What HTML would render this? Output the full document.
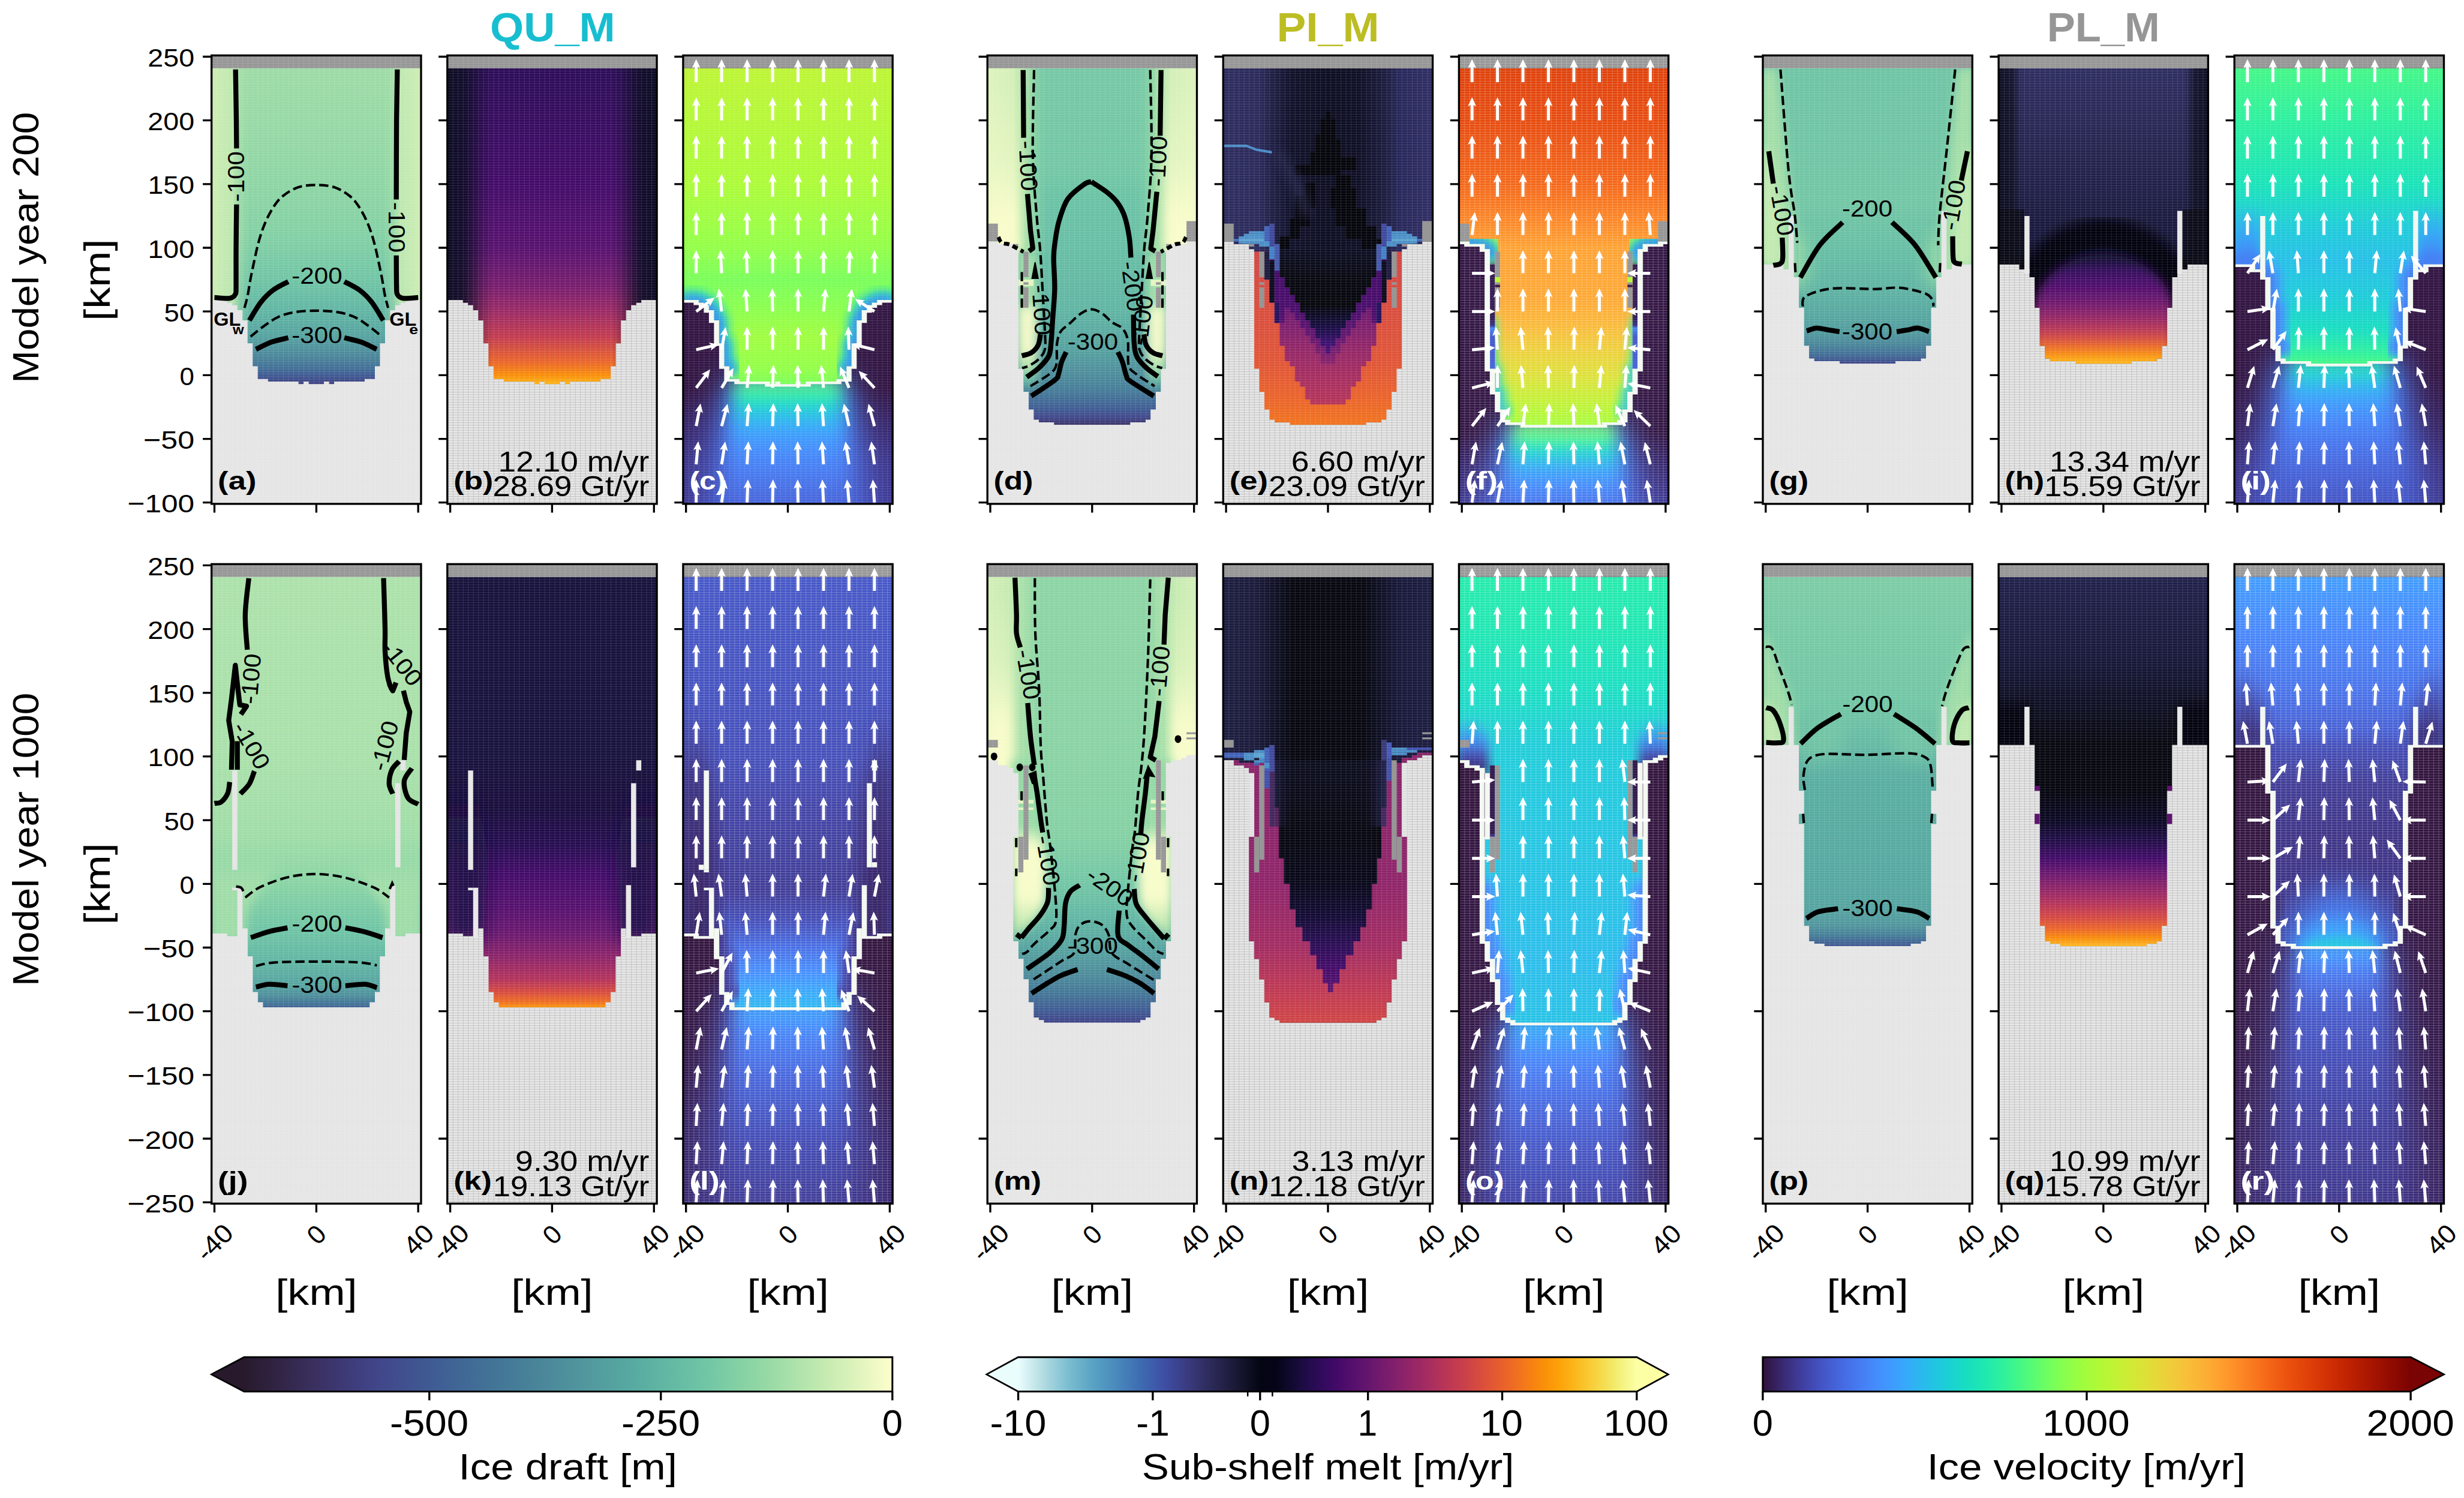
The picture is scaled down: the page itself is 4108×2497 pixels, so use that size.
<!DOCTYPE html>
<html><head><meta charset="utf-8"><title>figure</title>
<style>html,body{margin:0;padding:0;background:#fff}svg{display:block}text{font-family:"Liberation Sans", sans-serif;white-space:pre}</style>
</head><body>
<svg width="4108" height="2497" viewBox="0 0 4108 2497">
<defs>
<path id="ar" d="M-2.5,0 L-2.5,-25.6 L-6.9,-23.4 L0,-38.6 L6.9,-23.4 L2.5,-25.6 L2.5,0 Z" fill="#fff"/>
<filter id="b8" x="-20%" y="-20%" width="140%" height="140%"><feGaussianBlur stdDeviation="8"/></filter>
<filter id="b14" x="-30%" y="-30%" width="160%" height="160%"><feGaussianBlur stdDeviation="14"/></filter>
<filter id="b25" x="-50%" y="-50%" width="200%" height="200%"><feGaussianBlur stdDeviation="25"/></filter>
<clipPath id="cp_a"><rect x="352.7" y="92.4" width="349.3" height="747.5"/></clipPath>
<linearGradient id="a_v" gradientUnits="userSpaceOnUse" x1="0.0" y1="113.6" x2="0.0" y2="640.3"><stop offset="0.0000" stop-color="#9cdba6"/><stop offset="0.1653" stop-color="#97d9a5"/><stop offset="0.3669" stop-color="#8dd5a4"/><stop offset="0.5282" stop-color="#83d0a4"/><stop offset="0.6573" stop-color="#71c6a5"/><stop offset="0.7702" stop-color="#60b5a3"/><stop offset="0.8468" stop-color="#55a3a0"/><stop offset="0.9113" stop-color="#4a869a"/><stop offset="0.9516" stop-color="#416d96"/><stop offset="0.9718" stop-color="#3f5a93"/><stop offset="1.0000" stop-color="#404183"/></linearGradient>
<linearGradient id="a_hl" gradientUnits="userSpaceOnUse" x1="353.2" y1="0.0" x2="416.9" y2="0.0"><stop offset="0.0000" stop-color="#cdedb4" stop-opacity="1.000"/><stop offset="0.5333" stop-color="#c3eab0" stop-opacity="0.900"/><stop offset="0.7000" stop-color="#b1e3ab" stop-opacity="0.500"/><stop offset="1.0000" stop-color="#a2dda8" stop-opacity="0.000"/></linearGradient>
<linearGradient id="a_hr" gradientUnits="userSpaceOnUse" x1="637.8" y1="0.0" x2="701.5" y2="0.0"><stop offset="0.0000" stop-color="#a2dda8" stop-opacity="0.000"/><stop offset="0.3000" stop-color="#b1e3ab" stop-opacity="0.500"/><stop offset="0.4667" stop-color="#c3eab0" stop-opacity="0.900"/><stop offset="1.0000" stop-color="#cdedb4" stop-opacity="1.000"/></linearGradient>
<clipPath id="a_c"><path d="M349.0,113.6 L349.0,500.1 L378.7,500.1 L378.7,504.4 L387.2,504.4 L387.2,508.6 L395.7,508.6 L395.7,517.1 L404.2,517.1 L404.2,534.1 L412.7,534.1 L412.7,572.3 L421.2,572.3 L421.2,610.5 L429.7,610.5 L429.7,631.8 L446.7,631.8 L446.7,636.0 L497.6,636.0 L497.6,640.3 L506.1,640.3 L506.1,636.0 L514.6,636.0 L514.6,640.3 L527.4,640.3 L527.4,640.3 L540.1,640.3 L540.1,636.0 L548.6,636.0 L548.6,640.3 L557.1,640.3 L557.1,636.0 L608.0,636.0 L608.0,631.8 L625.0,631.8 L625.0,610.5 L633.5,610.5 L633.5,572.3 L642.0,572.3 L642.0,534.1 L650.5,534.1 L650.5,517.1 L659.0,517.1 L659.0,508.6 L667.5,508.6 L667.5,504.4 L676.0,504.4 L676.0,500.1 L705.7,500.1 L705.7,113.6 Z"/></clipPath>
<pattern id="gl_a" patternUnits="userSpaceOnUse" x="353.22" y="92.40" width="8.494" height="4.247"><path d="M0,0 V4.247 M0,0 H8.494" stroke="#fff" stroke-opacity="0.15" stroke-width="1.8" fill="none"/></pattern>
<pattern id="gd_a" patternUnits="userSpaceOnUse" x="353.22" y="92.40" width="8.494" height="4.247"><path d="M0,0 V4.247 M0,0 H8.494" stroke="#888" stroke-opacity="0.38" stroke-width="2" fill="none"/></pattern>
<clipPath id="cp_b"><rect x="745.8" y="92.4" width="349.3" height="747.5"/></clipPath>
<pattern id="gl_b" patternUnits="userSpaceOnUse" x="746.32" y="92.40" width="8.494" height="4.247"><path d="M0,0 V4.247 M0,0 H8.494" stroke="#fff" stroke-opacity="0.15" stroke-width="1.8" fill="none"/></pattern>
<pattern id="gd_b" patternUnits="userSpaceOnUse" x="746.32" y="92.40" width="8.494" height="4.247"><path d="M0,0 V4.247 M0,0 H8.494" stroke="#888" stroke-opacity="0.38" stroke-width="2" fill="none"/></pattern>
<linearGradient id="b_v" gradientUnits="userSpaceOnUse" x1="0.0" y1="113.6" x2="0.0" y2="640.3"><stop offset="0.0000" stop-color="#2b0b57"/><stop offset="0.3669" stop-color="#420a68"/><stop offset="0.5685" stop-color="#57106e"/><stop offset="0.6895" stop-color="#771c6d"/><stop offset="0.7702" stop-color="#9b2964"/><stop offset="0.8508" stop-color="#c33b4f"/><stop offset="0.9315" stop-color="#eb6628"/><stop offset="0.9718" stop-color="#f98e09"/><stop offset="1.0000" stop-color="#fcb418"/></linearGradient>
<clipPath id="b_c"><path d="M742.1,113.6 L742.1,500.1 L771.8,500.1 L771.8,504.4 L780.3,504.4 L780.3,508.6 L788.8,508.6 L788.8,517.1 L797.3,517.1 L797.3,534.1 L805.8,534.1 L805.8,572.3 L814.3,572.3 L814.3,610.5 L822.8,610.5 L822.8,631.8 L839.8,631.8 L839.8,636.0 L890.7,636.0 L890.7,640.3 L899.2,640.3 L899.2,636.0 L907.7,636.0 L907.7,640.3 L920.4,640.3 L920.4,640.3 L933.2,640.3 L933.2,636.0 L941.7,636.0 L941.7,640.3 L950.2,640.3 L950.2,636.0 L1001.1,636.0 L1001.1,631.8 L1018.1,631.8 L1018.1,610.5 L1026.6,610.5 L1026.6,572.3 L1035.1,572.3 L1035.1,534.1 L1043.6,534.1 L1043.6,517.1 L1052.1,517.1 L1052.1,508.6 L1060.6,508.6 L1060.6,504.4 L1069.1,504.4 L1069.1,500.1 L1098.8,500.1 L1098.8,113.6 Z"/></clipPath>
<linearGradient id="b_hl" gradientUnits="userSpaceOnUse" x1="746.3" y1="0.0" x2="822.8" y2="0.0"><stop offset="0.0000" stop-color="#0c0a24" stop-opacity="1.000"/><stop offset="0.3333" stop-color="#0c0a24" stop-opacity="0.920"/><stop offset="0.5556" stop-color="#0c0a24" stop-opacity="0.600"/><stop offset="0.7778" stop-color="#0c0a24" stop-opacity="0.200"/><stop offset="1.0000" stop-color="#0c0a24" stop-opacity="0.000"/></linearGradient>
<linearGradient id="b_hr" gradientUnits="userSpaceOnUse" x1="1018.1" y1="0.0" x2="1094.6" y2="0.0"><stop offset="0.0000" stop-color="#0c0a24" stop-opacity="0.000"/><stop offset="0.2222" stop-color="#0c0a24" stop-opacity="0.200"/><stop offset="0.4444" stop-color="#0c0a24" stop-opacity="0.600"/><stop offset="0.6667" stop-color="#0c0a24" stop-opacity="0.920"/><stop offset="1.0000" stop-color="#0c0a24" stop-opacity="1.000"/></linearGradient>
<clipPath id="cp_c"><rect x="1138.9" y="92.4" width="349.3" height="747.5"/></clipPath>
<linearGradient id="c_sd" gradientUnits="userSpaceOnUse" x1="0.0" y1="498.0" x2="0.0" y2="837.7"><stop offset="0.0000" stop-color="#321543"/><stop offset="0.4375" stop-color="#321543"/><stop offset="0.6250" stop-color="#38276d"/><stop offset="0.8125" stop-color="#3d358b"/><stop offset="1.0000" stop-color="#3e3891"/></linearGradient>
<linearGradient id="c_sw" gradientUnits="userSpaceOnUse" x1="0.0" y1="614.8" x2="0.0" y2="839.9"><stop offset="0.0000" stop-color="#4685fa"/><stop offset="0.4245" stop-color="#477bf2"/><stop offset="1.0000" stop-color="#455ed3"/></linearGradient>
<linearGradient id="c_st" gradientUnits="userSpaceOnUse" x1="0.0" y1="633.9" x2="0.0" y2="837.7"><stop offset="0.0000" stop-color="#79fe59"/><stop offset="0.0833" stop-color="#35f394"/><stop offset="0.1667" stop-color="#18dec0"/><stop offset="0.3229" stop-color="#2eb4f2"/><stop offset="0.4792" stop-color="#4196ff"/><stop offset="0.6875" stop-color="#4680f6"/><stop offset="1.0000" stop-color="#4664da"/></linearGradient>
<clipPath id="c_c"><path d="M1135.2,113.6 L1135.2,500.1 L1164.9,500.1 L1164.9,504.4 L1173.4,504.4 L1173.4,508.6 L1181.9,508.6 L1181.9,517.1 L1190.4,517.1 L1190.4,534.1 L1198.9,534.1 L1198.9,572.3 L1207.4,572.3 L1207.4,610.5 L1215.9,610.5 L1215.9,631.8 L1232.9,631.8 L1232.9,636.0 L1283.8,636.0 L1283.8,640.3 L1292.3,640.3 L1292.3,636.0 L1300.8,636.0 L1300.8,640.3 L1313.5,640.3 L1313.5,640.3 L1326.3,640.3 L1326.3,636.0 L1334.8,636.0 L1334.8,640.3 L1343.3,640.3 L1343.3,636.0 L1394.2,636.0 L1394.2,631.8 L1411.2,631.8 L1411.2,610.5 L1419.7,610.5 L1419.7,572.3 L1428.2,572.3 L1428.2,534.1 L1436.7,534.1 L1436.7,517.1 L1445.2,517.1 L1445.2,508.6 L1453.7,508.6 L1453.7,504.4 L1462.2,504.4 L1462.2,500.1 L1491.9,500.1 L1491.9,113.6 Z"/></clipPath>
<linearGradient id="c_sh" gradientUnits="userSpaceOnUse" x1="0.0" y1="113.6" x2="0.0" y2="642.4"><stop offset="0.0000" stop-color="#bcf534"/><stop offset="0.3655" stop-color="#acfb38"/><stop offset="0.5663" stop-color="#92ff47"/><stop offset="0.6667" stop-color="#79fe59"/><stop offset="0.7470" stop-color="#88ff4e"/><stop offset="0.8474" stop-color="#9ffd3f"/><stop offset="0.9478" stop-color="#92ff47"/><stop offset="1.0000" stop-color="#79fe59"/></linearGradient>
<pattern id="gl_c" patternUnits="userSpaceOnUse" x="1139.42" y="92.40" width="8.494" height="4.247"><path d="M0,0 V4.247 M0,0 H8.494" stroke="#fff" stroke-opacity="0.15" stroke-width="1.8" fill="none"/></pattern>
<pattern id="gd_c" patternUnits="userSpaceOnUse" x="1139.42" y="92.40" width="8.494" height="4.247"><path d="M0,0 V4.247 M0,0 H8.494" stroke="#888" stroke-opacity="0.38" stroke-width="2" fill="none"/></pattern>
<clipPath id="cp_d"><rect x="1646.2" y="92.4" width="349.3" height="747.5"/></clipPath>
<clipPath id="d_c"><path d="M1642.5,113.6 L1642.5,402.4 L1663.7,402.4 L1663.7,406.7 L1689.2,406.7 L1689.2,415.2 L1697.7,415.2 L1697.7,614.8 L1706.2,614.8 L1706.2,653.0 L1714.7,653.0 L1714.7,682.7 L1723.2,682.7 L1723.2,699.7 L1731.7,699.7 L1731.7,704.0 L1757.1,704.0 L1757.1,708.2 L1820.8,708.2 L1820.8,708.2 L1884.6,708.2 L1884.6,704.0 L1910.0,704.0 L1910.0,699.7 L1918.5,699.7 L1918.5,682.7 L1927.0,682.7 L1927.0,653.0 L1935.5,653.0 L1935.5,614.8 L1944.0,614.8 L1944.0,415.2 L1952.5,415.2 L1952.5,406.7 L1978.0,406.7 L1978.0,402.4 L1999.2,402.4 L1999.2,113.6 Z"/></clipPath>
<linearGradient id="d_v" gradientUnits="userSpaceOnUse" x1="0.0" y1="113.6" x2="0.0" y2="708.2"><stop offset="0.0000" stop-color="#75c8a5"/><stop offset="0.2893" stop-color="#72c7a5"/><stop offset="0.3607" stop-color="#6ac2a5"/><stop offset="0.5036" stop-color="#67bea4"/><stop offset="0.6750" stop-color="#60b5a3"/><stop offset="0.7821" stop-color="#55a3a0"/><stop offset="0.8429" stop-color="#4f919c"/><stop offset="0.8964" stop-color="#467f98"/><stop offset="0.9321" stop-color="#416b96"/><stop offset="0.9571" stop-color="#3f5a93"/><stop offset="0.9786" stop-color="#41488b"/><stop offset="1.0000" stop-color="#3b3469"/></linearGradient>
<linearGradient id="d_hl" gradientUnits="userSpaceOnUse" x1="1646.7" y1="0.0" x2="1748.7" y2="0.0"><stop offset="0.0000" stop-color="#ddf3bc" stop-opacity="1.000"/><stop offset="0.4167" stop-color="#d3efb7" stop-opacity="1.000"/><stop offset="0.5625" stop-color="#b4e4ac" stop-opacity="1.000"/><stop offset="0.6667" stop-color="#9edca7" stop-opacity="1.000"/><stop offset="0.7500" stop-color="#8dd5a4" stop-opacity="0.900"/><stop offset="0.8542" stop-color="#7fcea4" stop-opacity="0.500"/><stop offset="1.0000" stop-color="#76c9a5" stop-opacity="0.000"/></linearGradient>
<linearGradient id="d_hr" gradientUnits="userSpaceOnUse" x1="1893.0" y1="0.0" x2="1995.0" y2="0.0"><stop offset="0.0000" stop-color="#76c9a5" stop-opacity="0.000"/><stop offset="0.1458" stop-color="#7fcea4" stop-opacity="0.500"/><stop offset="0.2500" stop-color="#8dd5a4" stop-opacity="0.900"/><stop offset="0.3333" stop-color="#9edca7" stop-opacity="1.000"/><stop offset="0.4375" stop-color="#b4e4ac" stop-opacity="1.000"/><stop offset="0.5833" stop-color="#d3efb7" stop-opacity="1.000"/><stop offset="1.0000" stop-color="#ddf3bc" stop-opacity="1.000"/></linearGradient>
<linearGradient id="d_y" gradientUnits="userSpaceOnUse" x1="0.0" y1="137.0" x2="0.0" y2="421.5"><stop offset="0.0000" stop-color="#fbfdcb" stop-opacity="0.000"/><stop offset="0.4478" stop-color="#fbfdcb" stop-opacity="0.350"/><stop offset="0.7836" stop-color="#fbfdcb" stop-opacity="0.900"/><stop offset="1.0000" stop-color="#fbfdcb" stop-opacity="0.950"/></linearGradient>
<linearGradient id="d_e" gradientUnits="userSpaceOnUse" x1="0.0" y1="419.4" x2="0.0" y2="655.1"><stop offset="0.0000" stop-color="#a2dda8"/><stop offset="0.3694" stop-color="#a6dfa9"/><stop offset="0.4144" stop-color="#f7fcc9"/><stop offset="0.6937" stop-color="#f5fbc8"/><stop offset="0.8018" stop-color="#b8e6ad"/><stop offset="0.8919" stop-color="#76c9a5"/><stop offset="1.0000" stop-color="#55a3a0" stop-opacity="0.000"/></linearGradient>
<pattern id="gl_d" patternUnits="userSpaceOnUse" x="1646.72" y="92.40" width="8.494" height="4.247"><path d="M0,0 V4.247 M0,0 H8.494" stroke="#fff" stroke-opacity="0.15" stroke-width="1.8" fill="none"/></pattern>
<pattern id="gd_d" patternUnits="userSpaceOnUse" x="1646.72" y="92.40" width="8.494" height="4.247"><path d="M0,0 V4.247 M0,0 H8.494" stroke="#888" stroke-opacity="0.38" stroke-width="2" fill="none"/></pattern>
<clipPath id="cp_e"><rect x="2039.3" y="92.4" width="349.3" height="747.5"/></clipPath>
<pattern id="gl_e" patternUnits="userSpaceOnUse" x="2039.82" y="92.40" width="8.494" height="4.247"><path d="M0,0 V4.247 M0,0 H8.494" stroke="#fff" stroke-opacity="0.15" stroke-width="1.8" fill="none"/></pattern>
<pattern id="gd_e" patternUnits="userSpaceOnUse" x="2039.82" y="92.40" width="8.494" height="4.247"><path d="M0,0 V4.247 M0,0 H8.494" stroke="#888" stroke-opacity="0.38" stroke-width="2" fill="none"/></pattern>
<clipPath id="e_c"><path d="M2035.6,113.6 L2035.6,402.4 L2056.8,402.4 L2056.8,406.7 L2082.3,406.7 L2082.3,415.2 L2090.8,415.2 L2090.8,614.8 L2099.3,614.8 L2099.3,653.0 L2107.8,653.0 L2107.8,682.7 L2116.3,682.7 L2116.3,699.7 L2124.8,699.7 L2124.8,704.0 L2150.2,704.0 L2150.2,708.2 L2214.0,708.2 L2214.0,708.2 L2277.7,708.2 L2277.7,704.0 L2303.1,704.0 L2303.1,699.7 L2311.6,699.7 L2311.6,682.7 L2320.1,682.7 L2320.1,653.0 L2328.6,653.0 L2328.6,614.8 L2337.1,614.8 L2337.1,415.2 L2345.6,415.2 L2345.6,406.7 L2371.1,406.7 L2371.1,402.4 L2392.3,402.4 L2392.3,113.6 Z"/></clipPath>
<linearGradient id="e_o" gradientUnits="userSpaceOnUse" x1="0.0" y1="402.4" x2="0.0" y2="708.2"><stop offset="0.0000" stop-color="#d04545"/><stop offset="0.3125" stop-color="#d74b3f"/><stop offset="0.6597" stop-color="#e05536"/><stop offset="0.8333" stop-color="#e9612b"/><stop offset="1.0000" stop-color="#f1731d"/></linearGradient>
<linearGradient id="e_n" gradientUnits="userSpaceOnUse" x1="2039.8" y1="0.0" x2="2388.1" y2="0.0"><stop offset="0.0000" stop-color="#2c2b5e"/><stop offset="0.1707" stop-color="#2a295a"/><stop offset="0.2317" stop-color="#1e1e44"/><stop offset="0.3171" stop-color="#10112a"/><stop offset="0.5000" stop-color="#0b0c20"/><stop offset="0.6463" stop-color="#0d0e24"/><stop offset="0.7683" stop-color="#1a1a3c"/><stop offset="0.8415" stop-color="#27265a"/><stop offset="1.0000" stop-color="#2f2d63"/></linearGradient>
<linearGradient id="e_m" gradientUnits="userSpaceOnUse" x1="0.0" y1="444.9" x2="0.0" y2="674.2"><stop offset="0.0000" stop-color="#4a0c6b"/><stop offset="0.2315" stop-color="#5f136e"/><stop offset="0.4167" stop-color="#7c1d6d"/><stop offset="0.6019" stop-color="#932667"/><stop offset="0.7870" stop-color="#a52c60"/><stop offset="1.0000" stop-color="#b63458"/></linearGradient>
<linearGradient id="e_p" gradientUnits="userSpaceOnUse" x1="0.0" y1="444.9" x2="0.0" y2="606.3"><stop offset="0.0000" stop-color="#420a68"/><stop offset="0.4605" stop-color="#4a0c6b"/><stop offset="0.7237" stop-color="#5f136e" stop-opacity="0.900"/><stop offset="1.0000" stop-color="#771c6d" stop-opacity="0.600"/></linearGradient>
<linearGradient id="e_v" gradientUnits="userSpaceOnUse" x1="0.0" y1="419.4" x2="0.0" y2="589.3"><stop offset="0.0000" stop-color="#0c0e22"/><stop offset="0.2750" stop-color="#06070f"/><stop offset="0.5250" stop-color="#05050c"/><stop offset="0.6500" stop-color="#0d0b2b"/><stop offset="0.7750" stop-color="#1d0c4b"/><stop offset="0.9000" stop-color="#3b0f70"/><stop offset="1.0000" stop-color="#4b1079"/></linearGradient>
<clipPath id="cp_f"><rect x="2432.4" y="92.4" width="349.3" height="747.5"/></clipPath>
<linearGradient id="f_sd" gradientUnits="userSpaceOnUse" x1="0.0" y1="413.0" x2="0.0" y2="837.7"><stop offset="0.0000" stop-color="#321543"/><stop offset="0.7250" stop-color="#321543"/><stop offset="0.8500" stop-color="#38276d"/><stop offset="1.0000" stop-color="#3e3891"/></linearGradient>
<linearGradient id="f_sw" gradientUnits="userSpaceOnUse" x1="0.0" y1="689.1" x2="0.0" y2="839.9"><stop offset="0.0000" stop-color="#4685fa"/><stop offset="0.5634" stop-color="#477bf2"/><stop offset="1.0000" stop-color="#4664da"/></linearGradient>
<linearGradient id="f_st" gradientUnits="userSpaceOnUse" x1="0.0" y1="706.1" x2="0.0" y2="839.9"><stop offset="0.0000" stop-color="#a4fc3c"/><stop offset="0.0952" stop-color="#6dfe62"/><stop offset="0.2222" stop-color="#27eea4"/><stop offset="0.3810" stop-color="#1ecbda"/><stop offset="0.5873" stop-color="#3ba0fd"/><stop offset="0.8254" stop-color="#4685fa"/><stop offset="1.0000" stop-color="#4771e9"/></linearGradient>
<clipPath id="f_c"><path d="M2428.7,113.6 L2428.7,402.4 L2449.9,402.4 L2449.9,406.7 L2475.4,406.7 L2475.4,415.2 L2483.9,415.2 L2483.9,614.8 L2492.4,614.8 L2492.4,653.0 L2500.9,653.0 L2500.9,682.7 L2509.4,682.7 L2509.4,699.7 L2517.9,699.7 L2517.9,704.0 L2543.3,704.0 L2543.3,708.2 L2607.1,708.2 L2607.1,708.2 L2670.8,708.2 L2670.8,704.0 L2696.2,704.0 L2696.2,699.7 L2704.7,699.7 L2704.7,682.7 L2713.2,682.7 L2713.2,653.0 L2721.7,653.0 L2721.7,614.8 L2730.2,614.8 L2730.2,415.2 L2738.7,415.2 L2738.7,406.7 L2764.2,406.7 L2764.2,402.4 L2785.4,402.4 L2785.4,113.6 Z"/></clipPath>
<linearGradient id="f_sh" gradientUnits="userSpaceOnUse" x1="0.0" y1="113.6" x2="0.0" y2="710.3"><stop offset="0.0000" stop-color="#df3f08"/><stop offset="0.1459" stop-color="#e7490c"/><stop offset="0.3238" stop-color="#f46617"/><stop offset="0.4306" stop-color="#fc8725"/><stop offset="0.5018" stop-color="#fea130"/><stop offset="0.6441" stop-color="#fea732"/><stop offset="0.7082" stop-color="#fbb637"/><stop offset="0.7865" stop-color="#eecf3a"/><stop offset="0.8577" stop-color="#dde037"/><stop offset="0.9288" stop-color="#c3f134"/><stop offset="1.0000" stop-color="#a7fc3a"/></linearGradient>
<pattern id="gl_f" patternUnits="userSpaceOnUse" x="2432.92" y="92.40" width="8.494" height="4.247"><path d="M0,0 V4.247 M0,0 H8.494" stroke="#fff" stroke-opacity="0.15" stroke-width="1.8" fill="none"/></pattern>
<pattern id="gd_f" patternUnits="userSpaceOnUse" x="2432.92" y="92.40" width="8.494" height="4.247"><path d="M0,0 V4.247 M0,0 H8.494" stroke="#888" stroke-opacity="0.38" stroke-width="2" fill="none"/></pattern>
<linearGradient id="f_wst" gradientUnits="userSpaceOnUse" x1="0.0" y1="415.2" x2="0.0" y2="614.8"><stop offset="0.0000" stop-color="#341b51"/><stop offset="0.5745" stop-color="#351e58"/><stop offset="0.6383" stop-color="#3c3286"/><stop offset="0.6596" stop-color="#4685fa"/><stop offset="0.7340" stop-color="#4559cb"/><stop offset="1.0000" stop-color="#4664da"/></linearGradient>
<clipPath id="cp_g"><rect x="2939.0" y="92.4" width="349.3" height="747.5"/></clipPath>
<clipPath id="g_c"><path d="M2935.3,113.6 L2935.3,440.7 L2973.5,440.7 L2973.5,449.1 L2990.5,449.1 L2990.5,461.9 L2999.0,461.9 L2999.0,512.9 L3007.5,512.9 L3007.5,576.6 L3016.0,576.6 L3016.0,597.8 L3024.5,597.8 L3024.5,602.0 L3066.9,602.0 L3066.9,606.3 L3113.7,606.3 L3113.7,606.3 L3160.4,606.3 L3160.4,602.0 L3202.8,602.0 L3202.8,597.8 L3211.3,597.8 L3211.3,576.6 L3219.8,576.6 L3219.8,512.9 L3228.3,512.9 L3228.3,461.9 L3236.8,461.9 L3236.8,449.1 L3253.8,449.1 L3253.8,440.7 L3292.0,440.7 L3292.0,113.6 Z"/></clipPath>
<linearGradient id="g_v" gradientUnits="userSpaceOnUse" x1="0.0" y1="113.6" x2="0.0" y2="608.4"><stop offset="0.0000" stop-color="#6ec4a5"/><stop offset="0.4549" stop-color="#71c6a5"/><stop offset="0.6052" stop-color="#67bea4"/><stop offset="0.7339" stop-color="#5fb4a3"/><stop offset="0.8412" stop-color="#56a6a0"/><stop offset="0.8841" stop-color="#529c9e"/><stop offset="0.9313" stop-color="#4a869a"/><stop offset="0.9657" stop-color="#416d96"/><stop offset="0.9871" stop-color="#405390"/><stop offset="1.0000" stop-color="#404183"/></linearGradient>
<linearGradient id="g_el" gradientUnits="userSpaceOnUse" x1="2999.0" y1="0.0" x2="3041.5" y2="0.0"><stop offset="0.0000" stop-color="#8dd5a4" stop-opacity="0.900"/><stop offset="1.0000" stop-color="#71c6a5" stop-opacity="0.000"/></linearGradient>
<linearGradient id="g_er" gradientUnits="userSpaceOnUse" x1="3185.8" y1="0.0" x2="3228.3" y2="0.0"><stop offset="0.0000" stop-color="#71c6a5" stop-opacity="0.000"/><stop offset="1.0000" stop-color="#8dd5a4" stop-opacity="0.900"/></linearGradient>
<linearGradient id="g_em" gradientUnits="userSpaceOnUse" x1="0.0" y1="370.6" x2="0.0" y2="498.0"><stop offset="0.0000" stop-color="#fff" stop-opacity="0.000"/><stop offset="0.3333" stop-color="#fff" stop-opacity="1.000"/><stop offset="0.6667" stop-color="#fff" stop-opacity="1.000"/><stop offset="1.0000" stop-color="#fff" stop-opacity="0.000"/></linearGradient>
<mask id="g_m"><rect x="2939.0" y="92.4" width="349.3" height="747.5" fill="url(#g_em)"/></mask>
<pattern id="gl_g" patternUnits="userSpaceOnUse" x="2939.52" y="92.40" width="8.494" height="4.247"><path d="M0,0 V4.247 M0,0 H8.494" stroke="#fff" stroke-opacity="0.15" stroke-width="1.8" fill="none"/></pattern>
<pattern id="gd_g" patternUnits="userSpaceOnUse" x="2939.52" y="92.40" width="8.494" height="4.247"><path d="M0,0 V4.247 M0,0 H8.494" stroke="#888" stroke-opacity="0.38" stroke-width="2" fill="none"/></pattern>
<clipPath id="cp_h"><rect x="3332.1" y="92.4" width="349.3" height="747.5"/></clipPath>
<pattern id="gl_h" patternUnits="userSpaceOnUse" x="3332.62" y="92.40" width="8.494" height="4.247"><path d="M0,0 V4.247 M0,0 H8.494" stroke="#fff" stroke-opacity="0.15" stroke-width="1.8" fill="none"/></pattern>
<pattern id="gd_h" patternUnits="userSpaceOnUse" x="3332.62" y="92.40" width="8.494" height="4.247"><path d="M0,0 V4.247 M0,0 H8.494" stroke="#888" stroke-opacity="0.38" stroke-width="2" fill="none"/></pattern>
<clipPath id="h_c"><path d="M3328.4,113.6 L3328.4,440.7 L3366.6,440.7 L3366.6,449.1 L3383.6,449.1 L3383.6,461.9 L3392.1,461.9 L3392.1,512.9 L3400.6,512.9 L3400.6,576.6 L3409.1,576.6 L3409.1,597.8 L3417.6,597.8 L3417.6,602.0 L3460.0,602.0 L3460.0,606.3 L3506.8,606.3 L3506.8,606.3 L3553.5,606.3 L3553.5,602.0 L3595.9,602.0 L3595.9,597.8 L3604.4,597.8 L3604.4,576.6 L3612.9,576.6 L3612.9,512.9 L3621.4,512.9 L3621.4,461.9 L3629.9,461.9 L3629.9,449.1 L3646.9,449.1 L3646.9,440.7 L3685.1,440.7 L3685.1,113.6 Z"/></clipPath>
<linearGradient id="h_v" gradientUnits="userSpaceOnUse" x1="0.0" y1="113.6" x2="0.0" y2="625.4"><stop offset="0.0000" stop-color="#2d2c60"/><stop offset="0.1701" stop-color="#282755"/><stop offset="0.3776" stop-color="#201f48"/><stop offset="0.4813" stop-color="#1a1a40"/><stop offset="0.6058" stop-color="#14143a"/><stop offset="0.6473" stop-color="#05050e"/><stop offset="1.0000" stop-color="#05050e"/></linearGradient>
<linearGradient id="h_d" gradientUnits="userSpaceOnUse" x1="0.0" y1="417.3" x2="0.0" y2="606.3"><stop offset="0.0000" stop-color="#0c0822"/><stop offset="0.0899" stop-color="#160b39"/><stop offset="0.1798" stop-color="#340a5f"/><stop offset="0.2921" stop-color="#4a0c6b"/><stop offset="0.4494" stop-color="#6a176e"/><stop offset="0.6180" stop-color="#9b2964"/><stop offset="0.7528" stop-color="#cc4248"/><stop offset="0.8652" stop-color="#f06f20"/><stop offset="0.9551" stop-color="#fca108"/><stop offset="1.0000" stop-color="#fbbe23"/></linearGradient>
<linearGradient id="h_l" gradientUnits="userSpaceOnUse" x1="3332.6" y1="0.0" x2="3370.8" y2="0.0"><stop offset="0.0000" stop-color="#0a0b1c" stop-opacity="0.900"/><stop offset="0.5556" stop-color="#0a0b1c" stop-opacity="0.750"/><stop offset="1.0000" stop-color="#0a0b1c" stop-opacity="0.000"/></linearGradient>
<linearGradient id="h_r" gradientUnits="userSpaceOnUse" x1="3642.7" y1="0.0" x2="3680.9" y2="0.0"><stop offset="0.0000" stop-color="#0a0b1c" stop-opacity="0.000"/><stop offset="0.4444" stop-color="#0a0b1c" stop-opacity="0.750"/><stop offset="1.0000" stop-color="#0a0b1c" stop-opacity="0.900"/></linearGradient>
<clipPath id="cp_i"><rect x="3725.2" y="92.4" width="349.3" height="747.5"/></clipPath>
<linearGradient id="i_sd" gradientUnits="userSpaceOnUse" x1="0.0" y1="434.3" x2="0.0" y2="839.9"><stop offset="0.0000" stop-color="#321543"/><stop offset="0.4712" stop-color="#321543"/><stop offset="0.6806" stop-color="#36215f"/><stop offset="0.8377" stop-color="#3b2f80"/><stop offset="1.0000" stop-color="#3d358b"/></linearGradient>
<linearGradient id="i_sw" gradientUnits="userSpaceOnUse" x1="0.0" y1="582.9" x2="0.0" y2="839.9"><stop offset="0.0000" stop-color="#477bf2"/><stop offset="0.4132" stop-color="#4771e9"/><stop offset="1.0000" stop-color="#4456c7"/></linearGradient>
<linearGradient id="i_st" gradientUnits="userSpaceOnUse" x1="0.0" y1="599.9" x2="0.0" y2="839.9"><stop offset="0.0000" stop-color="#3cf58e"/><stop offset="0.0708" stop-color="#18dbc5"/><stop offset="0.1770" stop-color="#2eb4f2"/><stop offset="0.3274" stop-color="#4294ff"/><stop offset="0.5487" stop-color="#4778f0"/><stop offset="0.7699" stop-color="#4664da"/><stop offset="1.0000" stop-color="#4454c3"/></linearGradient>
<clipPath id="i_c"><path d="M3721.5,113.6 L3721.5,440.7 L3759.7,440.7 L3759.7,449.1 L3776.7,449.1 L3776.7,461.9 L3785.2,461.9 L3785.2,512.9 L3793.7,512.9 L3793.7,576.6 L3802.2,576.6 L3802.2,597.8 L3810.7,597.8 L3810.7,602.0 L3853.1,602.0 L3853.1,606.3 L3899.8,606.3 L3899.8,606.3 L3946.6,606.3 L3946.6,602.0 L3989.0,602.0 L3989.0,597.8 L3997.5,597.8 L3997.5,576.6 L4006.0,576.6 L4006.0,512.9 L4014.5,512.9 L4014.5,461.9 L4023.0,461.9 L4023.0,449.1 L4040.0,449.1 L4040.0,440.7 L4078.2,440.7 L4078.2,113.6 Z"/></clipPath>
<linearGradient id="i_sh" gradientUnits="userSpaceOnUse" x1="0.0" y1="113.6" x2="0.0" y2="608.4"><stop offset="0.0000" stop-color="#43f787"/><stop offset="0.1760" stop-color="#2cf09e"/><stop offset="0.3906" stop-color="#19e3b9"/><stop offset="0.5408" stop-color="#1ecbda"/><stop offset="0.6481" stop-color="#25c0e7"/><stop offset="0.7768" stop-color="#1ccdd8"/><stop offset="0.8841" stop-color="#18dec0"/><stop offset="0.9571" stop-color="#2cf09e"/><stop offset="1.0000" stop-color="#46f884"/></linearGradient>
<pattern id="gl_i" patternUnits="userSpaceOnUse" x="3725.72" y="92.40" width="8.494" height="4.247"><path d="M0,0 V4.247 M0,0 H8.494" stroke="#fff" stroke-opacity="0.15" stroke-width="1.8" fill="none"/></pattern>
<pattern id="gd_i" patternUnits="userSpaceOnUse" x="3725.72" y="92.40" width="8.494" height="4.247"><path d="M0,0 V4.247 M0,0 H8.494" stroke="#888" stroke-opacity="0.38" stroke-width="2" fill="none"/></pattern>
<linearGradient id="i_sp" gradientUnits="userSpaceOnUse" x1="0.0" y1="338.7" x2="0.0" y2="436.4"><stop offset="0.0000" stop-color="#3ba0fd" stop-opacity="0.000"/><stop offset="0.5435" stop-color="#3e9bfe" stop-opacity="0.750"/><stop offset="1.0000" stop-color="#477bf2" stop-opacity="1.000"/></linearGradient>
<clipPath id="cp_j"><rect x="352.7" y="940.3" width="349.3" height="1066.0"/></clipPath>
<clipPath id="j_c"><path d="M349.0,961.5 L349.0,1556.1 L378.7,1556.1 L378.7,1560.4 L404.2,1560.4 L404.2,1547.6 L412.7,1547.6 L412.7,1594.3 L421.2,1594.3 L421.2,1653.8 L429.7,1653.8 L429.7,1670.8 L438.2,1670.8 L438.2,1679.3 L527.4,1679.3 L527.4,1679.3 L616.5,1679.3 L616.5,1670.8 L625.0,1670.8 L625.0,1653.8 L633.5,1653.8 L633.5,1594.3 L642.0,1594.3 L642.0,1547.6 L650.5,1547.6 L650.5,1560.4 L676.0,1560.4 L676.0,1556.1 L705.7,1556.1 L705.7,961.5 Z"/></clipPath>
<linearGradient id="j_v" gradientUnits="userSpaceOnUse" x1="0.0" y1="961.5" x2="0.0" y2="1681.4"><stop offset="0.0000" stop-color="#ace1aa"/><stop offset="0.4159" stop-color="#a9e0aa"/><stop offset="0.5929" stop-color="#a0dda7"/><stop offset="0.6873" stop-color="#8ed6a4"/><stop offset="0.8053" stop-color="#71c6a5"/><stop offset="0.8938" stop-color="#60b5a3"/><stop offset="0.9469" stop-color="#55a3a0"/><stop offset="0.9705" stop-color="#4d8d9b"/><stop offset="0.9853" stop-color="#437897"/><stop offset="1.0000" stop-color="#3f5e94"/></linearGradient>
<linearGradient id="j_s" gradientUnits="userSpaceOnUse" x1="0.0" y1="1430.8" x2="0.0" y2="1562.5"><stop offset="0.0000" stop-color="#a6dfa9" stop-opacity="0.000"/><stop offset="0.3226" stop-color="#a3dea8" stop-opacity="0.900"/><stop offset="1.0000" stop-color="#9edca7" stop-opacity="1.000"/></linearGradient>
<pattern id="gl_j" patternUnits="userSpaceOnUse" x="353.22" y="940.30" width="8.494" height="4.247"><path d="M0,0 V4.247 M0,0 H8.494" stroke="#fff" stroke-opacity="0.15" stroke-width="1.8" fill="none"/></pattern>
<pattern id="gd_j" patternUnits="userSpaceOnUse" x="353.22" y="940.30" width="8.494" height="4.247"><path d="M0,0 V4.247 M0,0 H8.494" stroke="#888" stroke-opacity="0.38" stroke-width="2" fill="none"/></pattern>
<clipPath id="cp_k"><rect x="745.8" y="940.3" width="349.3" height="1066.0"/></clipPath>
<pattern id="gl_k" patternUnits="userSpaceOnUse" x="746.32" y="940.30" width="8.494" height="4.247"><path d="M0,0 V4.247 M0,0 H8.494" stroke="#fff" stroke-opacity="0.15" stroke-width="1.8" fill="none"/></pattern>
<pattern id="gd_k" patternUnits="userSpaceOnUse" x="746.32" y="940.30" width="8.494" height="4.247"><path d="M0,0 V4.247 M0,0 H8.494" stroke="#888" stroke-opacity="0.38" stroke-width="2" fill="none"/></pattern>
<clipPath id="k_c"><path d="M742.1,961.5 L742.1,1556.1 L771.8,1556.1 L771.8,1560.4 L797.3,1560.4 L797.3,1547.6 L805.8,1547.6 L805.8,1594.3 L814.3,1594.3 L814.3,1653.8 L822.8,1653.8 L822.8,1670.8 L831.3,1670.8 L831.3,1679.3 L920.4,1679.3 L920.4,1679.3 L1009.6,1679.3 L1009.6,1670.8 L1018.1,1670.8 L1018.1,1653.8 L1026.6,1653.8 L1026.6,1594.3 L1035.1,1594.3 L1035.1,1547.6 L1043.6,1547.6 L1043.6,1560.4 L1069.1,1560.4 L1069.1,1556.1 L1098.8,1556.1 L1098.8,961.5 Z"/></clipPath>
<linearGradient id="k_v" gradientUnits="userSpaceOnUse" x1="0.0" y1="961.5" x2="0.0" y2="1681.4"><stop offset="0.0000" stop-color="#15113a"/><stop offset="0.4159" stop-color="#17113d"/><stop offset="0.5339" stop-color="#180c3c"/><stop offset="0.6224" stop-color="#260c51"/><stop offset="0.6873" stop-color="#420a68"/><stop offset="0.7699" stop-color="#57106e"/><stop offset="0.8260" stop-color="#6a176e"/><stop offset="0.8791" stop-color="#8c2369"/><stop offset="0.9322" stop-color="#b3325a"/><stop offset="0.9617" stop-color="#d74b3f"/><stop offset="0.9853" stop-color="#f06f20"/><stop offset="1.0000" stop-color="#fca108"/></linearGradient>
<linearGradient id="k_s" gradientUnits="userSpaceOnUse" x1="0.0" y1="1303.4" x2="0.0" y2="1568.9"><stop offset="0.0000" stop-color="#140f38" stop-opacity="0.000"/><stop offset="0.4000" stop-color="#160f3e" stop-opacity="0.800"/><stop offset="1.0000" stop-color="#1b0f48" stop-opacity="0.850"/></linearGradient>
<clipPath id="cp_l"><rect x="1138.9" y="940.3" width="349.3" height="1066.0"/></clipPath>
<linearGradient id="l_sd" gradientUnits="userSpaceOnUse" x1="0.0" y1="1554.0" x2="0.0" y2="2008.4"><stop offset="0.0000" stop-color="#30123b"/><stop offset="0.2897" stop-color="#321543"/><stop offset="0.5234" stop-color="#341b51"/><stop offset="0.7570" stop-color="#372466"/><stop offset="1.0000" stop-color="#38276d"/></linearGradient>
<linearGradient id="l_sw" gradientUnits="userSpaceOnUse" x1="0.0" y1="1600.7" x2="0.0" y2="2025.4"><stop offset="0.0000" stop-color="#4666dd"/><stop offset="0.3000" stop-color="#4559cb"/><stop offset="0.7000" stop-color="#4040a2"/><stop offset="1.0000" stop-color="#3c3286"/></linearGradient>
<linearGradient id="l_st" gradientUnits="userSpaceOnUse" x1="0.0" y1="1668.7" x2="0.0" y2="2008.4"><stop offset="0.0000" stop-color="#33adf7"/><stop offset="0.0813" stop-color="#4196ff"/><stop offset="0.1750" stop-color="#4680f6"/><stop offset="0.3625" stop-color="#4666dd"/><stop offset="0.6750" stop-color="#424bb5"/><stop offset="1.0000" stop-color="#3f3b97"/></linearGradient>
<clipPath id="l_c"><path d="M1135.2,961.5 L1135.2,1556.1 L1164.9,1556.1 L1164.9,1560.4 L1190.4,1560.4 L1190.4,1547.6 L1198.9,1547.6 L1198.9,1594.3 L1207.4,1594.3 L1207.4,1653.8 L1215.9,1653.8 L1215.9,1670.8 L1224.4,1670.8 L1224.4,1679.3 L1313.5,1679.3 L1313.5,1679.3 L1402.7,1679.3 L1402.7,1670.8 L1411.2,1670.8 L1411.2,1653.8 L1419.7,1653.8 L1419.7,1594.3 L1428.2,1594.3 L1428.2,1547.6 L1436.7,1547.6 L1436.7,1560.4 L1462.2,1560.4 L1462.2,1556.1 L1491.9,1556.1 L1491.9,961.5 Z"/></clipPath>
<linearGradient id="l_sh" gradientUnits="userSpaceOnUse" x1="0.0" y1="961.5" x2="0.0" y2="1681.4"><stop offset="0.0000" stop-color="#4456c7"/><stop offset="0.4159" stop-color="#434eba"/><stop offset="0.5339" stop-color="#4143a7"/><stop offset="0.6519" stop-color="#3f3e9c"/><stop offset="0.7257" stop-color="#3f3b97"/><stop offset="0.7994" stop-color="#434eba"/><stop offset="0.8584" stop-color="#476ee6"/><stop offset="0.9174" stop-color="#448ffe"/><stop offset="0.9617" stop-color="#37a8fa"/><stop offset="1.0000" stop-color="#2cb7f0"/></linearGradient>
<pattern id="gl_l" patternUnits="userSpaceOnUse" x="1139.42" y="940.30" width="8.494" height="4.247"><path d="M0,0 V4.247 M0,0 H8.494" stroke="#fff" stroke-opacity="0.15" stroke-width="1.8" fill="none"/></pattern>
<pattern id="gd_l" patternUnits="userSpaceOnUse" x="1139.42" y="940.30" width="8.494" height="4.247"><path d="M0,0 V4.247 M0,0 H8.494" stroke="#888" stroke-opacity="0.38" stroke-width="2" fill="none"/></pattern>
<linearGradient id="l_sp" gradientUnits="userSpaceOnUse" x1="0.0" y1="1176.0" x2="0.0" y2="1568.9"><stop offset="0.0000" stop-color="#392a73" stop-opacity="0.000"/><stop offset="0.3243" stop-color="#392a73" stop-opacity="0.800"/><stop offset="1.0000" stop-color="#36215f" stop-opacity="1.000"/></linearGradient>
<clipPath id="cp_m"><rect x="1646.2" y="940.3" width="349.3" height="1066.0"/></clipPath>
<clipPath id="m_c"><path d="M1642.5,961.5 L1642.5,1267.3 L1663.7,1267.3 L1663.7,1275.8 L1680.7,1275.8 L1680.7,1280.1 L1689.2,1280.1 L1689.2,1568.9 L1697.7,1568.9 L1697.7,1598.6 L1706.2,1598.6 L1706.2,1632.6 L1714.7,1632.6 L1714.7,1670.8 L1723.2,1670.8 L1723.2,1696.3 L1731.7,1696.3 L1731.7,1700.5 L1740.2,1700.5 L1740.2,1704.8 L1901.5,1704.8 L1901.5,1700.5 L1910.0,1700.5 L1910.0,1696.3 L1918.5,1696.3 L1918.5,1670.8 L1927.0,1670.8 L1927.0,1632.6 L1935.5,1632.6 L1935.5,1598.6 L1944.0,1598.6 L1944.0,1568.9 L1952.5,1568.9 L1952.5,1267.3 L1969.5,1267.3 L1969.5,1263.1 L1978.0,1263.1 L1978.0,1258.8 L1999.2,1258.8 L1999.2,961.5 Z"/></clipPath>
<linearGradient id="m_v" gradientUnits="userSpaceOnUse" x1="0.0" y1="961.5" x2="0.0" y2="1704.8"><stop offset="0.0000" stop-color="#8cd4a4"/><stop offset="0.4029" stop-color="#89d3a4"/><stop offset="0.5829" stop-color="#84d0a4"/><stop offset="0.6886" stop-color="#71c6a5"/><stop offset="0.7714" stop-color="#60b5a3"/><stop offset="0.8314" stop-color="#55a3a0"/><stop offset="0.8886" stop-color="#4d8d9b"/><stop offset="0.9314" stop-color="#437897"/><stop offset="0.9743" stop-color="#3f5a93"/><stop offset="1.0000" stop-color="#404287"/></linearGradient>
<linearGradient id="m_hl" gradientUnits="userSpaceOnUse" x1="1646.7" y1="0.0" x2="1744.4" y2="0.0"><stop offset="0.0000" stop-color="#d3efb7" stop-opacity="1.000"/><stop offset="0.3478" stop-color="#c7ebb1" stop-opacity="1.000"/><stop offset="0.5000" stop-color="#b1e3ab" stop-opacity="1.000"/><stop offset="0.6957" stop-color="#9edca7" stop-opacity="0.950"/><stop offset="0.8261" stop-color="#90d6a4" stop-opacity="0.600"/><stop offset="1.0000" stop-color="#8ad3a4" stop-opacity="0.000"/></linearGradient>
<linearGradient id="m_hr" gradientUnits="userSpaceOnUse" x1="1897.3" y1="0.0" x2="1995.0" y2="0.0"><stop offset="0.0000" stop-color="#8ad3a4" stop-opacity="0.000"/><stop offset="0.1739" stop-color="#90d6a4" stop-opacity="0.600"/><stop offset="0.3043" stop-color="#9edca7" stop-opacity="0.950"/><stop offset="0.5000" stop-color="#b1e3ab" stop-opacity="1.000"/><stop offset="0.6522" stop-color="#c7ebb1" stop-opacity="1.000"/><stop offset="1.0000" stop-color="#d3efb7" stop-opacity="1.000"/></linearGradient>
<linearGradient id="m_y" gradientUnits="userSpaceOnUse" x1="0.0" y1="995.5" x2="0.0" y2="1286.4"><stop offset="0.0000" stop-color="#fbfdcb" stop-opacity="0.000"/><stop offset="0.4015" stop-color="#fbfdcb" stop-opacity="0.300"/><stop offset="0.7299" stop-color="#fbfdcb" stop-opacity="0.900"/><stop offset="1.0000" stop-color="#fbfdcb" stop-opacity="0.950"/></linearGradient>
<linearGradient id="m_e" gradientUnits="userSpaceOnUse" x1="0.0" y1="1267.3" x2="0.0" y2="1600.7"><stop offset="0.0000" stop-color="#93d8a4"/><stop offset="0.3312" stop-color="#9adba6"/><stop offset="0.4268" stop-color="#f7fcc9"/><stop offset="0.6815" stop-color="#f7fcc9"/><stop offset="0.8217" stop-color="#c0e8af"/><stop offset="0.9108" stop-color="#8dd5a4"/><stop offset="1.0000" stop-color="#68bfa4" stop-opacity="0.000"/></linearGradient>
<pattern id="gl_m" patternUnits="userSpaceOnUse" x="1646.72" y="940.30" width="8.494" height="4.247"><path d="M0,0 V4.247 M0,0 H8.494" stroke="#fff" stroke-opacity="0.15" stroke-width="1.8" fill="none"/></pattern>
<pattern id="gd_m" patternUnits="userSpaceOnUse" x="1646.72" y="940.30" width="8.494" height="4.247"><path d="M0,0 V4.247 M0,0 H8.494" stroke="#888" stroke-opacity="0.38" stroke-width="2" fill="none"/></pattern>
<clipPath id="cp_n"><rect x="2039.3" y="940.3" width="349.3" height="1066.0"/></clipPath>
<pattern id="gl_n" patternUnits="userSpaceOnUse" x="2039.82" y="940.30" width="8.494" height="4.247"><path d="M0,0 V4.247 M0,0 H8.494" stroke="#fff" stroke-opacity="0.15" stroke-width="1.8" fill="none"/></pattern>
<pattern id="gd_n" patternUnits="userSpaceOnUse" x="2039.82" y="940.30" width="8.494" height="4.247"><path d="M0,0 V4.247 M0,0 H8.494" stroke="#888" stroke-opacity="0.38" stroke-width="2" fill="none"/></pattern>
<clipPath id="n_c"><path d="M2035.6,961.5 L2035.6,1267.3 L2056.8,1267.3 L2056.8,1275.8 L2073.8,1275.8 L2073.8,1280.1 L2082.3,1280.1 L2082.3,1568.9 L2090.8,1568.9 L2090.8,1598.6 L2099.3,1598.6 L2099.3,1632.6 L2107.8,1632.6 L2107.8,1670.8 L2116.3,1670.8 L2116.3,1696.3 L2124.8,1696.3 L2124.8,1700.5 L2133.3,1700.5 L2133.3,1704.8 L2294.6,1704.8 L2294.6,1700.5 L2303.1,1700.5 L2303.1,1696.3 L2311.6,1696.3 L2311.6,1670.8 L2320.1,1670.8 L2320.1,1632.6 L2328.6,1632.6 L2328.6,1598.6 L2337.1,1598.6 L2337.1,1568.9 L2345.6,1568.9 L2345.6,1267.3 L2362.6,1267.3 L2362.6,1263.1 L2371.1,1263.1 L2371.1,1258.8 L2392.3,1258.8 L2392.3,961.5 Z"/></clipPath>
<linearGradient id="n_n" gradientUnits="userSpaceOnUse" x1="2039.8" y1="0.0" x2="2388.1" y2="0.0"><stop offset="0.0000" stop-color="#1c1c40"/><stop offset="0.1585" stop-color="#191939"/><stop offset="0.2561" stop-color="#0d0e22"/><stop offset="0.3293" stop-color="#05060e"/><stop offset="0.6707" stop-color="#05060e"/><stop offset="0.7439" stop-color="#0d0e22"/><stop offset="0.8415" stop-color="#17173a"/><stop offset="1.0000" stop-color="#1c1c40"/></linearGradient>
<linearGradient id="n_m" gradientUnits="userSpaceOnUse" x1="0.0" y1="1267.3" x2="0.0" y2="1704.8"><stop offset="0.0000" stop-color="#8a226a"/><stop offset="0.4709" stop-color="#8f2469"/><stop offset="0.7136" stop-color="#a32c61"/><stop offset="0.8592" stop-color="#bc3754"/><stop offset="1.0000" stop-color="#d04545"/></linearGradient>
<linearGradient id="n_i" gradientUnits="userSpaceOnUse" x1="0.0" y1="1267.3" x2="0.0" y2="1653.8"><stop offset="0.0000" stop-color="#0b0c1e"/><stop offset="0.3132" stop-color="#06060f"/><stop offset="0.5330" stop-color="#08071a"/><stop offset="0.6703" stop-color="#120a33"/><stop offset="0.7802" stop-color="#260c51"/><stop offset="0.8901" stop-color="#420a68"/><stop offset="1.0000" stop-color="#5a116e"/></linearGradient>
<linearGradient id="n_ih" gradientUnits="userSpaceOnUse" x1="2116.3" y1="0.0" x2="2154.5" y2="0.0"><stop offset="0.0000" stop-color="#2a2a60" stop-opacity="0.800"/><stop offset="0.4444" stop-color="#1a1a40" stop-opacity="0.500"/><stop offset="1.0000" stop-color="#0a0a20" stop-opacity="0.000"/></linearGradient>
<linearGradient id="n_ihr" gradientUnits="userSpaceOnUse" x1="2273.4" y1="0.0" x2="2311.6" y2="0.0"><stop offset="0.0000" stop-color="#0a0a20" stop-opacity="0.000"/><stop offset="0.5556" stop-color="#1a1a40" stop-opacity="0.500"/><stop offset="1.0000" stop-color="#2a2a60" stop-opacity="0.800"/></linearGradient>
<clipPath id="cp_o"><rect x="2432.4" y="940.3" width="349.3" height="1066.0"/></clipPath>
<linearGradient id="o_sd" gradientUnits="userSpaceOnUse" x1="0.0" y1="1260.9" x2="0.0" y2="2008.4"><stop offset="0.0000" stop-color="#30123b"/><stop offset="0.5682" stop-color="#321543"/><stop offset="0.7386" stop-color="#341b51"/><stop offset="1.0000" stop-color="#36215f"/></linearGradient>
<linearGradient id="o_sw" gradientUnits="userSpaceOnUse" x1="0.0" y1="1664.4" x2="0.0" y2="2025.4"><stop offset="0.0000" stop-color="#477bf2"/><stop offset="0.2941" stop-color="#476ee6"/><stop offset="0.6471" stop-color="#434eba"/><stop offset="1.0000" stop-color="#3f3b97"/></linearGradient>
<linearGradient id="o_st" gradientUnits="userSpaceOnUse" x1="0.0" y1="1696.3" x2="0.0" y2="2008.4"><stop offset="0.0000" stop-color="#25c0e7"/><stop offset="0.0680" stop-color="#38a5fb"/><stop offset="0.2041" stop-color="#4687fb"/><stop offset="0.4082" stop-color="#476ee6"/><stop offset="0.6463" stop-color="#4559cb"/><stop offset="1.0000" stop-color="#4143a7"/></linearGradient>
<clipPath id="o_c"><path d="M2428.7,961.5 L2428.7,1267.3 L2449.9,1267.3 L2449.9,1275.8 L2466.9,1275.8 L2466.9,1280.1 L2475.4,1280.1 L2475.4,1568.9 L2483.9,1568.9 L2483.9,1598.6 L2492.4,1598.6 L2492.4,1632.6 L2500.9,1632.6 L2500.9,1670.8 L2509.4,1670.8 L2509.4,1696.3 L2517.9,1696.3 L2517.9,1700.5 L2526.4,1700.5 L2526.4,1704.8 L2687.7,1704.8 L2687.7,1700.5 L2696.2,1700.5 L2696.2,1696.3 L2704.7,1696.3 L2704.7,1670.8 L2713.2,1670.8 L2713.2,1632.6 L2721.7,1632.6 L2721.7,1598.6 L2730.2,1598.6 L2730.2,1568.9 L2738.7,1568.9 L2738.7,1267.3 L2755.7,1267.3 L2755.7,1263.1 L2764.2,1263.1 L2764.2,1258.8 L2785.4,1258.8 L2785.4,961.5 Z"/></clipPath>
<linearGradient id="o_sh" gradientUnits="userSpaceOnUse" x1="0.0" y1="961.5" x2="0.0" y2="1706.9"><stop offset="0.0000" stop-color="#22ebaa"/><stop offset="0.1168" stop-color="#1de7b2"/><stop offset="0.2593" stop-color="#18ddc2"/><stop offset="0.3732" stop-color="#1ccdd8"/><stop offset="0.5157" stop-color="#20c7df"/><stop offset="0.6866" stop-color="#23c3e4"/><stop offset="0.8575" stop-color="#28bceb"/><stop offset="0.9715" stop-color="#25c0e7"/><stop offset="1.0000" stop-color="#23c3e4"/></linearGradient>
<pattern id="gl_o" patternUnits="userSpaceOnUse" x="2432.92" y="940.30" width="8.494" height="4.247"><path d="M0,0 V4.247 M0,0 H8.494" stroke="#fff" stroke-opacity="0.15" stroke-width="1.8" fill="none"/></pattern>
<pattern id="gd_o" patternUnits="userSpaceOnUse" x="2432.92" y="940.30" width="8.494" height="4.247"><path d="M0,0 V4.247 M0,0 H8.494" stroke="#888" stroke-opacity="0.38" stroke-width="2" fill="none"/></pattern>
<linearGradient id="o_sp" gradientUnits="userSpaceOnUse" x1="0.0" y1="1197.2" x2="0.0" y2="1286.4"><stop offset="0.0000" stop-color="#4685fa" stop-opacity="0.000"/><stop offset="0.4286" stop-color="#477bf2" stop-opacity="0.800"/><stop offset="0.7619" stop-color="#3f3e9c" stop-opacity="1.000"/><stop offset="1.0000" stop-color="#38276d" stop-opacity="1.000"/></linearGradient>
<linearGradient id="o_wst" gradientUnits="userSpaceOnUse" x1="0.0" y1="1267.3" x2="0.0" y2="1396.9"><stop offset="0.0000" stop-color="#33184a"/><stop offset="0.9344" stop-color="#341b51"/><stop offset="1.0000" stop-color="#4249b1"/></linearGradient>
<clipPath id="cp_p"><rect x="2939.0" y="940.3" width="349.3" height="1066.0"/></clipPath>
<clipPath id="p_c"><path d="M2935.3,961.5 L2935.3,1241.8 L2999.0,1241.8 L2999.0,1318.3 L3007.5,1318.3 L3007.5,1543.4 L3016.0,1543.4 L3016.0,1568.9 L3024.5,1568.9 L3024.5,1573.1 L3041.5,1573.1 L3041.5,1577.3 L3113.7,1577.3 L3113.7,1577.3 L3185.8,1577.3 L3185.8,1573.1 L3202.8,1573.1 L3202.8,1568.9 L3211.3,1568.9 L3211.3,1543.4 L3219.8,1543.4 L3219.8,1318.3 L3228.3,1318.3 L3228.3,1241.8 L3292.0,1241.8 L3292.0,961.5 Z"/></clipPath>
<linearGradient id="p_v" gradientUnits="userSpaceOnUse" x1="0.0" y1="961.5" x2="0.0" y2="1579.5"><stop offset="0.0000" stop-color="#7ccca5"/><stop offset="0.3471" stop-color="#71c6a5"/><stop offset="0.4845" stop-color="#60b5a3"/><stop offset="0.5533" stop-color="#59ada1"/><stop offset="0.8282" stop-color="#56a8a1"/><stop offset="0.8969" stop-color="#55a3a0"/><stop offset="0.9416" stop-color="#50959d"/><stop offset="0.9656" stop-color="#467f98"/><stop offset="0.9828" stop-color="#416995"/><stop offset="1.0000" stop-color="#404f8e"/></linearGradient>
<pattern id="gl_p" patternUnits="userSpaceOnUse" x="2939.52" y="940.30" width="8.494" height="4.247"><path d="M0,0 V4.247 M0,0 H8.494" stroke="#fff" stroke-opacity="0.15" stroke-width="1.8" fill="none"/></pattern>
<pattern id="gd_p" patternUnits="userSpaceOnUse" x="2939.52" y="940.30" width="8.494" height="4.247"><path d="M0,0 V4.247 M0,0 H8.494" stroke="#888" stroke-opacity="0.38" stroke-width="2" fill="none"/></pattern>
<clipPath id="cp_q"><rect x="3332.1" y="940.3" width="349.3" height="1066.0"/></clipPath>
<pattern id="gl_q" patternUnits="userSpaceOnUse" x="3332.62" y="940.30" width="8.494" height="4.247"><path d="M0,0 V4.247 M0,0 H8.494" stroke="#fff" stroke-opacity="0.15" stroke-width="1.8" fill="none"/></pattern>
<pattern id="gd_q" patternUnits="userSpaceOnUse" x="3332.62" y="940.30" width="8.494" height="4.247"><path d="M0,0 V4.247 M0,0 H8.494" stroke="#888" stroke-opacity="0.38" stroke-width="2" fill="none"/></pattern>
<clipPath id="q_c"><path d="M3328.4,961.5 L3328.4,1241.8 L3392.1,1241.8 L3392.1,1318.3 L3400.6,1318.3 L3400.6,1543.4 L3409.1,1543.4 L3409.1,1568.9 L3417.6,1568.9 L3417.6,1573.1 L3434.6,1573.1 L3434.6,1577.3 L3506.8,1577.3 L3506.8,1577.3 L3578.9,1577.3 L3578.9,1573.1 L3595.9,1573.1 L3595.9,1568.9 L3604.4,1568.9 L3604.4,1543.4 L3612.9,1543.4 L3612.9,1318.3 L3621.4,1318.3 L3621.4,1241.8 L3685.1,1241.8 L3685.1,961.5 Z"/></clipPath>
<linearGradient id="q_v" gradientUnits="userSpaceOnUse" x1="0.0" y1="961.5" x2="0.0" y2="1579.5"><stop offset="0.0000" stop-color="#20204a"/><stop offset="0.2096" stop-color="#17183a"/><stop offset="0.3471" stop-color="#0d0e22"/><stop offset="0.4502" stop-color="#06070f"/><stop offset="0.5773" stop-color="#05050e"/><stop offset="0.6564" stop-color="#0a0722"/><stop offset="0.7079" stop-color="#1e0c45"/><stop offset="0.7595" stop-color="#420a68"/><stop offset="0.8007" stop-color="#6a176e"/><stop offset="0.8454" stop-color="#932667"/><stop offset="0.8797" stop-color="#b3325a"/><stop offset="0.9141" stop-color="#d04545"/><stop offset="0.9485" stop-color="#ea632a"/><stop offset="0.9725" stop-color="#f8890c"/><stop offset="1.0000" stop-color="#fbbe23"/></linearGradient>
<clipPath id="cp_r"><rect x="3725.2" y="940.3" width="349.3" height="1066.0"/></clipPath>
<linearGradient id="r_sd" gradientUnits="userSpaceOnUse" x1="0.0" y1="1239.7" x2="0.0" y2="2008.4"><stop offset="0.0000" stop-color="#30123b"/><stop offset="0.4420" stop-color="#321543"/><stop offset="0.6354" stop-color="#33184a"/><stop offset="1.0000" stop-color="#36215f"/></linearGradient>
<linearGradient id="r_sw" gradientUnits="userSpaceOnUse" x1="0.0" y1="1537.0" x2="0.0" y2="2025.4"><stop offset="0.0000" stop-color="#4456c7"/><stop offset="0.2174" stop-color="#434eba"/><stop offset="0.5217" stop-color="#3f3e9c"/><stop offset="1.0000" stop-color="#3b2f80"/></linearGradient>
<linearGradient id="r_st" gradientUnits="userSpaceOnUse" x1="0.0" y1="1566.7" x2="0.0" y2="2008.4"><stop offset="0.0000" stop-color="#2fb2f4"/><stop offset="0.0529" stop-color="#4294ff"/><stop offset="0.1250" stop-color="#4778f0"/><stop offset="0.2452" stop-color="#455ccf"/><stop offset="0.4135" stop-color="#434eba"/><stop offset="0.6538" stop-color="#4040a2"/><stop offset="1.0000" stop-color="#3d358b"/></linearGradient>
<clipPath id="r_c"><path d="M3721.5,961.5 L3721.5,1241.8 L3785.2,1241.8 L3785.2,1318.3 L3793.7,1318.3 L3793.7,1543.4 L3802.2,1543.4 L3802.2,1568.9 L3810.7,1568.9 L3810.7,1573.1 L3827.7,1573.1 L3827.7,1577.3 L3899.8,1577.3 L3899.8,1577.3 L3972.0,1577.3 L3972.0,1573.1 L3989.0,1573.1 L3989.0,1568.9 L3997.5,1568.9 L3997.5,1543.4 L4006.0,1543.4 L4006.0,1318.3 L4014.5,1318.3 L4014.5,1241.8 L4078.2,1241.8 L4078.2,961.5 Z"/></clipPath>
<linearGradient id="r_sh" gradientUnits="userSpaceOnUse" x1="0.0" y1="961.5" x2="0.0" y2="1579.5"><stop offset="0.0000" stop-color="#3e9bfe"/><stop offset="0.1409" stop-color="#4687fb"/><stop offset="0.3127" stop-color="#4771e9"/><stop offset="0.4158" stop-color="#455ed3"/><stop offset="0.4536" stop-color="#434eba"/><stop offset="0.5533" stop-color="#3f3b97"/><stop offset="0.6907" stop-color="#3c3286"/><stop offset="0.8282" stop-color="#3c3286"/><stop offset="0.9141" stop-color="#3e3891"/><stop offset="1.0000" stop-color="#3f3e9c"/></linearGradient>
<pattern id="gl_r" patternUnits="userSpaceOnUse" x="3725.72" y="940.30" width="8.494" height="4.247"><path d="M0,0 V4.247 M0,0 H8.494" stroke="#fff" stroke-opacity="0.15" stroke-width="1.8" fill="none"/></pattern>
<pattern id="gd_r" patternUnits="userSpaceOnUse" x="3725.72" y="940.30" width="8.494" height="4.247"><path d="M0,0 V4.247 M0,0 H8.494" stroke="#888" stroke-opacity="0.38" stroke-width="2" fill="none"/></pattern>
<linearGradient id="r_sp" gradientUnits="userSpaceOnUse" x1="0.0" y1="1101.7" x2="0.0" y2="1244.0"><stop offset="0.0000" stop-color="#3f3e9c" stop-opacity="0.000"/><stop offset="0.5224" stop-color="#3d358b" stop-opacity="0.700"/><stop offset="1.0000" stop-color="#36215f" stop-opacity="1.000"/></linearGradient>
<linearGradient id="cb1" gradientUnits="userSpaceOnUse" x1="407.0" y1="0.0" x2="1487.8" y2="0.0"><stop offset="0.0000" stop-color="#281a2c"/><stop offset="0.0357" stop-color="#2e213d"/><stop offset="0.0714" stop-color="#34284e"/><stop offset="0.1071" stop-color="#3a305f"/><stop offset="0.1429" stop-color="#3c3770"/><stop offset="0.1786" stop-color="#3f3f80"/><stop offset="0.2143" stop-color="#41488b"/><stop offset="0.2500" stop-color="#40518f"/><stop offset="0.2857" stop-color="#3f5a93"/><stop offset="0.3214" stop-color="#406495"/><stop offset="0.3571" stop-color="#416d96"/><stop offset="0.3929" stop-color="#437697"/><stop offset="0.4286" stop-color="#467f98"/><stop offset="0.4643" stop-color="#4b889a"/><stop offset="0.5000" stop-color="#4f919c"/><stop offset="0.5357" stop-color="#529a9e"/><stop offset="0.5714" stop-color="#55a3a0"/><stop offset="0.6071" stop-color="#58aca1"/><stop offset="0.6429" stop-color="#60b5a3"/><stop offset="0.6786" stop-color="#67bea4"/><stop offset="0.7143" stop-color="#71c6a5"/><stop offset="0.7500" stop-color="#7fcea4"/><stop offset="0.7857" stop-color="#8dd5a4"/><stop offset="0.8214" stop-color="#9edca7"/><stop offset="0.8571" stop-color="#b1e3ab"/><stop offset="0.8929" stop-color="#c3eab0"/><stop offset="0.9286" stop-color="#d6f0b9"/><stop offset="0.9643" stop-color="#eaf7c2"/><stop offset="1.0000" stop-color="#fdfecc"/></linearGradient>
<linearGradient id="cb2" gradientUnits="userSpaceOnUse" x1="1697.6" y1="0.0" x2="2728.8" y2="0.0"><stop offset="0.0000" stop-color="#eafdfd"/><stop offset="0.0163" stop-color="#d4eff2"/><stop offset="0.0326" stop-color="#bde2e6"/><stop offset="0.0489" stop-color="#a6d5de"/><stop offset="0.0652" stop-color="#90c9d7"/><stop offset="0.0815" stop-color="#7bbdd0"/><stop offset="0.0978" stop-color="#6db2cb"/><stop offset="0.1140" stop-color="#5ea7c5"/><stop offset="0.1303" stop-color="#559cc2"/><stop offset="0.1466" stop-color="#4e92bf"/><stop offset="0.1629" stop-color="#4886bb"/><stop offset="0.1792" stop-color="#437ab7"/><stop offset="0.1955" stop-color="#3e6db2"/><stop offset="0.2118" stop-color="#3e61ad"/><stop offset="0.2281" stop-color="#3e54a8"/><stop offset="0.2444" stop-color="#3d4a9c"/><stop offset="0.2607" stop-color="#3b418c"/><stop offset="0.2770" stop-color="#39397c"/><stop offset="0.2933" stop-color="#33326b"/><stop offset="0.3095" stop-color="#2d2b5a"/><stop offset="0.3258" stop-color="#26244c"/><stop offset="0.3421" stop-color="#1e1d3e"/><stop offset="0.3584" stop-color="#16162f"/><stop offset="0.3747" stop-color="#0d0e21"/><stop offset="0.3910" stop-color="#040613"/><stop offset="0.4164" stop-color="#050417"/><stop offset="0.4418" stop-color="#110a30"/><stop offset="0.4671" stop-color="#210c4a"/><stop offset="0.4925" stop-color="#320a5e"/><stop offset="0.5179" stop-color="#450a69"/><stop offset="0.5433" stop-color="#57106e"/><stop offset="0.5686" stop-color="#67166e"/><stop offset="0.5940" stop-color="#781c6d"/><stop offset="0.6194" stop-color="#8a226a"/><stop offset="0.6448" stop-color="#9a2865"/><stop offset="0.6701" stop-color="#ab2f5e"/><stop offset="0.6955" stop-color="#bc3754"/><stop offset="0.7209" stop-color="#ca404a"/><stop offset="0.7463" stop-color="#d84c3e"/><stop offset="0.7716" stop-color="#e45a31"/><stop offset="0.7970" stop-color="#ed6925"/><stop offset="0.8224" stop-color="#f57b17"/><stop offset="0.8478" stop-color="#f98e09"/><stop offset="0.8731" stop-color="#fca108"/><stop offset="0.8985" stop-color="#fbb61a"/><stop offset="0.9239" stop-color="#f9cb35"/><stop offset="0.9493" stop-color="#f4df53"/><stop offset="0.9746" stop-color="#f2f27d"/><stop offset="1.0000" stop-color="#fcffa4"/></linearGradient>
<linearGradient id="cb3" gradientUnits="userSpaceOnUse" x1="2938.9" y1="0.0" x2="4019.1" y2="0.0"><stop offset="0.0000" stop-color="#30123b"/><stop offset="0.0312" stop-color="#392a73"/><stop offset="0.0625" stop-color="#4040a2"/><stop offset="0.0938" stop-color="#4456c7"/><stop offset="0.1250" stop-color="#466be3"/><stop offset="0.1562" stop-color="#4680f6"/><stop offset="0.1875" stop-color="#4294ff"/><stop offset="0.2188" stop-color="#37a8fa"/><stop offset="0.2500" stop-color="#28bceb"/><stop offset="0.2812" stop-color="#1ccdd8"/><stop offset="0.3125" stop-color="#18ddc2"/><stop offset="0.3438" stop-color="#1fe9af"/><stop offset="0.3750" stop-color="#32f298"/><stop offset="0.4062" stop-color="#4ef97d"/><stop offset="0.4375" stop-color="#6dfe62"/><stop offset="0.4688" stop-color="#8bff4b"/><stop offset="0.5000" stop-color="#a4fc3c"/><stop offset="0.5312" stop-color="#b9f635"/><stop offset="0.5625" stop-color="#cdec34"/><stop offset="0.5938" stop-color="#dfdf37"/><stop offset="0.6250" stop-color="#eecf3a"/><stop offset="0.6562" stop-color="#f8be39"/><stop offset="0.6875" stop-color="#fdac34"/><stop offset="0.7188" stop-color="#fe962b"/><stop offset="0.7500" stop-color="#fb7e21"/><stop offset="0.7812" stop-color="#f46617"/><stop offset="0.8125" stop-color="#eb500e"/><stop offset="0.8438" stop-color="#df3f08"/><stop offset="0.8750" stop-color="#d02f05"/><stop offset="0.9062" stop-color="#be2102"/><stop offset="0.9375" stop-color="#a91601"/><stop offset="0.9688" stop-color="#920b01"/><stop offset="1.0000" stop-color="#7a0403"/></linearGradient>
</defs>
<g clip-path="url(#cp_a)">
<rect x="352.7" y="92.4" width="349.3" height="747.5" fill="#e5e5e5" />
<path d="M349.0,113.6 L349.0,500.1 L378.7,500.1 L378.7,504.4 L387.2,504.4 L387.2,508.6 L395.7,508.6 L395.7,517.1 L404.2,517.1 L404.2,534.1 L412.7,534.1 L412.7,572.3 L421.2,572.3 L421.2,610.5 L429.7,610.5 L429.7,631.8 L446.7,631.8 L446.7,636.0 L497.6,636.0 L497.6,640.3 L506.1,640.3 L506.1,636.0 L514.6,636.0 L514.6,640.3 L527.4,640.3 L527.4,640.3 L540.1,640.3 L540.1,636.0 L548.6,636.0 L548.6,640.3 L557.1,640.3 L557.1,636.0 L608.0,636.0 L608.0,631.8 L625.0,631.8 L625.0,610.5 L633.5,610.5 L633.5,572.3 L642.0,572.3 L642.0,534.1 L650.5,534.1 L650.5,517.1 L659.0,517.1 L659.0,508.6 L667.5,508.6 L667.5,504.4 L676.0,504.4 L676.0,500.1 L705.7,500.1 L705.7,113.6 Z" fill="url(#a_v)" stroke="none" stroke-width="0.00" />
<g clip-path="url(#a_c)">
<rect x="349.0" y="113.6" width="68.0" height="426.8" fill="url(#a_hl)" />
<rect x="637.8" y="113.6" width="68.0" height="426.8" fill="url(#a_hr)" />
</g>
<rect x="349.0" y="90.3" width="356.7" height="23.4" fill="#969696" />
<rect x="352.7" y="92.4" width="349.3" height="747.5" fill="url(#gl_a)" />
<path d="M392.7,115.8 C392.9,129.9 393.7,178.8 394.0,200.7 C394.3,222.6 394.3,239.6 394.4,247.4" fill="none" stroke="#000" stroke-width="8.33" stroke-linejoin="round"/>
<path d="M394.4,340.8 C394.3,352.9 393.7,390.4 393.6,413.0 C393.4,435.7 393.8,463.8 393.6,476.8 C393.4,489.7 394.1,487.2 392.3,490.6 C390.5,494.0 388.8,496.3 383.0,497.1 C377.1,498.0 361.7,496.1 357.5,495.9" fill="none" stroke="#000" stroke-width="8.33" stroke-linejoin="round"/>
<path d="M662.4,115.8 C662.2,129.9 661.4,164.6 661.1,200.7 C660.8,236.8 660.8,310.4 660.7,332.4" fill="none" stroke="#000" stroke-width="8.33" stroke-linejoin="round"/>
<path d="M660.7,425.8 C660.8,434.3 660.8,466.0 661.1,476.8 C661.4,487.5 660.6,487.2 662.4,490.6 C664.2,494.0 665.9,496.3 671.7,497.1 C677.6,498.0 693.0,496.1 697.2,495.9" fill="none" stroke="#000" stroke-width="8.33" stroke-linejoin="round"/>
<path d="M407.6,513.3 C408.4,510.0 410.8,502.6 412.7,493.7 C414.5,484.9 415.7,474.8 418.6,460.2 C421.6,445.6 426.6,420.8 430.5,406.0 C434.4,391.3 437.5,382.2 442.0,371.6 C446.4,361.1 452.2,350.6 457.3,343.0 C462.4,335.4 465.8,331.2 472.6,326.0 C479.3,320.8 488.5,314.9 497.6,312.0 C506.8,309.0 517.4,308.4 527.4,308.4 C537.3,308.4 547.9,309.0 557.1,312.0 C566.2,314.9 575.4,320.8 582.1,326.0 C588.9,331.2 592.3,335.4 597.4,343.0 C602.5,350.6 608.3,361.1 612.7,371.6 C617.2,382.2 620.3,391.3 624.2,406.0 C628.1,420.8 633.1,445.6 636.1,460.2 C639.0,474.8 640.2,484.9 642.0,493.7 C643.9,502.6 646.3,510.0 647.1,513.3" fill="none" stroke="#000" stroke-width="4.17" stroke-dasharray="15.4,6.7"/>
<path d="M415.7,534.1 C418.8,529.1 428.3,512.3 434.8,503.9 C441.3,495.6 447.1,489.7 454.7,484.0 C462.4,478.2 476.3,471.9 480.6,469.5" fill="none" stroke="#000" stroke-width="8.33" stroke-linejoin="round"/>
<path d="M639.0,534.1 C635.9,529.1 626.4,512.3 619.9,503.9 C613.4,495.6 607.6,489.7 600.0,484.0 C592.3,478.2 578.4,471.9 574.1,469.5" fill="none" stroke="#000" stroke-width="8.33" stroke-linejoin="round"/>
<path d="M417.8,561.1 C421.6,558.0 432.9,548.5 440.7,543.0 C448.6,537.5 456.2,531.8 464.9,527.9 C473.6,524.1 482.5,521.7 492.9,520.1 C503.4,518.4 515.9,517.9 527.4,517.9 C538.8,517.9 551.3,518.4 561.8,520.1 C572.2,521.7 581.1,524.1 589.8,527.9 C598.5,531.8 606.1,537.5 614.0,543.0 C621.8,548.5 633.1,558.0 636.9,561.1" fill="none" stroke="#000" stroke-width="4.17" stroke-dasharray="15.4,6.7"/>
<path d="M426.7,582.3 C431.0,580.3 443.6,573.4 452.6,570.2 C461.6,567.0 476.0,564.2 480.6,563.0" fill="none" stroke="#000" stroke-width="8.33" stroke-linejoin="round"/>
<path d="M628.0,582.3 C623.7,580.3 611.1,573.4 602.1,570.2 C593.1,567.0 578.7,564.2 574.1,563.0" fill="none" stroke="#000" stroke-width="8.33" stroke-linejoin="round"/>
<text transform="translate(406.6,294.1) rotate(-90.0)" x="-42.3" y="0" font-size="39.0" font-weight="normal" fill="#000" textLength="84.3" lengthAdjust="spacingAndGlyphs" >-100</text>
<text transform="translate(648.1,379.1) rotate(90.0)" x="-42.3" y="0" font-size="39.0" font-weight="normal" fill="#000" textLength="84.3" lengthAdjust="spacingAndGlyphs" >-100</text>
<text transform="translate(528.6,473.4)" x="-42.3" y="0" font-size="39.0" font-weight="normal" fill="#000" textLength="84.3" lengthAdjust="spacingAndGlyphs" >-200</text>
<text transform="translate(528.6,571.5)" x="-42.3" y="0" font-size="39.0" font-weight="normal" fill="#000" textLength="84.3" lengthAdjust="spacingAndGlyphs" >-300</text>
<text transform="translate(357.6,543.2)" x="-1.3" y="0" font-size="32.2" font-weight="bold" fill="#000" textLength="45.1" lengthAdjust="spacingAndGlyphs" >GL</text>
<text transform="translate(388.0,557.4)" x="0.1" y="0" font-size="22.9" font-weight="bold" fill="#000" textLength="18.7" lengthAdjust="spacingAndGlyphs" >w</text>
<text transform="translate(650.5,543.2)" x="-1.3" y="0" font-size="32.2" font-weight="bold" fill="#000" textLength="45.1" lengthAdjust="spacingAndGlyphs" >GL</text>
<text transform="translate(683.2,557.4)" x="-1.0" y="0" font-size="22.9" font-weight="bold" fill="#000" textLength="14.9" lengthAdjust="spacingAndGlyphs" >e</text>
<text transform="translate(365.7,816.4)" x="-2.6" y="0" font-size="43.3" font-weight="bold" fill="#000" textLength="64.3" lengthAdjust="spacingAndGlyphs" >(a)</text>
</g>
<path d="M352.7,94.5 h-14.6 M352.7,200.7 h-14.6 M352.7,306.9 h-14.6 M352.7,413.0 h-14.6 M352.7,519.2 h-14.6 M352.7,625.4 h-14.6 M352.7,731.6 h-14.6 M352.7,837.7 h-14.6 M357.5,839.9 v14.6 M527.4,839.9 v14.6 M697.2,839.9 v14.6 " stroke="#000" stroke-width="3.33" fill="none"/>
<rect x="352.7" y="92.4" width="349.3" height="747.5" fill="none" stroke="#000" stroke-width="3.33"/>
<text transform="translate(323.5,111.0)" x="-77.3" y="0" font-size="43.3" font-weight="normal" fill="#000" textLength="77.9" lengthAdjust="spacingAndGlyphs" >250</text>
<text transform="translate(323.5,217.2)" x="-77.3" y="0" font-size="43.3" font-weight="normal" fill="#000" textLength="77.9" lengthAdjust="spacingAndGlyphs" >200</text>
<text transform="translate(323.5,323.4)" x="-77.0" y="0" font-size="43.3" font-weight="normal" fill="#000" textLength="77.6" lengthAdjust="spacingAndGlyphs" >150</text>
<text transform="translate(323.5,429.5)" x="-77.0" y="0" font-size="43.3" font-weight="normal" fill="#000" textLength="77.6" lengthAdjust="spacingAndGlyphs" >100</text>
<text transform="translate(323.5,535.7)" x="-50.1" y="0" font-size="43.3" font-weight="normal" fill="#000" textLength="50.6" lengthAdjust="spacingAndGlyphs" >50</text>
<text transform="translate(323.5,641.9)" x="-24.0" y="0" font-size="43.3" font-weight="normal" fill="#000" textLength="24.4" lengthAdjust="spacingAndGlyphs" >0</text>
<text transform="translate(323.5,748.1)" x="-84.5" y="0" font-size="43.3" font-weight="normal" fill="#000" textLength="85.2" lengthAdjust="spacingAndGlyphs" >−50</text>
<text transform="translate(323.5,854.2)" x="-111.0" y="0" font-size="43.3" font-weight="normal" fill="#000" textLength="111.7" lengthAdjust="spacingAndGlyphs" >−100</text>
<g clip-path="url(#cp_b)">
<rect x="745.8" y="92.4" width="349.3" height="747.5" fill="#e8e8e8" />
<rect x="745.8" y="92.4" width="349.3" height="747.5" fill="url(#gd_b)" />
<path d="M742.1,113.6 L742.1,500.1 L771.8,500.1 L771.8,504.4 L780.3,504.4 L780.3,508.6 L788.8,508.6 L788.8,517.1 L797.3,517.1 L797.3,534.1 L805.8,534.1 L805.8,572.3 L814.3,572.3 L814.3,610.5 L822.8,610.5 L822.8,631.8 L839.8,631.8 L839.8,636.0 L890.7,636.0 L890.7,640.3 L899.2,640.3 L899.2,636.0 L907.7,636.0 L907.7,640.3 L920.4,640.3 L920.4,640.3 L933.2,640.3 L933.2,636.0 L941.7,636.0 L941.7,640.3 L950.2,640.3 L950.2,636.0 L1001.1,636.0 L1001.1,631.8 L1018.1,631.8 L1018.1,610.5 L1026.6,610.5 L1026.6,572.3 L1035.1,572.3 L1035.1,534.1 L1043.6,534.1 L1043.6,517.1 L1052.1,517.1 L1052.1,508.6 L1060.6,508.6 L1060.6,504.4 L1069.1,504.4 L1069.1,500.1 L1098.8,500.1 L1098.8,113.6 Z" fill="url(#b_v)" stroke="none" stroke-width="0.00" />
<g clip-path="url(#b_c)">
<rect x="742.1" y="113.6" width="76.4" height="511.8" fill="url(#b_hl)" />
<rect x="1022.4" y="113.6" width="76.4" height="511.8" fill="url(#b_hr)" />
<rect x="745.8" y="92.4" width="349.3" height="747.5" fill="url(#gl_b)" />
</g>
<rect x="742.1" y="90.3" width="356.7" height="23.4" fill="#969696" />
<rect x="742.1" y="90.3" width="356.7" height="23.4" fill="url(#gl_b)" />
<text transform="translate(758.8,816.4)" x="-2.6" y="0" font-size="43.3" font-weight="bold" fill="#000" textLength="65.9" lengthAdjust="spacingAndGlyphs" >(b)</text>
<text transform="translate(1082.8,785.6)" x="-252.2" y="0" font-size="47.7" font-weight="normal" fill="#000" textLength="251.7" lengthAdjust="spacingAndGlyphs" >12.10 m/yr</text>
<text transform="translate(1082.8,827.4)" x="-261.3" y="0" font-size="47.7" font-weight="normal" fill="#000" textLength="260.8" lengthAdjust="spacingAndGlyphs" >28.69 Gt/yr</text>
</g>
<path d="M745.8,94.5 h-14.6 M745.8,200.7 h-14.6 M745.8,306.9 h-14.6 M745.8,413.0 h-14.6 M745.8,519.2 h-14.6 M745.8,625.4 h-14.6 M745.8,731.6 h-14.6 M745.8,837.7 h-14.6 M750.6,839.9 v14.6 M920.4,839.9 v14.6 M1090.3,839.9 v14.6 " stroke="#000" stroke-width="3.33" fill="none"/>
<rect x="745.8" y="92.4" width="349.3" height="747.5" fill="none" stroke="#000" stroke-width="3.33"/>
<g clip-path="url(#cp_c)">
<rect x="1138.9" y="92.4" width="349.3" height="747.5" fill="url(#c_sd)" />
<path d="M1211.6,629.6 L1415.5,629.6 L1457.9,899.3 L1169.2,899.3 Z" fill="url(#c_sw)" stroke="none" stroke-width="0.00" filter="url(#b25)"/>
<path d="M1224.4,633.9 L1402.7,633.9 L1415.5,856.9 L1211.6,856.9 Z" fill="url(#c_st)" stroke="none" stroke-width="0.00" filter="url(#b14)"/>
<g clip-path="url(#c_c)">
<path d="M1135.2,113.6 L1135.2,500.1 L1164.9,500.1 L1164.9,504.4 L1173.4,504.4 L1173.4,508.6 L1181.9,508.6 L1181.9,517.1 L1190.4,517.1 L1190.4,534.1 L1198.9,534.1 L1198.9,572.3 L1207.4,572.3 L1207.4,610.5 L1215.9,610.5 L1215.9,631.8 L1232.9,631.8 L1232.9,636.0 L1283.8,636.0 L1283.8,640.3 L1292.3,640.3 L1292.3,636.0 L1300.8,636.0 L1300.8,640.3 L1313.5,640.3 L1313.5,640.3 L1326.3,640.3 L1326.3,636.0 L1334.8,636.0 L1334.8,640.3 L1343.3,640.3 L1343.3,636.0 L1394.2,636.0 L1394.2,631.8 L1411.2,631.8 L1411.2,610.5 L1419.7,610.5 L1419.7,572.3 L1428.2,572.3 L1428.2,534.1 L1436.7,534.1 L1436.7,517.1 L1445.2,517.1 L1445.2,508.6 L1453.7,508.6 L1453.7,504.4 L1462.2,504.4 L1462.2,500.1 L1491.9,500.1 L1491.9,113.6 Z" fill="url(#c_sh)" stroke="none" stroke-width="0.00" />
<path d="M1135.2,500.1 L1164.9,500.1 L1164.9,504.4 L1173.4,504.4 L1173.4,508.6 L1181.9,508.6 L1181.9,517.1 L1190.4,517.1 L1190.4,534.1 L1198.9,534.1 L1198.9,572.3 L1207.4,572.3 L1207.4,610.5 L1215.9,610.5 L1215.9,625.4" fill="none" stroke="#19d5cd" stroke-width="30.00" filter="url(#b8)" stroke-linejoin="round"/>
<path d="M1135.2,500.1 L1164.9,500.1 L1164.9,504.4 L1173.4,504.4 L1173.4,508.6 L1181.9,508.6 L1181.9,517.1 L1190.4,517.1 L1190.4,534.1 L1198.9,534.1 L1198.9,572.3 L1207.4,572.3 L1207.4,610.5 L1215.9,610.5 L1215.9,625.4" fill="none" stroke="#477bf2" stroke-width="12.00" filter="url(#b8)" stroke-linejoin="round"/>
<path d="M1411.2,625.4 L1411.2,610.5 L1419.7,610.5 L1419.7,572.3 L1428.2,572.3 L1428.2,534.1 L1436.7,534.1 L1436.7,517.1 L1445.2,517.1 L1445.2,508.6 L1453.7,508.6 L1453.7,504.4 L1462.2,504.4 L1462.2,500.1 L1491.9,500.1" fill="none" stroke="#19d5cd" stroke-width="30.00" filter="url(#b8)" stroke-linejoin="round"/>
<path d="M1411.2,625.4 L1411.2,610.5 L1419.7,610.5 L1419.7,572.3 L1428.2,572.3 L1428.2,534.1 L1436.7,534.1 L1436.7,517.1 L1445.2,517.1 L1445.2,508.6 L1453.7,508.6 L1453.7,504.4 L1462.2,504.4 L1462.2,500.1 L1491.9,500.1" fill="none" stroke="#477bf2" stroke-width="12.00" filter="url(#b8)" stroke-linejoin="round"/>
</g>
<path d="M1135.2,500.1H1164.9V504.4H1135.2ZM1156.4,500.1H1164.9V508.6H1156.4ZM1164.9,504.4H1173.4V508.6H1164.9ZM1164.9,504.4H1173.4V512.9H1164.9ZM1173.4,508.6H1181.9V512.9H1173.4ZM1173.4,508.6H1181.9V521.3H1173.4ZM1181.9,517.1H1190.4V521.3H1181.9ZM1181.9,517.1H1190.4V538.3H1181.9ZM1190.4,534.1H1198.9V538.3H1190.4ZM1190.4,534.1H1198.9V576.6H1190.4ZM1198.9,572.3H1207.4V576.6H1198.9ZM1198.9,572.3H1207.4V614.8H1198.9ZM1207.4,610.5H1215.9V614.8H1207.4ZM1207.4,610.5H1215.9V636.0H1207.4ZM1215.9,631.8H1232.9V636.0H1215.9ZM1224.4,631.8H1232.9V640.3H1224.4ZM1232.9,636.0H1283.8V640.3H1232.9ZM1275.3,636.0H1283.8V644.5H1275.3ZM1283.8,640.3H1292.3V644.5H1283.8ZM1292.3,636.0H1300.8V644.5H1292.3ZM1292.3,636.0H1300.8V640.3H1292.3ZM1292.3,636.0H1300.8V644.5H1292.3ZM1300.8,640.3H1313.5V644.5H1300.8ZM1313.5,640.3H1326.3V644.5H1313.5ZM1326.3,636.0H1334.8V644.5H1326.3ZM1326.3,636.0H1334.8V640.3H1326.3ZM1326.3,636.0H1334.8V644.5H1326.3ZM1334.8,640.3H1343.3V644.5H1334.8ZM1343.3,636.0H1351.8V644.5H1343.3ZM1343.3,636.0H1394.2V640.3H1343.3ZM1394.2,631.8H1402.7V640.3H1394.2ZM1394.2,631.8H1411.2V636.0H1394.2ZM1411.2,610.5H1419.7V636.0H1411.2ZM1411.2,610.5H1419.7V614.8H1411.2ZM1419.7,572.3H1428.2V614.8H1419.7ZM1419.7,572.3H1428.2V576.6H1419.7ZM1428.2,534.1H1436.7V576.6H1428.2ZM1428.2,534.1H1436.7V538.3H1428.2ZM1436.7,517.1H1445.2V538.3H1436.7ZM1436.7,517.1H1445.2V521.3H1436.7ZM1445.2,508.6H1453.7V521.3H1445.2ZM1445.2,508.6H1453.7V512.9H1445.2ZM1453.7,504.4H1462.2V512.9H1453.7ZM1453.7,504.4H1462.2V508.6H1453.7ZM1462.2,500.1H1470.7V508.6H1462.2ZM1462.2,500.1H1491.9V504.4H1462.2Z" fill="#f3f8f1" stroke="none" stroke-width="0.00" />
<rect x="1135.2" y="90.3" width="356.7" height="23.4" fill="#969696" />
<rect x="1138.9" y="92.4" width="349.3" height="747.5" fill="url(#gl_c)" />
<use href="#ar" transform="translate(1160.7,137.0) rotate(0)"/><use href="#ar" transform="translate(1203.1,137.0) rotate(0)"/><use href="#ar" transform="translate(1245.6,137.0) rotate(0)"/><use href="#ar" transform="translate(1288.1,137.0) rotate(0)"/><use href="#ar" transform="translate(1330.5,137.0) rotate(0)"/><use href="#ar" transform="translate(1373.0,137.0) rotate(0)"/><use href="#ar" transform="translate(1415.5,137.0) rotate(0)"/><use href="#ar" transform="translate(1457.9,137.0) rotate(0)"/><use href="#ar" transform="translate(1160.7,200.7) rotate(0)"/><use href="#ar" transform="translate(1203.1,200.7) rotate(0)"/><use href="#ar" transform="translate(1245.6,200.7) rotate(0)"/><use href="#ar" transform="translate(1288.1,200.7) rotate(0)"/><use href="#ar" transform="translate(1330.5,200.7) rotate(0)"/><use href="#ar" transform="translate(1373.0,200.7) rotate(0)"/><use href="#ar" transform="translate(1415.5,200.7) rotate(0)"/><use href="#ar" transform="translate(1457.9,200.7) rotate(0)"/><use href="#ar" transform="translate(1160.7,264.4) rotate(0)"/><use href="#ar" transform="translate(1203.1,264.4) rotate(0)"/><use href="#ar" transform="translate(1245.6,264.4) rotate(0)"/><use href="#ar" transform="translate(1288.1,264.4) rotate(0)"/><use href="#ar" transform="translate(1330.5,264.4) rotate(0)"/><use href="#ar" transform="translate(1373.0,264.4) rotate(0)"/><use href="#ar" transform="translate(1415.5,264.4) rotate(0)"/><use href="#ar" transform="translate(1457.9,264.4) rotate(0)"/><use href="#ar" transform="translate(1160.7,328.1) rotate(0)"/><use href="#ar" transform="translate(1203.1,328.1) rotate(0)"/><use href="#ar" transform="translate(1245.6,328.1) rotate(0)"/><use href="#ar" transform="translate(1288.1,328.1) rotate(0)"/><use href="#ar" transform="translate(1330.5,328.1) rotate(0)"/><use href="#ar" transform="translate(1373.0,328.1) rotate(0)"/><use href="#ar" transform="translate(1415.5,328.1) rotate(0)"/><use href="#ar" transform="translate(1457.9,328.1) rotate(0)"/><use href="#ar" transform="translate(1160.7,391.8) rotate(0)"/><use href="#ar" transform="translate(1203.1,391.8) rotate(0)"/><use href="#ar" transform="translate(1245.6,391.8) rotate(0)"/><use href="#ar" transform="translate(1288.1,391.8) rotate(0)"/><use href="#ar" transform="translate(1330.5,391.8) rotate(0)"/><use href="#ar" transform="translate(1373.0,391.8) rotate(0)"/><use href="#ar" transform="translate(1415.5,391.8) rotate(0)"/><use href="#ar" transform="translate(1457.9,391.8) rotate(0)"/><use href="#ar" transform="translate(1160.7,455.5) rotate(0)"/><use href="#ar" transform="translate(1203.1,455.5) rotate(-3)"/><use href="#ar" transform="translate(1245.6,455.5) rotate(-2)"/><use href="#ar" transform="translate(1288.1,455.5) rotate(0)"/><use href="#ar" transform="translate(1330.5,455.5) rotate(0)"/><use href="#ar" transform="translate(1373.0,455.5) rotate(0)"/><use href="#ar" transform="translate(1415.5,455.5) rotate(2)"/><use href="#ar" transform="translate(1457.9,455.5) rotate(0)"/><use href="#ar" transform="translate(1160.7,519.2) rotate(53)"/><use href="#ar" transform="translate(1203.1,519.2) rotate(-7)"/><use href="#ar" transform="translate(1245.6,519.2) rotate(-4)"/><use href="#ar" transform="translate(1288.1,519.2) rotate(-1)"/><use href="#ar" transform="translate(1330.5,519.2) rotate(0)"/><use href="#ar" transform="translate(1373.0,519.2) rotate(5)"/><use href="#ar" transform="translate(1415.5,519.2) rotate(7)"/><use href="#ar" transform="translate(1457.9,519.2) rotate(-57)"/><use href="#ar" transform="translate(1160.7,582.9) rotate(77)"/><use href="#ar" transform="translate(1203.1,582.9) rotate(10)"/><use href="#ar" transform="translate(1245.6,582.9) rotate(0)"/><use href="#ar" transform="translate(1288.1,582.9) rotate(0)"/><use href="#ar" transform="translate(1330.5,582.9) rotate(0)"/><use href="#ar" transform="translate(1373.0,582.9) rotate(0)"/><use href="#ar" transform="translate(1415.5,582.9) rotate(-2)"/><use href="#ar" transform="translate(1457.9,582.9) rotate(-76)"/><use href="#ar" transform="translate(1160.7,646.6) rotate(37)"/><use href="#ar" transform="translate(1203.1,646.6) rotate(31)"/><use href="#ar" transform="translate(1245.6,646.6) rotate(5)"/><use href="#ar" transform="translate(1288.1,646.6) rotate(2)"/><use href="#ar" transform="translate(1330.5,646.6) rotate(-1)"/><use href="#ar" transform="translate(1373.0,646.6) rotate(-6)"/><use href="#ar" transform="translate(1415.5,646.6) rotate(-23)"/><use href="#ar" transform="translate(1457.9,646.6) rotate(-43)"/><use href="#ar" transform="translate(1160.7,710.3) rotate(11)"/><use href="#ar" transform="translate(1203.1,710.3) rotate(15)"/><use href="#ar" transform="translate(1245.6,710.3) rotate(4)"/><use href="#ar" transform="translate(1288.1,710.3) rotate(2)"/><use href="#ar" transform="translate(1330.5,710.3) rotate(-1)"/><use href="#ar" transform="translate(1373.0,710.3) rotate(-4)"/><use href="#ar" transform="translate(1415.5,710.3) rotate(-13)"/><use href="#ar" transform="translate(1457.9,710.3) rotate(-15)"/><use href="#ar" transform="translate(1160.7,774.0) rotate(5)"/><use href="#ar" transform="translate(1203.1,774.0) rotate(9)"/><use href="#ar" transform="translate(1245.6,774.0) rotate(3)"/><use href="#ar" transform="translate(1288.1,774.0) rotate(1)"/><use href="#ar" transform="translate(1330.5,774.0) rotate(-1)"/><use href="#ar" transform="translate(1373.0,774.0) rotate(-4)"/><use href="#ar" transform="translate(1415.5,774.0) rotate(-9)"/><use href="#ar" transform="translate(1457.9,774.0) rotate(-8)"/><use href="#ar" transform="translate(1160.7,837.7) rotate(0)"/><use href="#ar" transform="translate(1203.1,837.7) rotate(8)"/><use href="#ar" transform="translate(1245.6,837.7) rotate(2)"/><use href="#ar" transform="translate(1288.1,837.7) rotate(1)"/><use href="#ar" transform="translate(1330.5,837.7) rotate(-1)"/><use href="#ar" transform="translate(1373.0,837.7) rotate(-3)"/><use href="#ar" transform="translate(1415.5,837.7) rotate(-5)"/><use href="#ar" transform="translate(1457.9,837.7) rotate(-4)"/>
<text transform="translate(1151.9,816.4)" x="-2.5" y="0" font-size="43.3" font-weight="bold" fill="#fff" textLength="60.6" lengthAdjust="spacingAndGlyphs" >(c)</text>
</g>
<path d="M1138.9,94.5 h-14.6 M1138.9,200.7 h-14.6 M1138.9,306.9 h-14.6 M1138.9,413.0 h-14.6 M1138.9,519.2 h-14.6 M1138.9,625.4 h-14.6 M1138.9,731.6 h-14.6 M1138.9,837.7 h-14.6 M1143.7,839.9 v14.6 M1313.5,839.9 v14.6 M1483.4,839.9 v14.6 " stroke="#000" stroke-width="3.33" fill="none"/>
<rect x="1138.9" y="92.4" width="349.3" height="747.5" fill="none" stroke="#000" stroke-width="3.33"/>
<g clip-path="url(#cp_d)">
<rect x="1646.2" y="92.4" width="349.3" height="747.5" fill="#e5e5e5" />
<g clip-path="url(#d_c)">
<path d="M1642.5,113.6 L1642.5,402.4 L1663.7,402.4 L1663.7,406.7 L1689.2,406.7 L1689.2,415.2 L1697.7,415.2 L1697.7,614.8 L1706.2,614.8 L1706.2,653.0 L1714.7,653.0 L1714.7,682.7 L1723.2,682.7 L1723.2,699.7 L1731.7,699.7 L1731.7,704.0 L1757.1,704.0 L1757.1,708.2 L1820.8,708.2 L1820.8,708.2 L1884.6,708.2 L1884.6,704.0 L1910.0,704.0 L1910.0,699.7 L1918.5,699.7 L1918.5,682.7 L1927.0,682.7 L1927.0,653.0 L1935.5,653.0 L1935.5,614.8 L1944.0,614.8 L1944.0,415.2 L1952.5,415.2 L1952.5,406.7 L1978.0,406.7 L1978.0,402.4 L1999.2,402.4 L1999.2,113.6 Z" fill="url(#d_v)" stroke="none" stroke-width="0.00" />
<rect x="1642.5" y="113.6" width="106.2" height="307.9" fill="url(#d_hl)" />
<rect x="1893.0" y="113.6" width="106.2" height="307.9" fill="url(#d_hr)" />
<g filter="url(#b8)">
<rect x="1642.5" y="132.7" width="57.3" height="288.8" fill="url(#d_y)" />
</g>
<g filter="url(#b8)">
<rect x="1941.9" y="132.7" width="57.3" height="288.8" fill="url(#d_y)" />
</g>
<g filter="url(#b8)" opacity="0.97">
<rect x="1695.6" y="419.4" width="34.0" height="235.7" fill="url(#d_e)" />
</g>
<g filter="url(#b8)" opacity="0.97">
<rect x="1912.2" y="419.4" width="34.0" height="235.7" fill="url(#d_e)" />
</g>
<rect x="1697.7" y="466.1" width="25.5" height="10.6" fill="#f4fbc7" opacity="0.8"/>
<rect x="1918.5" y="466.1" width="25.5" height="10.6" fill="#f4fbc7" opacity="0.8"/>
</g>
<rect x="1706.2" y="419.4" width="8.5" height="42.5" fill="#969696" />
<rect x="1706.2" y="478.9" width="8.5" height="34.0" fill="#969696" />
<rect x="1706.2" y="470.4" width="8.5" height="4.2" fill="#969696" />
<rect x="1689.2" y="406.7" width="8.5" height="4.2" fill="#969696" />
<rect x="1927.0" y="419.4" width="8.5" height="42.5" fill="#969696" />
<rect x="1927.0" y="478.9" width="8.5" height="34.0" fill="#969696" />
<rect x="1927.0" y="470.4" width="8.5" height="4.2" fill="#969696" />
<rect x="1944.0" y="406.7" width="8.5" height="4.2" fill="#969696" />
<rect x="1646.7" y="372.7" width="17.0" height="29.7" fill="#969696" />
<rect x="1978.0" y="368.5" width="17.0" height="34.0" fill="#969696" />
<rect x="1642.5" y="90.3" width="356.7" height="23.4" fill="#969696" />
<rect x="1646.2" y="92.4" width="349.3" height="747.5" fill="url(#gl_d)" />
<path d="M1705.8,116.8 L1706.6,229.6" fill="none" stroke="#000" stroke-width="8.33" stroke-linejoin="round"/>
<path d="M1713.0,323.4 L1718.1,384.4 L1721.9,414.1 L1715.5,418.6" fill="none" stroke="#000" stroke-width="8.33" stroke-linejoin="round"/>
<path d="M1935.7,116.8 L1934.2,226.2" fill="none" stroke="#000" stroke-width="8.33" stroke-linejoin="round"/>
<path d="M1928.7,319.6 L1922.4,384.4 L1918.5,414.5 L1926.2,418.6" fill="none" stroke="#000" stroke-width="8.33" stroke-linejoin="round"/>
<path d="M1724.0,116.8 C1723.7,140.4 1721.2,217.7 1721.9,258.0 C1722.6,298.4 1726.2,332.4 1728.3,358.9 C1730.3,385.4 1732.5,395.6 1734.2,417.3 C1735.9,439.0 1737.1,465.7 1738.5,489.1 C1739.8,512.4 1741.7,541.8 1742.3,557.4 C1742.8,573.1 1743.6,576.1 1741.9,582.9 C1740.2,589.7 1736.1,594.0 1732.1,598.2 C1728.1,602.5 1722.7,605.8 1718.1,608.4 C1713.4,611.0 1706.4,612.8 1704.1,613.7" fill="none" stroke="#000" stroke-width="4.17" stroke-dasharray="15.4,6.7"/>
<path d="M1917.7,116.8 C1918.0,140.4 1920.5,217.7 1919.8,258.0 C1919.1,298.4 1915.5,332.4 1913.4,358.9 C1911.4,385.4 1909.2,395.6 1907.5,417.3 C1905.8,439.0 1904.6,465.7 1903.2,489.1 C1901.9,512.4 1900.0,541.8 1899.4,557.4 C1898.9,573.1 1898.1,576.1 1899.8,582.9 C1901.5,589.7 1905.6,594.0 1909.6,598.2 C1913.6,602.5 1919.0,605.8 1923.6,608.4 C1928.3,611.0 1935.3,612.8 1937.6,613.7" fill="none" stroke="#000" stroke-width="4.17" stroke-dasharray="15.4,6.7"/>
<path d="M1711.7,628.6 C1715.1,626.0 1725.9,619.2 1732.1,613.3 C1738.2,607.4 1745.3,600.3 1748.7,593.1 C1752.0,585.9 1751.4,580.3 1752.5,570.2 C1753.5,560.0 1754.0,547.0 1755.0,532.2 C1756.0,517.4 1758.1,498.4 1758.4,481.4 C1758.7,464.4 1756.6,442.8 1756.7,430.0 C1756.8,417.2 1757.4,414.6 1758.8,404.6 C1760.3,394.5 1761.7,382.0 1765.2,369.9 C1768.8,357.8 1772.9,342.4 1780.1,331.9 C1787.2,321.4 1801.5,311.7 1808.1,306.9 C1814.7,302.1 1817.7,303.7 1819.6,303.1" fill="none" stroke="#000" stroke-width="8.33" stroke-linejoin="round"/>
<path d="M1819.6,303.1 C1824.0,306.0 1838.8,314.9 1846.1,320.9 C1853.5,326.8 1858.9,332.0 1863.7,338.7 C1868.6,345.5 1872.0,351.8 1875.2,361.4 C1878.4,371.1 1881.2,385.6 1882.9,396.9 C1884.6,408.2 1885.0,424.0 1885.4,429.4" fill="none" stroke="#000" stroke-width="8.33" stroke-linejoin="round"/>
<path d="M1889.7,524.5 C1889.9,532.6 1889.9,560.9 1890.9,572.7 C1892.0,584.6 1892.6,588.9 1896.0,595.7 C1899.4,602.4 1905.6,608.0 1911.3,613.3 C1917.0,618.6 1927.2,625.2 1930.4,627.5" fill="none" stroke="#000" stroke-width="8.33" stroke-linejoin="round"/>
<path d="M1718.1,643.7 C1723.3,640.3 1742.4,629.4 1749.5,623.5 C1756.6,617.6 1758.8,616.9 1761.0,608.4 C1763.1,600.0 1761.0,582.1 1762.2,572.7 C1763.5,563.4 1765.2,557.8 1768.6,552.4 C1772.0,546.9 1776.9,544.9 1782.6,539.8 C1788.4,534.8 1796.6,526.0 1803.0,522.0 C1809.4,517.9 1814.9,515.4 1820.8,515.6 C1826.8,515.9 1833.2,519.9 1838.7,523.5 C1844.2,527.1 1848.5,533.3 1854.0,537.3 C1859.4,541.3 1867.0,542.4 1871.4,547.5 C1875.8,552.5 1878.6,557.5 1880.3,567.6 C1882.0,577.8 1879.2,599.1 1881.6,608.4 C1883.9,617.7 1887.1,617.6 1894.3,623.5 C1901.5,629.4 1919.8,640.3 1924.9,643.7" fill="none" stroke="#000" stroke-width="4.17" stroke-dasharray="15.4,6.7"/>
<path d="M1777.5,586.8 C1776.3,589.5 1772.0,597.2 1769.9,603.3 C1767.8,609.4 1766.7,618.4 1764.8,623.5 C1762.9,628.5 1766.0,627.6 1758.4,633.7 C1750.8,639.8 1725.9,655.8 1719.3,660.2" fill="none" stroke="#000" stroke-width="8.33" stroke-linejoin="round"/>
<path d="M1863.7,586.8 C1865.0,589.5 1869.1,596.8 1871.4,603.3 C1873.7,609.9 1875.6,620.8 1877.8,626.0 C1879.9,631.3 1876.5,629.3 1884.1,635.0 C1891.8,640.7 1917.0,656.0 1923.6,660.2" fill="none" stroke="#000" stroke-width="8.33" stroke-linejoin="round"/>
<path d="M1725.7,437.3 L1720.6,464.0 L1730.8,464.0 Z" fill="#000" stroke="#000" stroke-width="2.00" />
<path d="M1734.6,557.4 C1734.0,560.4 1733.4,570.2 1730.8,575.3 C1728.3,580.4 1723.9,585.1 1719.3,588.0 C1714.8,591.0 1706.3,592.3 1703.6,593.1" fill="none" stroke="#000" stroke-width="8.33" stroke-linejoin="round"/>
<path d="M1703.6,453.4 L1703.6,513.7" fill="none" stroke="#000" stroke-width="4.17" stroke-dasharray="15.4,6.7"/>
<path d="M1664.6,395.2 C1665.5,396.8 1666.9,402.5 1670.1,404.6 C1673.3,406.6 1679.1,406.0 1683.7,407.7 C1688.3,409.5 1693.9,413.2 1697.7,415.2 C1701.5,417.2 1705.1,419.1 1706.6,419.8" fill="none" stroke="#000" stroke-width="6.50" stroke-dasharray="9,6"/>
<path d="M1916.0,437.3 L1921.1,464.0 L1910.9,464.0 Z" fill="#000" stroke="#000" stroke-width="2.00" />
<path d="M1907.1,557.4 C1907.7,560.4 1908.3,570.2 1910.9,575.3 C1913.4,580.4 1917.8,585.1 1922.4,588.0 C1926.9,591.0 1935.4,592.3 1938.1,593.1" fill="none" stroke="#000" stroke-width="8.33" stroke-linejoin="round"/>
<path d="M1938.1,453.4 L1938.1,513.7" fill="none" stroke="#000" stroke-width="4.17" stroke-dasharray="15.4,6.7"/>
<path d="M1977.1,395.2 C1976.2,396.8 1974.8,402.5 1971.6,404.6 C1968.4,406.6 1962.6,406.0 1958.0,407.7 C1953.4,409.5 1947.8,413.2 1944.0,415.2 C1940.2,417.2 1936.6,419.1 1935.1,419.8" fill="none" stroke="#000" stroke-width="6.50" stroke-dasharray="9,6"/>
<text transform="translate(1700.8,277.2) rotate(87.0)" x="-42.3" y="0" font-size="39.0" font-weight="normal" fill="#000" textLength="84.3" lengthAdjust="spacingAndGlyphs" >-100</text>
<text transform="translate(1943.9,269.3) rotate(-87.0)" x="-42.3" y="0" font-size="39.0" font-weight="normal" fill="#000" textLength="84.3" lengthAdjust="spacingAndGlyphs" >-100</text>
<text transform="translate(1723.3,518.0) rotate(86.0)" x="-42.3" y="0" font-size="39.0" font-weight="normal" fill="#000" textLength="84.3" lengthAdjust="spacingAndGlyphs" >-100</text>
<text transform="translate(1917.4,535.6) rotate(-83.0)" x="-42.3" y="0" font-size="39.0" font-weight="normal" fill="#000" textLength="84.3" lengthAdjust="spacingAndGlyphs" >-100</text>
<text transform="translate(1874.6,479.4) rotate(82.0)" x="-42.3" y="0" font-size="39.0" font-weight="normal" fill="#000" textLength="84.3" lengthAdjust="spacingAndGlyphs" >-200</text>
<text transform="translate(1822.1,582.8)" x="-42.3" y="0" font-size="39.0" font-weight="normal" fill="#000" textLength="84.3" lengthAdjust="spacingAndGlyphs" >-300</text>
<text transform="translate(1659.2,816.4)" x="-2.6" y="0" font-size="43.3" font-weight="bold" fill="#000" textLength="65.9" lengthAdjust="spacingAndGlyphs" >(d)</text>
</g>
<path d="M1646.2,94.5 h-14.6 M1646.2,200.7 h-14.6 M1646.2,306.9 h-14.6 M1646.2,413.0 h-14.6 M1646.2,519.2 h-14.6 M1646.2,625.4 h-14.6 M1646.2,731.6 h-14.6 M1646.2,837.7 h-14.6 M1651.0,839.9 v14.6 M1820.8,839.9 v14.6 M1990.7,839.9 v14.6 " stroke="#000" stroke-width="3.33" fill="none"/>
<rect x="1646.2" y="92.4" width="349.3" height="747.5" fill="none" stroke="#000" stroke-width="3.33"/>
<g clip-path="url(#cp_e)">
<rect x="2039.3" y="92.4" width="349.3" height="747.5" fill="#e8e8e8" />
<rect x="2039.3" y="92.4" width="349.3" height="747.5" fill="url(#gd_e)" />
<g clip-path="url(#e_c)">
<path d="M2035.6,113.6 L2035.6,402.4 L2056.8,402.4 L2056.8,406.7 L2082.3,406.7 L2082.3,415.2 L2090.8,415.2 L2090.8,614.8 L2099.3,614.8 L2099.3,653.0 L2107.8,653.0 L2107.8,682.7 L2116.3,682.7 L2116.3,699.7 L2124.8,699.7 L2124.8,704.0 L2150.2,704.0 L2150.2,708.2 L2214.0,708.2 L2214.0,708.2 L2277.7,708.2 L2277.7,704.0 L2303.1,704.0 L2303.1,699.7 L2311.6,699.7 L2311.6,682.7 L2320.1,682.7 L2320.1,653.0 L2328.6,653.0 L2328.6,614.8 L2337.1,614.8 L2337.1,415.2 L2345.6,415.2 L2345.6,406.7 L2371.1,406.7 L2371.1,402.4 L2392.3,402.4 L2392.3,113.6 Z" fill="url(#e_o)" stroke="none" stroke-width="0.00" />
<rect x="2035.6" y="113.6" width="356.7" height="305.8" fill="url(#e_n)" />
<g fill="#030409" opacity="0.92">
<path d="M2209.7,185.8 L2218.2,185.8 L2218.2,198.6 L2226.7,198.6 L2226.7,232.6 L2235.2,232.6 L2235.2,262.3 L2260.7,262.3 L2260.7,283.5 L2235.2,283.5 L2235.2,292.0 L2158.7,292.0 L2158.7,275.0 L2184.2,275.0 L2184.2,253.8 L2192.7,253.8 L2192.7,224.1 L2201.2,224.1 L2201.2,198.6 L2209.7,198.6 Z" fill="#030409" stroke="none" stroke-width="0.00" />
<path d="M2226.7,292.0 L2252.2,292.0 L2252.2,313.2 L2260.7,313.2 L2260.7,347.2 L2277.7,347.2 L2277.7,376.9 L2294.6,376.9 L2294.6,398.2 L2311.6,398.2 L2311.6,415.2 L2269.2,415.2 L2269.2,398.2 L2243.7,398.2 L2243.7,376.9 L2226.7,376.9 L2226.7,347.2 L2218.2,347.2 L2218.2,313.2 L2226.7,313.2 Z" fill="#030409" stroke="none" stroke-width="0.00" />
<path d="M2175.7,304.8 L2192.7,304.8 L2192.7,347.2 L2184.2,347.2 L2184.2,376.9 L2167.2,376.9 L2167.2,398.2 L2150.2,398.2 L2150.2,415.2 L2133.3,415.2 L2133.3,393.9 L2150.2,393.9 L2150.2,364.2 L2158.7,364.2 L2158.7,326.0 L2175.7,326.0 Z" fill="#030409" stroke="none" stroke-width="0.00" />
<path d="M2158.7,419.4 L2269.2,419.4 L2260.7,444.9 L2167.2,444.9 Z" fill="#030409" stroke="none" stroke-width="0.00" />
</g>
<path d="M2120.5,249.5 L2137.5,249.5 L2171.5,306.9 L2188.5,360.0 L2171.5,360.0 L2150.2,306.9 Z" fill="#26264f" stroke="none" stroke-width="0.00" opacity="0.7" filter="url(#b8)"/>
<path d="M2107.8,419.4 L2107.8,466.1 L2116.3,466.1 L2116.3,504.4 L2124.8,504.4 L2124.8,538.3 L2133.3,538.3 L2133.3,576.6 L2141.8,576.6 L2141.8,602.0 L2150.2,602.0 L2150.2,610.5 L2158.7,610.5 L2158.7,636.0 L2167.2,636.0 L2167.2,644.5 L2175.7,644.5 L2175.7,665.7 L2184.2,665.7 L2184.2,674.2 L2214.0,674.2 L2214.0,674.2 L2243.7,674.2 L2243.7,665.7 L2252.2,665.7 L2252.2,644.5 L2260.7,644.5 L2260.7,636.0 L2269.2,636.0 L2269.2,610.5 L2277.7,610.5 L2277.7,602.0 L2286.1,602.0 L2286.1,576.6 L2294.6,576.6 L2294.6,538.3 L2303.1,538.3 L2303.1,504.4 L2311.6,504.4 L2311.6,466.1 L2320.1,466.1 L2320.1,419.4 Z" fill="url(#e_m)" stroke="none" stroke-width="0.00" />
<path d="M2124.8,419.4 L2124.8,504.4 L2133.3,504.4 L2133.3,538.3 L2141.8,538.3 L2141.8,512.9 L2150.2,512.9 L2150.2,521.3 L2158.7,521.3 L2158.7,534.1 L2167.2,534.1 L2167.2,546.8 L2175.7,546.8 L2175.7,559.6 L2184.2,559.6 L2184.2,572.3 L2192.7,572.3 L2192.7,589.3 L2201.2,589.3 L2201.2,606.3 L2214.0,606.3 L2214.0,606.3 L2226.7,606.3 L2226.7,589.3 L2235.2,589.3 L2235.2,572.3 L2243.7,572.3 L2243.7,559.6 L2252.2,559.6 L2252.2,546.8 L2260.7,546.8 L2260.7,534.1 L2269.2,534.1 L2269.2,521.3 L2277.7,521.3 L2277.7,512.9 L2286.1,512.9 L2286.1,538.3 L2294.6,538.3 L2294.6,504.4 L2303.1,504.4 L2303.1,419.4 Z" fill="url(#e_p)" stroke="none" stroke-width="0.00" />
<path d="M2124.8,416.2 L2124.8,449.1 L2133.3,449.1 L2133.3,461.9 L2141.8,461.9 L2141.8,478.9 L2150.2,478.9 L2150.2,491.6 L2158.7,491.6 L2158.7,504.4 L2167.2,504.4 L2167.2,521.3 L2175.7,521.3 L2175.7,534.1 L2184.2,534.1 L2184.2,546.8 L2192.7,546.8 L2192.7,563.8 L2201.2,563.8 L2201.2,576.6 L2209.7,576.6 L2209.7,589.3 L2214.0,589.3 L2214.0,589.3 L2218.2,589.3 L2218.2,576.6 L2226.7,576.6 L2226.7,563.8 L2235.2,563.8 L2235.2,546.8 L2243.7,546.8 L2243.7,534.1 L2252.2,534.1 L2252.2,521.3 L2260.7,521.3 L2260.7,504.4 L2269.2,504.4 L2269.2,491.6 L2277.7,491.6 L2277.7,478.9 L2286.1,478.9 L2286.1,461.9 L2294.6,461.9 L2294.6,449.1 L2303.1,449.1 L2303.1,416.2 Z" fill="url(#e_v)" stroke="none" stroke-width="0.00" />
<rect x="2107.8" y="419.4" width="8.5" height="46.7" fill="#1b1b3e" />
<rect x="2116.3" y="434.3" width="8.5" height="70.1" fill="#0a0a1e" />
<rect x="2124.8" y="504.4" width="8.5" height="34.0" fill="#24105c" />
<rect x="2311.6" y="419.4" width="8.5" height="46.7" fill="#1b1b3e" />
<rect x="2303.1" y="434.3" width="8.5" height="70.1" fill="#0a0a1e" />
<rect x="2294.6" y="504.4" width="8.5" height="34.0" fill="#24105c" />
<rect x="2107.8" y="376.9" width="8.5" height="29.7" fill="#4062b8" />
<rect x="2116.3" y="372.7" width="8.5" height="38.2" fill="#40489e" />
<rect x="2124.8" y="406.7" width="8.5" height="44.6" fill="#4458a8" />
<rect x="2116.3" y="410.9" width="8.5" height="21.2" fill="#4080c8" />
<rect x="2082.3" y="385.4" width="25.5" height="4.2" fill="#4c92ca" />
<rect x="2073.8" y="389.7" width="34.0" height="4.2" fill="#4c92ca" />
<rect x="2065.3" y="393.9" width="42.5" height="4.2" fill="#4c92ca" />
<rect x="2065.3" y="398.2" width="42.5" height="4.2" fill="#5ea7d5" />
<rect x="2065.3" y="402.4" width="51.0" height="4.2" fill="#4c92ca" />
<rect x="2099.3" y="406.7" width="17.0" height="4.2" fill="#4c92ca" />
<rect x="2035.6" y="398.2" width="29.7" height="4.2" fill="#4070c0" />
<rect x="2056.8" y="406.7" width="17.0" height="4.2" fill="#0a0a22" />
<rect x="2311.6" y="376.9" width="8.5" height="29.7" fill="#4062b8" />
<rect x="2303.1" y="372.7" width="8.5" height="38.2" fill="#40489e" />
<rect x="2294.6" y="406.7" width="8.5" height="44.6" fill="#4458a8" />
<rect x="2303.1" y="410.9" width="8.5" height="21.2" fill="#4080c8" />
<rect x="2320.1" y="385.4" width="25.5" height="4.2" fill="#4c92ca" />
<rect x="2320.1" y="389.7" width="34.0" height="4.2" fill="#4c92ca" />
<rect x="2320.1" y="393.9" width="42.5" height="4.2" fill="#4c92ca" />
<rect x="2320.1" y="398.2" width="42.5" height="4.2" fill="#5ea7d5" />
<rect x="2311.6" y="402.4" width="51.0" height="4.2" fill="#4c92ca" />
<rect x="2311.6" y="406.7" width="17.0" height="4.2" fill="#4c92ca" />
<rect x="2362.6" y="398.2" width="29.7" height="4.2" fill="#4070c0" />
<rect x="2354.1" y="406.7" width="17.0" height="4.2" fill="#0a0a22" />
<path d="M2039.8,241.0 L2078.0,241.0 L2095.0,247.4 L2120.5,251.7 L2120.5,255.9 L2095.0,251.7 L2078.0,245.3 L2039.8,245.3 Z" fill="#4a8ac6" stroke="none" stroke-width="0.00" />
<rect x="2039.3" y="92.4" width="349.3" height="747.5" fill="url(#gl_e)" />
</g>
<rect x="2099.3" y="419.4" width="8.5" height="42.5" fill="#969696" />
<rect x="2099.3" y="478.9" width="8.5" height="34.0" fill="#969696" />
<rect x="2099.3" y="470.4" width="8.5" height="4.2" fill="#969696" />
<rect x="2082.3" y="406.7" width="8.5" height="4.2" fill="#969696" />
<rect x="2320.1" y="419.4" width="8.5" height="42.5" fill="#969696" />
<rect x="2320.1" y="478.9" width="8.5" height="34.0" fill="#969696" />
<rect x="2320.1" y="470.4" width="8.5" height="4.2" fill="#969696" />
<rect x="2337.1" y="406.7" width="8.5" height="4.2" fill="#969696" />
<rect x="2039.8" y="372.7" width="17.0" height="29.7" fill="#969696" />
<rect x="2371.1" y="368.5" width="17.0" height="34.0" fill="#969696" />
<rect x="2035.6" y="90.3" width="356.7" height="23.4" fill="#969696" />
<rect x="2035.6" y="90.3" width="356.7" height="23.4" fill="url(#gl_e)" />
<text transform="translate(2052.3,816.4)" x="-2.6" y="0" font-size="43.3" font-weight="bold" fill="#000" textLength="64.4" lengthAdjust="spacingAndGlyphs" >(e)</text>
<text transform="translate(2376.3,785.6)" x="-223.6" y="0" font-size="47.7" font-weight="normal" fill="#000" textLength="223.1" lengthAdjust="spacingAndGlyphs" >6.60 m/yr</text>
<text transform="translate(2376.3,827.4)" x="-261.3" y="0" font-size="47.7" font-weight="normal" fill="#000" textLength="260.8" lengthAdjust="spacingAndGlyphs" >23.09 Gt/yr</text>
</g>
<path d="M2039.3,94.5 h-14.6 M2039.3,200.7 h-14.6 M2039.3,306.9 h-14.6 M2039.3,413.0 h-14.6 M2039.3,519.2 h-14.6 M2039.3,625.4 h-14.6 M2039.3,731.6 h-14.6 M2039.3,837.7 h-14.6 M2044.1,839.9 v14.6 M2214.0,839.9 v14.6 M2383.8,839.9 v14.6 " stroke="#000" stroke-width="3.33" fill="none"/>
<rect x="2039.3" y="92.4" width="349.3" height="747.5" fill="none" stroke="#000" stroke-width="3.33"/>
<g clip-path="url(#cp_f)">
<rect x="2432.4" y="92.4" width="349.3" height="747.5" fill="url(#f_sd)" />
<path d="M2505.1,701.8 L2709.0,701.8 L2747.2,899.3 L2466.9,899.3 Z" fill="url(#f_sw)" stroke="none" stroke-width="0.00" filter="url(#b25)"/>
<path d="M2522.1,706.1 L2692.0,706.1 L2709.0,856.9 L2505.1,856.9 Z" fill="url(#f_st)" stroke="none" stroke-width="0.00" filter="url(#b14)"/>
<g clip-path="url(#f_c)">
<path d="M2428.7,113.6 L2428.7,402.4 L2449.9,402.4 L2449.9,406.7 L2475.4,406.7 L2475.4,415.2 L2483.9,415.2 L2483.9,614.8 L2492.4,614.8 L2492.4,653.0 L2500.9,653.0 L2500.9,682.7 L2509.4,682.7 L2509.4,699.7 L2517.9,699.7 L2517.9,704.0 L2543.3,704.0 L2543.3,708.2 L2607.1,708.2 L2607.1,708.2 L2670.8,708.2 L2670.8,704.0 L2696.2,704.0 L2696.2,699.7 L2704.7,699.7 L2704.7,682.7 L2713.2,682.7 L2713.2,653.0 L2721.7,653.0 L2721.7,614.8 L2730.2,614.8 L2730.2,415.2 L2738.7,415.2 L2738.7,406.7 L2764.2,406.7 L2764.2,402.4 L2785.4,402.4 L2785.4,113.6 Z" fill="url(#f_sh)" stroke="none" stroke-width="0.00" />
<path d="M2428.7,536.2 L2449.9,536.2 L2449.9,536.2 L2475.4,536.2 L2475.4,536.2 L2483.9,536.2 L2483.9,614.8 L2492.4,614.8 L2492.4,653.0 L2500.9,653.0 L2500.9,682.7 L2509.4,682.7 L2509.4,693.4" fill="none" stroke="#46f884" stroke-width="22.00" filter="url(#b8)" stroke-linejoin="round"/>
<path d="M2428.7,536.2 L2449.9,536.2 L2449.9,536.2 L2475.4,536.2 L2475.4,536.2 L2483.9,536.2 L2483.9,614.8 L2492.4,614.8 L2492.4,653.0 L2500.9,653.0 L2500.9,682.7 L2509.4,682.7 L2509.4,693.4" fill="none" stroke="#3ba0fd" stroke-width="9.00" filter="url(#b8)" stroke-linejoin="round"/>
<path d="M2704.7,693.4 L2704.7,682.7 L2713.2,682.7 L2713.2,653.0 L2721.7,653.0 L2721.7,614.8 L2730.2,614.8 L2730.2,536.2 L2738.7,536.2 L2738.7,536.2 L2764.2,536.2 L2764.2,536.2 L2785.4,536.2" fill="none" stroke="#46f884" stroke-width="22.00" filter="url(#b8)" stroke-linejoin="round"/>
<path d="M2704.7,693.4 L2704.7,682.7 L2713.2,682.7 L2713.2,653.0 L2721.7,653.0 L2721.7,614.8 L2730.2,614.8 L2730.2,536.2 L2738.7,536.2 L2738.7,536.2 L2764.2,536.2 L2764.2,536.2 L2785.4,536.2" fill="none" stroke="#3ba0fd" stroke-width="9.00" filter="url(#b8)" stroke-linejoin="round"/>
</g>
<path d="M2428.7,402.4H2449.9V406.7H2428.7ZM2441.4,402.4H2449.9V410.9H2441.4ZM2449.9,406.7H2475.4V410.9H2449.9ZM2466.9,406.7H2475.4V419.4H2466.9ZM2475.4,415.2H2483.9V419.4H2475.4ZM2475.4,415.2H2483.9V619.0H2475.4ZM2483.9,614.8H2492.4V619.0H2483.9ZM2483.9,614.8H2492.4V657.3H2483.9ZM2492.4,653.0H2500.9V657.3H2492.4ZM2492.4,653.0H2500.9V687.0H2492.4ZM2500.9,682.7H2509.4V687.0H2500.9ZM2500.9,682.7H2509.4V704.0H2500.9ZM2509.4,699.7H2517.9V704.0H2509.4ZM2509.4,699.7H2517.9V708.2H2509.4ZM2517.9,704.0H2543.3V708.2H2517.9ZM2534.9,704.0H2543.3V712.5H2534.9ZM2543.3,708.2H2607.1V712.5H2543.3ZM2607.1,708.2H2670.8V712.5H2607.1ZM2670.8,704.0H2679.2V712.5H2670.8ZM2670.8,704.0H2696.2V708.2H2670.8ZM2696.2,699.7H2704.7V708.2H2696.2ZM2696.2,699.7H2704.7V704.0H2696.2ZM2704.7,682.7H2713.2V704.0H2704.7ZM2704.7,682.7H2713.2V687.0H2704.7ZM2713.2,653.0H2721.7V687.0H2713.2ZM2713.2,653.0H2721.7V657.3H2713.2ZM2721.7,614.8H2730.2V657.3H2721.7ZM2721.7,614.8H2730.2V619.0H2721.7ZM2730.2,415.2H2738.7V619.0H2730.2ZM2730.2,415.2H2738.7V419.4H2730.2ZM2738.7,406.7H2747.2V419.4H2738.7ZM2738.7,406.7H2764.2V410.9H2738.7ZM2764.2,402.4H2772.7V410.9H2764.2ZM2764.2,402.4H2785.4V406.7H2764.2Z" fill="#f3f8f1" stroke="none" stroke-width="0.00" />
<rect x="2428.7" y="90.3" width="356.7" height="23.4" fill="#969696" />
<rect x="2432.4" y="92.4" width="349.3" height="747.5" fill="url(#gl_f)" />
<g clip-path="url(#f_c)">
<rect x="2483.9" y="415.2" width="8.5" height="199.6" fill="url(#f_wst)" />
<path d="M2428.7,404.6 L2449.9,404.6 L2475.4,408.8 L2486.0,419.4 L2486.0,434.3" fill="none" stroke="#d4e735" stroke-width="56.00" filter="url(#b8)" stroke-linejoin="round"/>
<path d="M2428.7,404.6 L2449.9,404.6 L2475.4,408.8 L2486.0,419.4 L2486.0,434.3" fill="none" stroke="#79fe59" stroke-width="40.00" filter="url(#b8)" stroke-linejoin="round"/>
<path d="M2428.7,404.6 L2449.9,404.6 L2475.4,408.8 L2486.0,419.4 L2486.0,434.3" fill="none" stroke="#19d5cd" stroke-width="26.00" filter="url(#b8)" stroke-linejoin="round"/>
<path d="M2428.7,404.6 L2449.9,404.6 L2475.4,408.8 L2486.0,419.4 L2486.0,434.3" fill="none" stroke="#477bf2" stroke-width="14.00" filter="url(#b8)" stroke-linejoin="round"/>
<rect x="2721.7" y="415.2" width="8.5" height="199.6" fill="url(#f_wst)" />
<path d="M2785.4,404.6 L2764.2,404.6 L2738.7,408.8 L2728.1,419.4 L2728.1,434.3" fill="none" stroke="#d4e735" stroke-width="56.00" filter="url(#b8)" stroke-linejoin="round"/>
<path d="M2785.4,404.6 L2764.2,404.6 L2738.7,408.8 L2728.1,419.4 L2728.1,434.3" fill="none" stroke="#79fe59" stroke-width="40.00" filter="url(#b8)" stroke-linejoin="round"/>
<path d="M2785.4,404.6 L2764.2,404.6 L2738.7,408.8 L2728.1,419.4 L2728.1,434.3" fill="none" stroke="#19d5cd" stroke-width="26.00" filter="url(#b8)" stroke-linejoin="round"/>
<path d="M2785.4,404.6 L2764.2,404.6 L2738.7,408.8 L2728.1,419.4 L2728.1,434.3" fill="none" stroke="#477bf2" stroke-width="14.00" filter="url(#b8)" stroke-linejoin="round"/>
</g>
<path d="M2428.7,402.4H2449.9V406.7H2428.7ZM2441.4,402.4H2449.9V410.9H2441.4ZM2449.9,406.7H2475.4V410.9H2449.9ZM2466.9,406.7H2475.4V419.4H2466.9ZM2475.4,415.2H2483.9V419.4H2475.4ZM2475.4,415.2H2483.9V619.0H2475.4ZM2483.9,614.8H2492.4V619.0H2483.9ZM2483.9,614.8H2492.4V657.3H2483.9ZM2492.4,653.0H2500.9V657.3H2492.4ZM2492.4,653.0H2500.9V687.0H2492.4ZM2500.9,682.7H2509.4V687.0H2500.9ZM2500.9,682.7H2509.4V704.0H2500.9ZM2509.4,699.7H2517.9V704.0H2509.4ZM2509.4,699.7H2517.9V708.2H2509.4ZM2517.9,704.0H2543.3V708.2H2517.9ZM2534.9,704.0H2543.3V712.5H2534.9ZM2543.3,708.2H2607.1V712.5H2543.3ZM2607.1,708.2H2670.8V712.5H2607.1ZM2670.8,704.0H2679.2V712.5H2670.8ZM2670.8,704.0H2696.2V708.2H2670.8ZM2696.2,699.7H2704.7V708.2H2696.2ZM2696.2,699.7H2704.7V704.0H2696.2ZM2704.7,682.7H2713.2V704.0H2704.7ZM2704.7,682.7H2713.2V687.0H2704.7ZM2713.2,653.0H2721.7V687.0H2713.2ZM2713.2,653.0H2721.7V657.3H2713.2ZM2721.7,614.8H2730.2V657.3H2721.7ZM2721.7,614.8H2730.2V619.0H2721.7ZM2730.2,415.2H2738.7V619.0H2730.2ZM2730.2,415.2H2738.7V419.4H2730.2ZM2738.7,406.7H2747.2V419.4H2738.7ZM2738.7,406.7H2764.2V410.9H2738.7ZM2764.2,402.4H2772.7V410.9H2764.2ZM2764.2,402.4H2785.4V406.7H2764.2Z" fill="#f3f8f1" stroke="none" stroke-width="0.00" />
<rect x="2492.4" y="419.4" width="8.5" height="42.5" fill="#969696" />
<rect x="2492.4" y="478.9" width="8.5" height="34.0" fill="#969696" />
<rect x="2492.4" y="470.4" width="8.5" height="4.2" fill="#969696" />
<rect x="2492.4" y="461.9" width="8.5" height="8.5" fill="#b4f836" />
<rect x="2492.4" y="474.6" width="8.5" height="4.2" fill="#33184a" />
<rect x="2713.2" y="419.4" width="8.5" height="42.5" fill="#969696" />
<rect x="2713.2" y="478.9" width="8.5" height="34.0" fill="#969696" />
<rect x="2713.2" y="470.4" width="8.5" height="4.2" fill="#969696" />
<rect x="2713.2" y="461.9" width="8.5" height="8.5" fill="#b4f836" />
<rect x="2713.2" y="474.6" width="8.5" height="4.2" fill="#33184a" />
<rect x="2432.9" y="372.7" width="17.0" height="29.7" fill="#969696" />
<rect x="2764.2" y="368.5" width="17.0" height="34.0" fill="#969696" />
<rect x="2432.4" y="92.4" width="349.3" height="747.5" fill="url(#gl_f)" />
<use href="#ar" transform="translate(2454.2,137.0) rotate(0)"/><use href="#ar" transform="translate(2496.6,137.0) rotate(0)"/><use href="#ar" transform="translate(2539.1,137.0) rotate(0)"/><use href="#ar" transform="translate(2581.6,137.0) rotate(0)"/><use href="#ar" transform="translate(2624.0,137.0) rotate(0)"/><use href="#ar" transform="translate(2666.5,137.0) rotate(0)"/><use href="#ar" transform="translate(2709.0,137.0) rotate(0)"/><use href="#ar" transform="translate(2751.4,137.0) rotate(0)"/><use href="#ar" transform="translate(2454.2,200.7) rotate(0)"/><use href="#ar" transform="translate(2496.6,200.7) rotate(0)"/><use href="#ar" transform="translate(2539.1,200.7) rotate(0)"/><use href="#ar" transform="translate(2581.6,200.7) rotate(0)"/><use href="#ar" transform="translate(2624.0,200.7) rotate(0)"/><use href="#ar" transform="translate(2666.5,200.7) rotate(0)"/><use href="#ar" transform="translate(2709.0,200.7) rotate(0)"/><use href="#ar" transform="translate(2751.4,200.7) rotate(0)"/><use href="#ar" transform="translate(2454.2,264.4) rotate(0)"/><use href="#ar" transform="translate(2496.6,264.4) rotate(0)"/><use href="#ar" transform="translate(2539.1,264.4) rotate(0)"/><use href="#ar" transform="translate(2581.6,264.4) rotate(0)"/><use href="#ar" transform="translate(2624.0,264.4) rotate(0)"/><use href="#ar" transform="translate(2666.5,264.4) rotate(0)"/><use href="#ar" transform="translate(2709.0,264.4) rotate(0)"/><use href="#ar" transform="translate(2751.4,264.4) rotate(0)"/><use href="#ar" transform="translate(2454.2,328.1) rotate(0)"/><use href="#ar" transform="translate(2496.6,328.1) rotate(0)"/><use href="#ar" transform="translate(2539.1,328.1) rotate(0)"/><use href="#ar" transform="translate(2581.6,328.1) rotate(0)"/><use href="#ar" transform="translate(2624.0,328.1) rotate(0)"/><use href="#ar" transform="translate(2666.5,328.1) rotate(0)"/><use href="#ar" transform="translate(2709.0,328.1) rotate(0)"/><use href="#ar" transform="translate(2751.4,328.1) rotate(0)"/><use href="#ar" transform="translate(2454.2,391.8) rotate(7)"/><use href="#ar" transform="translate(2496.6,391.8) rotate(0)"/><use href="#ar" transform="translate(2539.1,391.8) rotate(0)"/><use href="#ar" transform="translate(2581.6,391.8) rotate(0)"/><use href="#ar" transform="translate(2624.0,391.8) rotate(0)"/><use href="#ar" transform="translate(2666.5,391.8) rotate(0)"/><use href="#ar" transform="translate(2709.0,391.8) rotate(0)"/><use href="#ar" transform="translate(2751.4,391.8) rotate(-4)"/><use href="#ar" transform="translate(2454.2,455.5) rotate(90)"/><use href="#ar" transform="translate(2539.1,455.5) rotate(0)"/><use href="#ar" transform="translate(2581.6,455.5) rotate(0)"/><use href="#ar" transform="translate(2624.0,455.5) rotate(0)"/><use href="#ar" transform="translate(2666.5,455.5) rotate(0)"/><use href="#ar" transform="translate(2709.0,455.5) rotate(0)"/><use href="#ar" transform="translate(2751.4,455.5) rotate(-90)"/><use href="#ar" transform="translate(2454.2,519.2) rotate(90)"/><use href="#ar" transform="translate(2496.6,519.2) rotate(0)"/><use href="#ar" transform="translate(2539.1,519.2) rotate(0)"/><use href="#ar" transform="translate(2581.6,519.2) rotate(0)"/><use href="#ar" transform="translate(2624.0,519.2) rotate(0)"/><use href="#ar" transform="translate(2666.5,519.2) rotate(0)"/><use href="#ar" transform="translate(2709.0,519.2) rotate(0)"/><use href="#ar" transform="translate(2751.4,519.2) rotate(-90)"/><use href="#ar" transform="translate(2454.2,582.9) rotate(85)"/><use href="#ar" transform="translate(2496.6,582.9) rotate(-4)"/><use href="#ar" transform="translate(2539.1,582.9) rotate(-6)"/><use href="#ar" transform="translate(2581.6,582.9) rotate(-1)"/><use href="#ar" transform="translate(2624.0,582.9) rotate(1)"/><use href="#ar" transform="translate(2666.5,582.9) rotate(5)"/><use href="#ar" transform="translate(2709.0,582.9) rotate(5)"/><use href="#ar" transform="translate(2751.4,582.9) rotate(-85)"/><use href="#ar" transform="translate(2454.2,646.6) rotate(76)"/><use href="#ar" transform="translate(2496.6,646.6) rotate(0)"/><use href="#ar" transform="translate(2539.1,646.6) rotate(-5)"/><use href="#ar" transform="translate(2581.6,646.6) rotate(-1)"/><use href="#ar" transform="translate(2624.0,646.6) rotate(1)"/><use href="#ar" transform="translate(2666.5,646.6) rotate(5)"/><use href="#ar" transform="translate(2709.0,646.6) rotate(4)"/><use href="#ar" transform="translate(2751.4,646.6) rotate(-79)"/><use href="#ar" transform="translate(2454.2,710.3) rotate(38)"/><use href="#ar" transform="translate(2496.6,710.3) rotate(34)"/><use href="#ar" transform="translate(2539.1,710.3) rotate(7)"/><use href="#ar" transform="translate(2581.6,710.3) rotate(2)"/><use href="#ar" transform="translate(2624.0,710.3) rotate(-2)"/><use href="#ar" transform="translate(2666.5,710.3) rotate(-7)"/><use href="#ar" transform="translate(2709.0,710.3) rotate(-24)"/><use href="#ar" transform="translate(2751.4,710.3) rotate(-46)"/><use href="#ar" transform="translate(2454.2,774.0) rotate(10)"/><use href="#ar" transform="translate(2496.6,774.0) rotate(12)"/><use href="#ar" transform="translate(2539.1,774.0) rotate(4)"/><use href="#ar" transform="translate(2581.6,774.0) rotate(1)"/><use href="#ar" transform="translate(2624.0,774.0) rotate(-1)"/><use href="#ar" transform="translate(2666.5,774.0) rotate(-5)"/><use href="#ar" transform="translate(2709.0,774.0) rotate(-11)"/><use href="#ar" transform="translate(2751.4,774.0) rotate(-14)"/><use href="#ar" transform="translate(2454.2,837.7) rotate(7)"/><use href="#ar" transform="translate(2496.6,837.7) rotate(10)"/><use href="#ar" transform="translate(2539.1,837.7) rotate(3)"/><use href="#ar" transform="translate(2581.6,837.7) rotate(1)"/><use href="#ar" transform="translate(2624.0,837.7) rotate(-1)"/><use href="#ar" transform="translate(2666.5,837.7) rotate(-4)"/><use href="#ar" transform="translate(2709.0,837.7) rotate(-8)"/><use href="#ar" transform="translate(2751.4,837.7) rotate(-9)"/>
<text transform="translate(2445.4,816.4)" x="-2.7" y="0" font-size="43.3" font-weight="bold" fill="#fff" textLength="54.5" lengthAdjust="spacingAndGlyphs" >(f)</text>
</g>
<path d="M2432.4,94.5 h-14.6 M2432.4,200.7 h-14.6 M2432.4,306.9 h-14.6 M2432.4,413.0 h-14.6 M2432.4,519.2 h-14.6 M2432.4,625.4 h-14.6 M2432.4,731.6 h-14.6 M2432.4,837.7 h-14.6 M2437.2,839.9 v14.6 M2607.1,839.9 v14.6 M2776.9,839.9 v14.6 " stroke="#000" stroke-width="3.33" fill="none"/>
<rect x="2432.4" y="92.4" width="349.3" height="747.5" fill="none" stroke="#000" stroke-width="3.33"/>
<g clip-path="url(#cp_g)">
<rect x="2939.0" y="92.4" width="349.3" height="747.5" fill="#e5e5e5" />
<g clip-path="url(#g_c)">
<path d="M2935.3,113.6 L2935.3,440.7 L2973.5,440.7 L2973.5,449.1 L2990.5,449.1 L2990.5,461.9 L2999.0,461.9 L2999.0,512.9 L3007.5,512.9 L3007.5,576.6 L3016.0,576.6 L3016.0,597.8 L3024.5,597.8 L3024.5,602.0 L3066.9,602.0 L3066.9,606.3 L3113.7,606.3 L3113.7,606.3 L3160.4,606.3 L3160.4,602.0 L3202.8,602.0 L3202.8,597.8 L3211.3,597.8 L3211.3,576.6 L3219.8,576.6 L3219.8,512.9 L3228.3,512.9 L3228.3,461.9 L3236.8,461.9 L3236.8,449.1 L3253.8,449.1 L3253.8,440.7 L3292.0,440.7 L3292.0,113.6 Z" fill="url(#g_v)" stroke="none" stroke-width="0.00" />
<path d="M2935.3,113.6 L2962.9,113.6 L2979.9,285.6 L2992.6,370.6 L2999.0,466.1 L2935.3,466.1 Z" fill="#a3dea8" stroke="none" stroke-width="0.00" filter="url(#b8)"/>
<path d="M2935.3,243.2 L2945.9,251.7 L2967.1,349.3 L2971.4,438.5 L2935.3,442.8 Z" fill="#c3eab0" stroke="none" stroke-width="0.00" filter="url(#b8)"/>
<path d="M3292.0,113.6 L3264.4,113.6 L3247.4,285.6 L3234.7,370.6 L3228.3,466.1 L3292.0,466.1 Z" fill="#a3dea8" stroke="none" stroke-width="0.00" filter="url(#b8)"/>
<path d="M3292.0,243.2 L3281.4,251.7 L3260.2,349.3 L3255.9,438.5 L3292.0,442.8 Z" fill="#c3eab0" stroke="none" stroke-width="0.00" filter="url(#b8)"/>
<g mask="url(#g_m)">
<rect x="2999.0" y="370.6" width="42.5" height="127.4" fill="url(#g_el)" />
<rect x="3185.8" y="370.6" width="42.5" height="127.4" fill="url(#g_er)" />
</g>
</g>
<rect x="2982.0" y="360.0" width="8.5" height="95.6" fill="#e5e5e5" />
<rect x="3236.8" y="351.5" width="8.5" height="104.1" fill="#e5e5e5" />
<rect x="2935.3" y="90.3" width="356.7" height="23.4" fill="#969696" />
<rect x="2939.0" y="92.4" width="349.3" height="747.5" fill="url(#gl_g)" />
<path d="M2968.4,115.8 C2970.7,144.1 2978.0,245.3 2982.0,285.6 C2986.0,326.0 2989.8,338.0 2992.2,357.8 C2994.6,377.7 2995.7,396.8 2996.4,404.6" fill="none" stroke="#000" stroke-width="4.17" stroke-dasharray="15.4,6.7"/>
<path d="M3259.7,115.8 C3257.2,139.8 3248.8,219.8 3244.5,260.2 C3240.1,300.5 3236.0,333.1 3233.8,357.8 C3231.6,382.6 3231.7,400.3 3231.3,408.8" fill="none" stroke="#000" stroke-width="4.17" stroke-dasharray="15.4,6.7"/>
<path d="M2992.6,438.5 L2993.5,455.5" fill="none" stroke="#000" stroke-width="4.17" stroke-dasharray="15.4,6.7"/>
<path d="M3234.7,438.5 L3233.8,455.5" fill="none" stroke="#000" stroke-width="4.17" stroke-dasharray="15.4,6.7"/>
<path d="M2948.9,252.1 L2956.5,306.0" fill="none" stroke="#000" stroke-width="8.33" stroke-linejoin="round"/>
<path d="M2971.4,396.1 C2971.5,401.7 2972.8,422.8 2972.2,430.0 C2971.7,437.3 2970.6,437.5 2968.0,439.6 C2965.4,441.6 2958.4,441.9 2956.5,442.4" fill="none" stroke="#000" stroke-width="8.33" stroke-linejoin="round"/>
<path d="M3280.1,252.1 L3269.9,300.9" fill="none" stroke="#000" stroke-width="8.33" stroke-linejoin="round"/>
<path d="M3255.5,393.9 C3255.6,400.0 3255.6,422.7 3256.3,430.0 C3257.1,437.4 3257.8,436.4 3260.2,438.1 C3262.6,439.8 3269.0,439.9 3270.8,440.2" fill="none" stroke="#000" stroke-width="8.33" stroke-linejoin="round"/>
<path d="M3001.5,462.7 C3006.9,453.7 3022.1,424.2 3033.8,408.8 C3045.6,393.4 3065.7,376.9 3072.0,370.6" fill="none" stroke="#000" stroke-width="8.33" stroke-linejoin="round"/>
<path d="M3154.4,370.6 C3160.9,376.9 3180.9,393.4 3193.1,408.8 C3205.2,424.2 3221.7,453.7 3227.5,462.7" fill="none" stroke="#000" stroke-width="8.33" stroke-linejoin="round"/>
<path d="M3005.4,510.7 C3006.2,507.9 3002.3,498.7 3010.4,493.7 C3018.6,488.8 3034.9,483.0 3054.2,481.0 C3073.4,479.0 3107.1,482.1 3126.0,481.8 C3144.8,481.6 3153.4,478.6 3167.2,479.7 C3180.9,480.9 3199.4,485.5 3208.4,488.6 C3217.3,491.8 3218.6,495.2 3221.1,498.8 C3223.6,502.5 3223.2,508.7 3223.6,510.7" fill="none" stroke="#000" stroke-width="4.17" stroke-dasharray="15.4,6.7"/>
<path d="M3012.1,551.7 C3014.9,550.9 3022.6,547.1 3028.7,546.8 C3034.9,546.6 3042.7,549.2 3049.1,550.2 C3055.5,551.2 3064.0,552.4 3066.9,552.8" fill="none" stroke="#000" stroke-width="8.33" stroke-linejoin="round"/>
<path d="M3162.1,552.8 C3165.0,552.4 3173.5,551.2 3179.5,550.2 C3185.4,549.2 3191.7,546.4 3197.7,546.8 C3203.8,547.3 3213.0,551.8 3216.0,552.8" fill="none" stroke="#000" stroke-width="8.33" stroke-linejoin="round"/>
<text transform="translate(2957.7,353.7) rotate(80.0)" x="-42.3" y="0" font-size="39.0" font-weight="normal" fill="#000" textLength="84.3" lengthAdjust="spacingAndGlyphs" >-100</text>
<text transform="translate(3270.0,344.1) rotate(-80.0)" x="-42.3" y="0" font-size="39.0" font-weight="normal" fill="#000" textLength="84.3" lengthAdjust="spacingAndGlyphs" >-100</text>
<text transform="translate(3113.2,360.9)" x="-42.3" y="0" font-size="39.0" font-weight="normal" fill="#000" textLength="84.3" lengthAdjust="spacingAndGlyphs" >-200</text>
<text transform="translate(3113.2,566.4)" x="-42.3" y="0" font-size="39.0" font-weight="normal" fill="#000" textLength="84.3" lengthAdjust="spacingAndGlyphs" >-300</text>
<text transform="translate(2952.0,816.4)" x="-2.6" y="0" font-size="43.3" font-weight="bold" fill="#000" textLength="65.9" lengthAdjust="spacingAndGlyphs" >(g)</text>
</g>
<path d="M2939.0,94.5 h-14.6 M2939.0,200.7 h-14.6 M2939.0,306.9 h-14.6 M2939.0,413.0 h-14.6 M2939.0,519.2 h-14.6 M2939.0,625.4 h-14.6 M2939.0,731.6 h-14.6 M2939.0,837.7 h-14.6 M2943.8,839.9 v14.6 M3113.7,839.9 v14.6 M3283.5,839.9 v14.6 " stroke="#000" stroke-width="3.33" fill="none"/>
<rect x="2939.0" y="92.4" width="349.3" height="747.5" fill="none" stroke="#000" stroke-width="3.33"/>
<g clip-path="url(#cp_h)">
<rect x="3332.1" y="92.4" width="349.3" height="747.5" fill="#e8e8e8" />
<rect x="3332.1" y="92.4" width="349.3" height="747.5" fill="url(#gd_h)" />
<g clip-path="url(#h_c)">
<path d="M3328.4,113.6 L3328.4,440.7 L3366.6,440.7 L3366.6,449.1 L3383.6,449.1 L3383.6,461.9 L3392.1,461.9 L3392.1,512.9 L3400.6,512.9 L3400.6,576.6 L3409.1,576.6 L3409.1,597.8 L3417.6,597.8 L3417.6,602.0 L3460.0,602.0 L3460.0,606.3 L3506.8,606.3 L3506.8,606.3 L3553.5,606.3 L3553.5,602.0 L3595.9,602.0 L3595.9,597.8 L3604.4,597.8 L3604.4,576.6 L3612.9,576.6 L3612.9,512.9 L3621.4,512.9 L3621.4,461.9 L3629.9,461.9 L3629.9,449.1 L3646.9,449.1 L3646.9,440.7 L3685.1,440.7 L3685.1,113.6 Z" fill="url(#h_v)" stroke="none" stroke-width="0.00" />
<path d="M3370.8,540.5 A135.9,148.6 0 0 1 3642.7,540.5" fill="none" stroke="#05050e" stroke-width="56.00" filter="url(#b8)"/>
<path d="M3390.0,519.2 A116.8,97.7 0 0 1 3623.5,519.2 L3623.5,625.4 L3390.0,625.4 Z" fill="url(#h_d)" stroke="none" stroke-width="0.00" filter="url(#b8)"/>
<rect x="3328.4" y="113.6" width="42.5" height="341.9" fill="url(#h_l)" />
<rect x="3642.7" y="113.6" width="42.5" height="341.9" fill="url(#h_r)" />
<rect x="3328.4" y="349.3" width="46.7" height="106.2" fill="#07080f" opacity="0.7"/>
<rect x="3638.4" y="349.3" width="46.7" height="106.2" fill="#07080f" opacity="0.7"/>
<rect x="3332.1" y="92.4" width="349.3" height="747.5" fill="url(#gl_h)" />
</g>
<rect x="3375.1" y="360.0" width="8.5" height="95.6" fill="#e8e8e8" />
<rect x="3629.9" y="351.5" width="8.5" height="104.1" fill="#e8e8e8" />
<rect x="3328.4" y="90.3" width="356.7" height="23.4" fill="#969696" />
<rect x="3328.4" y="90.3" width="356.7" height="23.4" fill="url(#gl_h)" />
<text transform="translate(3345.1,816.4)" x="-2.6" y="0" font-size="43.3" font-weight="bold" fill="#000" textLength="65.7" lengthAdjust="spacingAndGlyphs" >(h)</text>
<text transform="translate(3669.1,785.6)" x="-252.2" y="0" font-size="47.7" font-weight="normal" fill="#000" textLength="251.7" lengthAdjust="spacingAndGlyphs" >13.34 m/yr</text>
<text transform="translate(3669.1,827.4)" x="-261.0" y="0" font-size="47.7" font-weight="normal" fill="#000" textLength="260.5" lengthAdjust="spacingAndGlyphs" >15.59 Gt/yr</text>
</g>
<path d="M3332.1,94.5 h-14.6 M3332.1,200.7 h-14.6 M3332.1,306.9 h-14.6 M3332.1,413.0 h-14.6 M3332.1,519.2 h-14.6 M3332.1,625.4 h-14.6 M3332.1,731.6 h-14.6 M3332.1,837.7 h-14.6 M3336.9,839.9 v14.6 M3506.8,839.9 v14.6 M3676.6,839.9 v14.6 " stroke="#000" stroke-width="3.33" fill="none"/>
<rect x="3332.1" y="92.4" width="349.3" height="747.5" fill="none" stroke="#000" stroke-width="3.33"/>
<g clip-path="url(#cp_i)">
<rect x="3725.2" y="92.4" width="349.3" height="747.5" fill="url(#i_sd)" />
<path d="M3793.7,595.7 L4006.0,595.7 L4052.7,899.3 L3747.0,899.3 Z" fill="url(#i_sw)" stroke="none" stroke-width="0.00" filter="url(#b25)"/>
<path d="M3819.2,599.9 L3980.5,599.9 L4001.8,856.9 L3797.9,856.9 Z" fill="url(#i_st)" stroke="none" stroke-width="0.00" filter="url(#b14)"/>
<g clip-path="url(#i_c)">
<path d="M3721.5,113.6 L3721.5,440.7 L3759.7,440.7 L3759.7,449.1 L3776.7,449.1 L3776.7,461.9 L3785.2,461.9 L3785.2,512.9 L3793.7,512.9 L3793.7,576.6 L3802.2,576.6 L3802.2,597.8 L3810.7,597.8 L3810.7,602.0 L3853.1,602.0 L3853.1,606.3 L3899.8,606.3 L3899.8,606.3 L3946.6,606.3 L3946.6,602.0 L3989.0,602.0 L3989.0,597.8 L3997.5,597.8 L3997.5,576.6 L4006.0,576.6 L4006.0,512.9 L4014.5,512.9 L4014.5,461.9 L4023.0,461.9 L4023.0,449.1 L4040.0,449.1 L4040.0,440.7 L4078.2,440.7 L4078.2,113.6 Z" fill="url(#i_sh)" stroke="none" stroke-width="0.00" />
<path d="M3721.5,440.7 L3759.7,440.7 L3759.7,449.1 L3776.7,449.1 L3776.7,461.9 L3785.2,461.9 L3785.2,512.9 L3793.7,512.9 L3793.7,576.6 L3802.2,576.6 L3802.2,591.4" fill="none" stroke="#3ba0fd" stroke-width="40.00" filter="url(#b8)" stroke-linejoin="round"/>
<path d="M3721.5,440.7 L3759.7,440.7 L3759.7,449.1 L3776.7,449.1 L3776.7,461.9 L3785.2,461.9 L3785.2,512.9 L3793.7,512.9 L3793.7,576.6 L3802.2,576.6 L3802.2,591.4" fill="none" stroke="#4773eb" stroke-width="14.00" filter="url(#b8)" stroke-linejoin="round"/>
<path d="M3997.5,591.4 L3997.5,576.6 L4006.0,576.6 L4006.0,512.9 L4014.5,512.9 L4014.5,461.9 L4023.0,461.9 L4023.0,449.1 L4040.0,449.1 L4040.0,440.7 L4078.2,440.7" fill="none" stroke="#3ba0fd" stroke-width="40.00" filter="url(#b8)" stroke-linejoin="round"/>
<path d="M3997.5,591.4 L3997.5,576.6 L4006.0,576.6 L4006.0,512.9 L4014.5,512.9 L4014.5,461.9 L4023.0,461.9 L4023.0,449.1 L4040.0,449.1 L4040.0,440.7 L4078.2,440.7" fill="none" stroke="#4773eb" stroke-width="14.00" filter="url(#b8)" stroke-linejoin="round"/>
</g>
<path d="M3721.5,440.7H3759.7V444.9H3721.5ZM3751.2,440.7H3759.7V453.4H3751.2ZM3759.7,449.1H3776.7V453.4H3759.7ZM3768.2,449.1H3776.7V466.1H3768.2ZM3776.7,461.9H3785.2V466.1H3776.7ZM3776.7,461.9H3785.2V517.1H3776.7ZM3785.2,512.9H3793.7V517.1H3785.2ZM3785.2,512.9H3793.7V580.8H3785.2ZM3793.7,576.6H3802.2V580.8H3793.7ZM3793.7,576.6H3802.2V602.0H3793.7ZM3802.2,597.8H3810.7V602.0H3802.2ZM3802.2,597.8H3810.7V606.3H3802.2ZM3810.7,602.0H3853.1V606.3H3810.7ZM3844.6,602.0H3853.1V610.5H3844.6ZM3853.1,606.3H3899.8V610.5H3853.1ZM3899.8,606.3H3946.6V610.5H3899.8ZM3946.6,602.0H3955.1V610.5H3946.6ZM3946.6,602.0H3989.0V606.3H3946.6ZM3989.0,597.8H3997.5V606.3H3989.0ZM3989.0,597.8H3997.5V602.0H3989.0ZM3997.5,576.6H4006.0V602.0H3997.5ZM3997.5,576.6H4006.0V580.8H3997.5ZM4006.0,512.9H4014.5V580.8H4006.0ZM4006.0,512.9H4014.5V517.1H4006.0ZM4014.5,461.9H4023.0V517.1H4014.5ZM4014.5,461.9H4023.0V466.1H4014.5ZM4023.0,449.1H4031.5V466.1H4023.0ZM4023.0,449.1H4040.0V453.4H4023.0ZM4040.0,440.7H4048.5V453.4H4040.0ZM4040.0,440.7H4078.2V444.9H4040.0Z" fill="#f3f8f1" stroke="none" stroke-width="0.00" />
<rect x="3721.5" y="90.3" width="356.7" height="23.4" fill="#969696" />
<rect x="3725.2" y="92.4" width="349.3" height="747.5" fill="url(#gl_i)" />
<g clip-path="url(#i_c)">
<g filter="url(#b8)">
<rect x="3721.5" y="338.7" width="46.7" height="104.1" fill="url(#i_sp)" />
</g>
<g filter="url(#b8)">
<rect x="4031.5" y="338.7" width="46.7" height="104.1" fill="url(#i_sp)" />
</g>
</g>
<path d="M3721.5,440.7H3759.7V444.9H3721.5ZM3751.2,440.7H3759.7V453.4H3751.2ZM3759.7,449.1H3776.7V453.4H3759.7ZM3768.2,449.1H3776.7V466.1H3768.2ZM3776.7,461.9H3785.2V466.1H3776.7ZM3776.7,461.9H3785.2V517.1H3776.7ZM3785.2,512.9H3793.7V517.1H3785.2ZM3785.2,512.9H3793.7V580.8H3785.2ZM3793.7,576.6H3802.2V580.8H3793.7ZM3793.7,576.6H3802.2V602.0H3793.7ZM3802.2,597.8H3810.7V602.0H3802.2ZM3802.2,597.8H3810.7V606.3H3802.2ZM3810.7,602.0H3853.1V606.3H3810.7ZM3844.6,602.0H3853.1V610.5H3844.6ZM3853.1,606.3H3899.8V610.5H3853.1ZM3899.8,606.3H3946.6V610.5H3899.8ZM3946.6,602.0H3955.1V610.5H3946.6ZM3946.6,602.0H3989.0V606.3H3946.6ZM3989.0,597.8H3997.5V606.3H3989.0ZM3989.0,597.8H3997.5V602.0H3989.0ZM3997.5,576.6H4006.0V602.0H3997.5ZM3997.5,576.6H4006.0V580.8H3997.5ZM4006.0,512.9H4014.5V580.8H4006.0ZM4006.0,512.9H4014.5V517.1H4006.0ZM4014.5,461.9H4023.0V517.1H4014.5ZM4014.5,461.9H4023.0V466.1H4014.5ZM4023.0,449.1H4031.5V466.1H4023.0ZM4023.0,449.1H4040.0V453.4H4023.0ZM4040.0,440.7H4048.5V453.4H4040.0ZM4040.0,440.7H4078.2V444.9H4040.0Z" fill="#f3f8f1" stroke="none" stroke-width="0.00" />
<rect x="3768.2" y="360.0" width="8.5" height="95.6" fill="#f3f8f1" />
<rect x="4023.0" y="351.5" width="8.5" height="104.1" fill="#f3f8f1" />
<use href="#ar" transform="translate(3747.0,137.0) rotate(0)"/><use href="#ar" transform="translate(3789.4,137.0) rotate(0)"/><use href="#ar" transform="translate(3831.9,137.0) rotate(0)"/><use href="#ar" transform="translate(3874.4,137.0) rotate(0)"/><use href="#ar" transform="translate(3916.8,137.0) rotate(0)"/><use href="#ar" transform="translate(3959.3,137.0) rotate(0)"/><use href="#ar" transform="translate(4001.8,137.0) rotate(0)"/><use href="#ar" transform="translate(4044.2,137.0) rotate(0)"/><use href="#ar" transform="translate(3747.0,200.7) rotate(0)"/><use href="#ar" transform="translate(3789.4,200.7) rotate(0)"/><use href="#ar" transform="translate(3831.9,200.7) rotate(0)"/><use href="#ar" transform="translate(3874.4,200.7) rotate(0)"/><use href="#ar" transform="translate(3916.8,200.7) rotate(0)"/><use href="#ar" transform="translate(3959.3,200.7) rotate(0)"/><use href="#ar" transform="translate(4001.8,200.7) rotate(0)"/><use href="#ar" transform="translate(4044.2,200.7) rotate(0)"/><use href="#ar" transform="translate(3747.0,264.4) rotate(0)"/><use href="#ar" transform="translate(3789.4,264.4) rotate(0)"/><use href="#ar" transform="translate(3831.9,264.4) rotate(0)"/><use href="#ar" transform="translate(3874.4,264.4) rotate(0)"/><use href="#ar" transform="translate(3916.8,264.4) rotate(0)"/><use href="#ar" transform="translate(3959.3,264.4) rotate(0)"/><use href="#ar" transform="translate(4001.8,264.4) rotate(0)"/><use href="#ar" transform="translate(4044.2,264.4) rotate(0)"/><use href="#ar" transform="translate(3747.0,328.1) rotate(0)"/><use href="#ar" transform="translate(3789.4,328.1) rotate(0)"/><use href="#ar" transform="translate(3831.9,328.1) rotate(0)"/><use href="#ar" transform="translate(3874.4,328.1) rotate(0)"/><use href="#ar" transform="translate(3916.8,328.1) rotate(0)"/><use href="#ar" transform="translate(3959.3,328.1) rotate(0)"/><use href="#ar" transform="translate(4001.8,328.1) rotate(0)"/><use href="#ar" transform="translate(4044.2,328.1) rotate(0)"/><use href="#ar" transform="translate(3747.0,391.8) rotate(0)"/><use href="#ar" transform="translate(3789.4,391.8) rotate(0)"/><use href="#ar" transform="translate(3831.9,391.8) rotate(0)"/><use href="#ar" transform="translate(3874.4,391.8) rotate(0)"/><use href="#ar" transform="translate(3916.8,391.8) rotate(0)"/><use href="#ar" transform="translate(3959.3,391.8) rotate(0)"/><use href="#ar" transform="translate(4001.8,391.8) rotate(0)"/><use href="#ar" transform="translate(4044.2,391.8) rotate(0)"/><use href="#ar" transform="translate(3747.0,455.5) rotate(34)"/><use href="#ar" transform="translate(3789.4,455.5) rotate(-10)"/><use href="#ar" transform="translate(3831.9,455.5) rotate(-4)"/><use href="#ar" transform="translate(3874.4,455.5) rotate(0)"/><use href="#ar" transform="translate(3916.8,455.5) rotate(0)"/><use href="#ar" transform="translate(3959.3,455.5) rotate(5)"/><use href="#ar" transform="translate(4001.8,455.5) rotate(9)"/><use href="#ar" transform="translate(4044.2,455.5) rotate(-40)"/><use href="#ar" transform="translate(3747.0,519.2) rotate(82)"/><use href="#ar" transform="translate(3789.4,519.2) rotate(10)"/><use href="#ar" transform="translate(3831.9,519.2) rotate(0)"/><use href="#ar" transform="translate(3874.4,519.2) rotate(0)"/><use href="#ar" transform="translate(3916.8,519.2) rotate(0)"/><use href="#ar" transform="translate(3959.3,519.2) rotate(0)"/><use href="#ar" transform="translate(4001.8,519.2) rotate(-5)"/><use href="#ar" transform="translate(4044.2,519.2) rotate(-82)"/><use href="#ar" transform="translate(3747.0,582.9) rotate(63)"/><use href="#ar" transform="translate(3789.4,582.9) rotate(36)"/><use href="#ar" transform="translate(3831.9,582.9) rotate(1)"/><use href="#ar" transform="translate(3874.4,582.9) rotate(0)"/><use href="#ar" transform="translate(3916.8,582.9) rotate(0)"/><use href="#ar" transform="translate(3959.3,582.9) rotate(-1)"/><use href="#ar" transform="translate(4001.8,582.9) rotate(-12)"/><use href="#ar" transform="translate(4044.2,582.9) rotate(-68)"/><use href="#ar" transform="translate(3747.0,646.6) rotate(17)"/><use href="#ar" transform="translate(3789.4,646.6) rotate(16)"/><use href="#ar" transform="translate(3831.9,646.6) rotate(6)"/><use href="#ar" transform="translate(3874.4,646.6) rotate(2)"/><use href="#ar" transform="translate(3916.8,646.6) rotate(-2)"/><use href="#ar" transform="translate(3959.3,646.6) rotate(-8)"/><use href="#ar" transform="translate(4001.8,646.6) rotate(-16)"/><use href="#ar" transform="translate(4044.2,646.6) rotate(-23)"/><use href="#ar" transform="translate(3747.0,710.3) rotate(7)"/><use href="#ar" transform="translate(3789.4,710.3) rotate(9)"/><use href="#ar" transform="translate(3831.9,710.3) rotate(4)"/><use href="#ar" transform="translate(3874.4,710.3) rotate(1)"/><use href="#ar" transform="translate(3916.8,710.3) rotate(-1)"/><use href="#ar" transform="translate(3959.3,710.3) rotate(-4)"/><use href="#ar" transform="translate(4001.8,710.3) rotate(-9)"/><use href="#ar" transform="translate(4044.2,710.3) rotate(-10)"/><use href="#ar" transform="translate(3747.0,774.0) rotate(4)"/><use href="#ar" transform="translate(3789.4,774.0) rotate(6)"/><use href="#ar" transform="translate(3831.9,774.0) rotate(3)"/><use href="#ar" transform="translate(3874.4,774.0) rotate(1)"/><use href="#ar" transform="translate(3916.8,774.0) rotate(-1)"/><use href="#ar" transform="translate(3959.3,774.0) rotate(-3)"/><use href="#ar" transform="translate(4001.8,774.0) rotate(-6)"/><use href="#ar" transform="translate(4044.2,774.0) rotate(-5)"/><use href="#ar" transform="translate(3747.0,837.7) rotate(4)"/><use href="#ar" transform="translate(3789.4,837.7) rotate(6)"/><use href="#ar" transform="translate(3831.9,837.7) rotate(3)"/><use href="#ar" transform="translate(3874.4,837.7) rotate(1)"/><use href="#ar" transform="translate(3916.8,837.7) rotate(-1)"/><use href="#ar" transform="translate(3959.3,837.7) rotate(-3)"/><use href="#ar" transform="translate(4001.8,837.7) rotate(-6)"/><use href="#ar" transform="translate(4044.2,837.7) rotate(-5)"/>
<text transform="translate(3738.2,816.4)" x="-2.7" y="0" font-size="43.3" font-weight="bold" fill="#fff" textLength="50.5" lengthAdjust="spacingAndGlyphs" >(i)</text>
</g>
<path d="M3725.2,94.5 h-14.6 M3725.2,200.7 h-14.6 M3725.2,306.9 h-14.6 M3725.2,413.0 h-14.6 M3725.2,519.2 h-14.6 M3725.2,625.4 h-14.6 M3725.2,731.6 h-14.6 M3725.2,837.7 h-14.6 M3730.0,839.9 v14.6 M3899.8,839.9 v14.6 M4069.7,839.9 v14.6 " stroke="#000" stroke-width="3.33" fill="none"/>
<rect x="3725.2" y="92.4" width="349.3" height="747.5" fill="none" stroke="#000" stroke-width="3.33"/>
<g clip-path="url(#cp_j)">
<rect x="352.7" y="940.3" width="349.3" height="1066.0" fill="#e5e5e5" />
<g clip-path="url(#j_c)">
<path d="M349.0,961.5 L349.0,1556.1 L378.7,1556.1 L378.7,1560.4 L404.2,1560.4 L404.2,1547.6 L412.7,1547.6 L412.7,1594.3 L421.2,1594.3 L421.2,1653.8 L429.7,1653.8 L429.7,1670.8 L438.2,1670.8 L438.2,1679.3 L527.4,1679.3 L527.4,1679.3 L616.5,1679.3 L616.5,1670.8 L625.0,1670.8 L625.0,1653.8 L633.5,1653.8 L633.5,1594.3 L642.0,1594.3 L642.0,1547.6 L650.5,1547.6 L650.5,1560.4 L676.0,1560.4 L676.0,1556.1 L705.7,1556.1 L705.7,961.5 Z" fill="url(#j_v)" stroke="none" stroke-width="0.00" />
<path d="M349.0,1430.8 L476.4,1430.8 L433.9,1486.0 L412.7,1515.8 L408.4,1568.9 L349.0,1568.9 Z" fill="url(#j_s)" stroke="none" stroke-width="0.00" filter="url(#b8)"/>
<path d="M705.7,1430.8 L578.3,1430.8 L620.8,1486.0 L642.0,1515.8 L646.3,1568.9 L705.7,1568.9 Z" fill="url(#j_s)" stroke="none" stroke-width="0.00" filter="url(#b8)"/>
</g>
<rect x="387.2" y="1284.3" width="8.5" height="165.6" fill="#e5e5e5" />
<rect x="659.0" y="1305.5" width="8.5" height="140.2" fill="#e5e5e5" />
<rect x="667.5" y="1267.3" width="8.5" height="17.0" fill="#e5e5e5" />
<rect x="395.7" y="1479.7" width="8.5" height="82.8" fill="#e5e5e5" />
<rect x="387.2" y="1479.7" width="8.5" height="4.2" fill="#e5e5e5" />
<rect x="650.5" y="1475.4" width="8.5" height="87.1" fill="#e5e5e5" />
<rect x="349.0" y="938.2" width="356.7" height="23.4" fill="#969696" />
<rect x="352.7" y="940.3" width="349.3" height="1066.0" fill="url(#gl_j)" />
<path d="M414.8,963.9 C413.8,973.9 409.3,1004.3 408.9,1024.2 C408.4,1044.0 411.7,1073.2 412.3,1083.0" fill="none" stroke="#000" stroke-width="8.33" stroke-linejoin="round"/>
<path d="M385.9,1283.0 L387.2,1236.1 L381.3,1200.9 L385.9,1165.4 L392.3,1108.9 L397.4,1154.8 L399.9,1174.9 L411.0,1177.1 L401.6,1190.9" fill="none" stroke="#000" stroke-width="8.33" stroke-linejoin="round"/>
<path d="M395.7,1235.5 L395.7,1283.0" fill="none" stroke="#000" stroke-width="8.33" stroke-linejoin="round"/>
<path d="M424.1,1285.4 C422.7,1288.9 419.5,1300.3 415.7,1306.6 C411.8,1312.9 403.3,1320.4 400.8,1323.2" fill="none" stroke="#000" stroke-width="8.33" stroke-linejoin="round"/>
<path d="M357.5,1339.1 C359.3,1338.7 364.8,1339.7 368.5,1337.0 C372.2,1334.2 377.1,1328.1 379.6,1322.5 C382.0,1316.9 382.4,1306.6 383.0,1303.4" fill="none" stroke="#000" stroke-width="8.33" stroke-linejoin="round"/>
<path d="M639.5,963.7 C639.9,977.8 641.6,1028.3 642.0,1048.6 C642.4,1068.9 641.3,1072.1 642.0,1085.3 C642.7,1098.5 644.4,1117.1 646.3,1127.8 C648.1,1138.5 651.9,1145.9 653.1,1149.5" fill="none" stroke="#000" stroke-width="8.33" stroke-linejoin="round"/>
<path d="M648.8,1139.9 L654.8,1151.6 L660.3,1137.8" fill="none" stroke="#000" stroke-width="8.33" stroke-linejoin="round"/>
<path d="M672.6,1151.2 L677.3,1170.1 L683.2,1186.6 L677.3,1221.9 L673.9,1266.7" fill="none" stroke="#000" stroke-width="8.33" stroke-linejoin="round"/>
<path d="M665.4,1269.0 C663.4,1271.4 656.2,1276.8 653.5,1283.0 C650.7,1289.3 648.6,1299.9 648.8,1306.6 C649.0,1313.3 653.8,1320.4 654.8,1323.2" fill="none" stroke="#000" stroke-width="8.33" stroke-linejoin="round"/>
<path d="M686.6,1280.7 C684.5,1284.2 674.9,1293.7 673.9,1301.9 C672.8,1310.2 676.3,1323.7 680.2,1330.2 C684.1,1336.6 694.4,1338.8 697.2,1340.6" fill="none" stroke="#000" stroke-width="8.33" stroke-linejoin="round"/>
<text transform="translate(431.6,1132.5) rotate(-85.0)" x="-42.3" y="0" font-size="39.0" font-weight="normal" fill="#000" textLength="84.3" lengthAdjust="spacingAndGlyphs" >-100</text>
<text transform="translate(407.7,1249.4) rotate(60.0)" x="-42.3" y="0" font-size="39.0" font-weight="normal" fill="#000" textLength="84.3" lengthAdjust="spacingAndGlyphs" >-100</text>
<text transform="translate(659.3,1113.7) rotate(52.0)" x="-42.3" y="0" font-size="39.0" font-weight="normal" fill="#000" textLength="84.3" lengthAdjust="spacingAndGlyphs" >-100</text>
<text transform="translate(654.2,1246.4) rotate(-75.0)" x="-42.3" y="0" font-size="39.0" font-weight="normal" fill="#000" textLength="84.3" lengthAdjust="spacingAndGlyphs" >-100</text>
<path d="M408.9,1496.0 C413.2,1493.0 422.6,1483.9 434.8,1478.2 C446.9,1472.5 466.2,1465.4 481.9,1461.8 C497.6,1458.3 513.2,1456.7 528.8,1456.9 C544.5,1457.2 560.1,1459.4 575.8,1463.1 C591.4,1466.8 610.7,1473.8 622.9,1479.2 C635.1,1484.7 644.5,1493.2 648.8,1496.0" fill="none" stroke="#000" stroke-width="4.17" stroke-dasharray="15.4,6.7"/>
<path d="M393.6,1477.5 C395.0,1477.9 400.0,1478.3 402.1,1479.7 C404.1,1481.1 405.2,1485.0 405.9,1486.0" fill="none" stroke="#000" stroke-width="4.17" stroke-dasharray="15.4,6.7"/>
<path d="M649.7,1481.8 L653.9,1472.2 L658.2,1481.8" fill="none" stroke="#000" stroke-width="4.17" stroke-dasharray="15.4,6.7"/>
<path d="M418.2,1562.9 C423.3,1561.2 438.6,1555.4 448.8,1552.7 C459.0,1550.0 474.3,1547.6 479.4,1546.6" fill="none" stroke="#000" stroke-width="8.33" stroke-linejoin="round"/>
<path d="M575.8,1546.6 C581.3,1547.7 598.6,1550.8 608.9,1553.6 C619.2,1556.3 633.0,1561.4 637.8,1562.9" fill="none" stroke="#000" stroke-width="8.33" stroke-linejoin="round"/>
<path d="M426.7,1610.1 C431.9,1609.1 441.1,1605.5 458.1,1604.3 C475.1,1603.1 505.3,1602.8 528.8,1602.8 C552.4,1602.8 583.0,1603.3 599.5,1604.3 C616.1,1605.4 623.6,1608.4 628.4,1609.2" fill="none" stroke="#000" stroke-width="4.17" stroke-dasharray="15.4,6.7"/>
<path d="M426.7,1645.3 C430.4,1644.5 440.0,1641.0 448.8,1640.6 C457.6,1640.3 474.3,1642.8 479.4,1643.2" fill="none" stroke="#000" stroke-width="8.33" stroke-linejoin="round"/>
<path d="M575.8,1643.2 C581.3,1642.8 600.1,1640.1 608.9,1640.6 C617.7,1641.2 625.2,1645.4 628.4,1646.4" fill="none" stroke="#000" stroke-width="8.33" stroke-linejoin="round"/>
<text transform="translate(528.8,1553.0)" x="-42.3" y="0" font-size="39.0" font-weight="normal" fill="#000" textLength="84.3" lengthAdjust="spacingAndGlyphs" >-200</text>
<text transform="translate(528.8,1654.7)" x="-42.3" y="0" font-size="39.0" font-weight="normal" fill="#000" textLength="84.3" lengthAdjust="spacingAndGlyphs" >-300</text>
<text transform="translate(365.7,1982.8)" x="-2.7" y="0" font-size="43.3" font-weight="bold" fill="#000" textLength="50.5" lengthAdjust="spacingAndGlyphs" >(j)</text>
</g>
<path d="M352.7,942.4 h-14.6 M352.7,1048.6 h-14.6 M352.7,1154.8 h-14.6 M352.7,1260.9 h-14.6 M352.7,1367.1 h-14.6 M352.7,1473.3 h-14.6 M352.7,1579.5 h-14.6 M352.7,1685.6 h-14.6 M352.7,1791.8 h-14.6 M352.7,1898.0 h-14.6 M352.7,2004.2 h-14.6 M357.5,2006.3 v14.6 M527.4,2006.3 v14.6 M697.2,2006.3 v14.6 " stroke="#000" stroke-width="3.33" fill="none"/>
<rect x="352.7" y="940.3" width="349.3" height="1066.0" fill="none" stroke="#000" stroke-width="3.33"/>
<text transform="translate(323.5,958.9)" x="-77.3" y="0" font-size="43.3" font-weight="normal" fill="#000" textLength="77.9" lengthAdjust="spacingAndGlyphs" >250</text>
<text transform="translate(323.5,1065.1)" x="-77.3" y="0" font-size="43.3" font-weight="normal" fill="#000" textLength="77.9" lengthAdjust="spacingAndGlyphs" >200</text>
<text transform="translate(323.5,1171.3)" x="-77.0" y="0" font-size="43.3" font-weight="normal" fill="#000" textLength="77.6" lengthAdjust="spacingAndGlyphs" >150</text>
<text transform="translate(323.5,1277.4)" x="-77.0" y="0" font-size="43.3" font-weight="normal" fill="#000" textLength="77.6" lengthAdjust="spacingAndGlyphs" >100</text>
<text transform="translate(323.5,1383.6)" x="-50.1" y="0" font-size="43.3" font-weight="normal" fill="#000" textLength="50.6" lengthAdjust="spacingAndGlyphs" >50</text>
<text transform="translate(323.5,1489.8)" x="-24.0" y="0" font-size="43.3" font-weight="normal" fill="#000" textLength="24.4" lengthAdjust="spacingAndGlyphs" >0</text>
<text transform="translate(323.5,1596.0)" x="-84.5" y="0" font-size="43.3" font-weight="normal" fill="#000" textLength="85.2" lengthAdjust="spacingAndGlyphs" >−50</text>
<text transform="translate(323.5,1702.1)" x="-111.0" y="0" font-size="43.3" font-weight="normal" fill="#000" textLength="111.7" lengthAdjust="spacingAndGlyphs" >−100</text>
<text transform="translate(323.5,1808.3)" x="-111.0" y="0" font-size="43.3" font-weight="normal" fill="#000" textLength="111.7" lengthAdjust="spacingAndGlyphs" >−150</text>
<text transform="translate(323.5,1914.5)" x="-111.0" y="0" font-size="43.3" font-weight="normal" fill="#000" textLength="111.7" lengthAdjust="spacingAndGlyphs" >−200</text>
<text transform="translate(323.5,2020.7)" x="-111.0" y="0" font-size="43.3" font-weight="normal" fill="#000" textLength="111.7" lengthAdjust="spacingAndGlyphs" >−250</text>
<text transform="translate(368.2,2081.5) rotate(-45.0)" x="-33.7" y="0" font-size="43.3" font-weight="normal" fill="#000" textLength="67.1" lengthAdjust="spacingAndGlyphs" >-40</text>
<text transform="translate(538.1,2068.5) rotate(-45.0)" x="-12.2" y="0" font-size="43.3" font-weight="normal" fill="#000" textLength="24.4" lengthAdjust="spacingAndGlyphs" >0</text>
<text transform="translate(708.0,2077.0) rotate(-45.0)" x="-25.2" y="0" font-size="43.3" font-weight="normal" fill="#000" textLength="51.1" lengthAdjust="spacingAndGlyphs" >40</text>
<text transform="translate(527.4,2174.5)" x="-68.2" y="0" font-size="60.7" font-weight="normal" fill="#000" textLength="136.4" lengthAdjust="spacingAndGlyphs" >[km]</text>
<g clip-path="url(#cp_k)">
<rect x="745.8" y="940.3" width="349.3" height="1066.0" fill="#e8e8e8" />
<rect x="745.8" y="940.3" width="349.3" height="1066.0" fill="url(#gd_k)" />
<g clip-path="url(#k_c)">
<path d="M742.1,961.5 L742.1,1556.1 L771.8,1556.1 L771.8,1560.4 L797.3,1560.4 L797.3,1547.6 L805.8,1547.6 L805.8,1594.3 L814.3,1594.3 L814.3,1653.8 L822.8,1653.8 L822.8,1670.8 L831.3,1670.8 L831.3,1679.3 L920.4,1679.3 L920.4,1679.3 L1009.6,1679.3 L1009.6,1670.8 L1018.1,1670.8 L1018.1,1653.8 L1026.6,1653.8 L1026.6,1594.3 L1035.1,1594.3 L1035.1,1547.6 L1043.6,1547.6 L1043.6,1560.4 L1069.1,1560.4 L1069.1,1556.1 L1098.8,1556.1 L1098.8,961.5 Z" fill="url(#k_v)" stroke="none" stroke-width="0.00" />
<path d="M742.1,1303.4 L793.0,1303.4 L814.3,1430.8 L805.8,1568.9 L742.1,1568.9 Z" fill="url(#k_s)" stroke="none" stroke-width="0.00" filter="url(#b14)"/>
<path d="M1098.8,1303.4 L1047.9,1303.4 L1026.6,1430.8 L1035.1,1568.9 L1098.8,1568.9 Z" fill="url(#k_s)" stroke="none" stroke-width="0.00" filter="url(#b14)"/>
<rect x="745.8" y="940.3" width="349.3" height="1066.0" fill="url(#gl_k)" />
</g>
<rect x="780.3" y="1284.3" width="8.5" height="165.6" fill="#e8e8e8" />
<rect x="1052.1" y="1305.5" width="8.5" height="140.2" fill="#e8e8e8" />
<rect x="1060.6" y="1267.3" width="8.5" height="17.0" fill="#e8e8e8" />
<rect x="788.8" y="1479.7" width="8.5" height="82.8" fill="#e8e8e8" />
<rect x="780.3" y="1479.7" width="8.5" height="4.2" fill="#e8e8e8" />
<rect x="1043.6" y="1475.4" width="8.5" height="87.1" fill="#e8e8e8" />
<rect x="742.1" y="938.2" width="356.7" height="23.4" fill="#969696" />
<rect x="742.1" y="938.2" width="356.7" height="23.4" fill="url(#gl_k)" />
<text transform="translate(758.8,1982.8)" x="-2.6" y="0" font-size="43.3" font-weight="bold" fill="#000" textLength="63.8" lengthAdjust="spacingAndGlyphs" >(k)</text>
<text transform="translate(1082.8,1952.0)" x="-223.7" y="0" font-size="47.7" font-weight="normal" fill="#000" textLength="223.2" lengthAdjust="spacingAndGlyphs" >9.30 m/yr</text>
<text transform="translate(1082.8,1993.8)" x="-261.0" y="0" font-size="47.7" font-weight="normal" fill="#000" textLength="260.5" lengthAdjust="spacingAndGlyphs" >19.13 Gt/yr</text>
</g>
<path d="M745.8,1048.6 h-14.6 M745.8,1260.9 h-14.6 M745.8,1473.3 h-14.6 M745.8,1685.6 h-14.6 M745.8,1898.0 h-14.6 M750.6,2006.3 v14.6 M920.4,2006.3 v14.6 M1090.3,2006.3 v14.6 " stroke="#000" stroke-width="3.33" fill="none"/>
<rect x="745.8" y="940.3" width="349.3" height="1066.0" fill="none" stroke="#000" stroke-width="3.33"/>
<text transform="translate(761.3,2081.5) rotate(-45.0)" x="-33.7" y="0" font-size="43.3" font-weight="normal" fill="#000" textLength="67.1" lengthAdjust="spacingAndGlyphs" >-40</text>
<text transform="translate(931.2,2068.5) rotate(-45.0)" x="-12.2" y="0" font-size="43.3" font-weight="normal" fill="#000" textLength="24.4" lengthAdjust="spacingAndGlyphs" >0</text>
<text transform="translate(1101.1,2077.0) rotate(-45.0)" x="-25.2" y="0" font-size="43.3" font-weight="normal" fill="#000" textLength="51.1" lengthAdjust="spacingAndGlyphs" >40</text>
<text transform="translate(920.4,2174.5)" x="-68.2" y="0" font-size="60.7" font-weight="normal" fill="#000" textLength="136.4" lengthAdjust="spacingAndGlyphs" >[km]</text>
<g clip-path="url(#cp_l)">
<rect x="1138.9" y="940.3" width="349.3" height="1066.0" fill="url(#l_sd)" />
<path d="M1211.6,1643.2 L1415.5,1643.2 L1466.4,2065.8 L1160.7,2065.8 Z" fill="url(#l_sw)" stroke="none" stroke-width="0.00" filter="url(#b25)"/>
<path d="M1228.6,1668.7 L1398.5,1668.7 L1415.5,2023.3 L1211.6,2023.3 Z" fill="url(#l_st)" stroke="none" stroke-width="0.00" filter="url(#b14)"/>
<g clip-path="url(#l_c)">
<path d="M1135.2,961.5 L1135.2,1556.1 L1164.9,1556.1 L1164.9,1560.4 L1190.4,1560.4 L1190.4,1547.6 L1198.9,1547.6 L1198.9,1594.3 L1207.4,1594.3 L1207.4,1653.8 L1215.9,1653.8 L1215.9,1670.8 L1224.4,1670.8 L1224.4,1679.3 L1313.5,1679.3 L1313.5,1679.3 L1402.7,1679.3 L1402.7,1670.8 L1411.2,1670.8 L1411.2,1653.8 L1419.7,1653.8 L1419.7,1594.3 L1428.2,1594.3 L1428.2,1547.6 L1436.7,1547.6 L1436.7,1560.4 L1462.2,1560.4 L1462.2,1556.1 L1491.9,1556.1 L1491.9,961.5 Z" fill="url(#l_sh)" stroke="none" stroke-width="0.00" />
<path d="M1135.2,1556.1 L1164.9,1556.1 L1164.9,1560.4 L1190.4,1560.4 L1190.4,1547.6 L1198.9,1547.6 L1198.9,1594.3 L1207.4,1594.3 L1207.4,1653.8 L1215.9,1653.8 L1215.9,1664.4" fill="none" stroke="#4454c3" stroke-width="44.00" filter="url(#b8)" stroke-linejoin="round"/>
<path d="M1135.2,1556.1 L1164.9,1556.1 L1164.9,1560.4 L1190.4,1560.4 L1190.4,1547.6 L1198.9,1547.6 L1198.9,1594.3 L1207.4,1594.3 L1207.4,1653.8 L1215.9,1653.8 L1215.9,1664.4" fill="none" stroke="#3c3286" stroke-width="16.00" filter="url(#b8)" stroke-linejoin="round"/>
<path d="M1411.2,1664.4 L1411.2,1653.8 L1419.7,1653.8 L1419.7,1594.3 L1428.2,1594.3 L1428.2,1547.6 L1436.7,1547.6 L1436.7,1560.4 L1462.2,1560.4 L1462.2,1556.1 L1491.9,1556.1" fill="none" stroke="#4454c3" stroke-width="44.00" filter="url(#b8)" stroke-linejoin="round"/>
<path d="M1411.2,1664.4 L1411.2,1653.8 L1419.7,1653.8 L1419.7,1594.3 L1428.2,1594.3 L1428.2,1547.6 L1436.7,1547.6 L1436.7,1560.4 L1462.2,1560.4 L1462.2,1556.1 L1491.9,1556.1" fill="none" stroke="#3c3286" stroke-width="16.00" filter="url(#b8)" stroke-linejoin="round"/>
</g>
<path d="M1135.2,1556.1H1164.9V1560.4H1135.2ZM1156.4,1556.1H1164.9V1564.6H1156.4ZM1164.9,1560.4H1190.4V1564.6H1164.9ZM1190.4,1547.6H1198.9V1564.6H1190.4ZM1190.4,1547.6H1198.9V1551.9H1190.4ZM1190.4,1547.6H1198.9V1598.6H1190.4ZM1198.9,1594.3H1207.4V1598.6H1198.9ZM1198.9,1594.3H1207.4V1658.0H1198.9ZM1207.4,1653.8H1215.9V1658.0H1207.4ZM1207.4,1653.8H1215.9V1675.0H1207.4ZM1215.9,1670.8H1224.4V1675.0H1215.9ZM1215.9,1670.8H1224.4V1683.5H1215.9ZM1224.4,1679.3H1313.5V1683.5H1224.4ZM1313.5,1679.3H1402.7V1683.5H1313.5ZM1402.7,1670.8H1411.2V1683.5H1402.7ZM1402.7,1670.8H1411.2V1675.0H1402.7ZM1411.2,1653.8H1419.7V1675.0H1411.2ZM1411.2,1653.8H1419.7V1658.0H1411.2ZM1419.7,1594.3H1428.2V1658.0H1419.7ZM1419.7,1594.3H1428.2V1598.6H1419.7ZM1428.2,1547.6H1436.7V1598.6H1428.2ZM1428.2,1547.6H1436.7V1551.9H1428.2ZM1428.2,1547.6H1436.7V1564.6H1428.2ZM1436.7,1560.4H1462.2V1564.6H1436.7ZM1462.2,1556.1H1470.7V1564.6H1462.2ZM1462.2,1556.1H1491.9V1560.4H1462.2Z" fill="#f3f8f1" stroke="none" stroke-width="0.00" />
<rect x="1135.2" y="938.2" width="356.7" height="23.4" fill="#969696" />
<rect x="1138.9" y="940.3" width="349.3" height="1066.0" fill="url(#gl_l)" />
<g clip-path="url(#l_c)">
<path d="M1135.2,1176.0 L1169.2,1176.0 L1190.4,1345.9 L1194.6,1568.9 L1135.2,1568.9 Z" fill="url(#l_sp)" stroke="none" stroke-width="0.00" filter="url(#b14)"/>
<path d="M1491.9,1176.0 L1457.9,1176.0 L1436.7,1345.9 L1432.5,1568.9 L1491.9,1568.9 Z" fill="url(#l_sp)" stroke="none" stroke-width="0.00" filter="url(#b14)"/>
</g>
<path d="M1135.2,1556.1H1164.9V1560.4H1135.2ZM1156.4,1556.1H1164.9V1564.6H1156.4ZM1164.9,1560.4H1190.4V1564.6H1164.9ZM1190.4,1547.6H1198.9V1564.6H1190.4ZM1190.4,1547.6H1198.9V1551.9H1190.4ZM1190.4,1547.6H1198.9V1598.6H1190.4ZM1198.9,1594.3H1207.4V1598.6H1198.9ZM1198.9,1594.3H1207.4V1658.0H1198.9ZM1207.4,1653.8H1215.9V1658.0H1207.4ZM1207.4,1653.8H1215.9V1675.0H1207.4ZM1215.9,1670.8H1224.4V1675.0H1215.9ZM1215.9,1670.8H1224.4V1683.5H1215.9ZM1224.4,1679.3H1313.5V1683.5H1224.4ZM1313.5,1679.3H1402.7V1683.5H1313.5ZM1402.7,1670.8H1411.2V1683.5H1402.7ZM1402.7,1670.8H1411.2V1675.0H1402.7ZM1411.2,1653.8H1419.7V1675.0H1411.2ZM1411.2,1653.8H1419.7V1658.0H1411.2ZM1419.7,1594.3H1428.2V1658.0H1419.7ZM1419.7,1594.3H1428.2V1598.6H1419.7ZM1428.2,1547.6H1436.7V1598.6H1428.2ZM1428.2,1547.6H1436.7V1551.9H1428.2ZM1428.2,1547.6H1436.7V1564.6H1428.2ZM1436.7,1560.4H1462.2V1564.6H1436.7ZM1462.2,1556.1H1470.7V1564.6H1462.2ZM1462.2,1556.1H1491.9V1560.4H1462.2Z" fill="#f3f8f1" stroke="none" stroke-width="0.00" />
<rect x="1173.4" y="1284.3" width="8.5" height="165.6" fill="#f3f8f1" />
<rect x="1445.2" y="1305.5" width="8.5" height="140.2" fill="#f3f8f1" />
<rect x="1453.7" y="1267.3" width="8.5" height="17.0" fill="#f3f8f1" />
<rect x="1181.9" y="1479.7" width="8.5" height="82.8" fill="#f3f8f1" />
<rect x="1173.4" y="1479.7" width="8.5" height="4.2" fill="#f3f8f1" />
<rect x="1436.7" y="1475.4" width="8.5" height="87.1" fill="#f3f8f1" />
<rect x="1164.9" y="1441.4" width="8.5" height="8.5" fill="#f3f8f1" />
<rect x="1453.7" y="1437.2" width="8.5" height="8.5" fill="#f3f8f1" />
<rect x="1173.4" y="1449.9" width="8.5" height="4.2" fill="#f3f8f1" />
<rect x="1138.9" y="940.3" width="349.3" height="1066.0" fill="url(#gl_l)" />
<use href="#ar" transform="translate(1160.7,984.9) rotate(0)"/><use href="#ar" transform="translate(1203.1,984.9) rotate(0)"/><use href="#ar" transform="translate(1245.6,984.9) rotate(0)"/><use href="#ar" transform="translate(1288.1,984.9) rotate(0)"/><use href="#ar" transform="translate(1330.5,984.9) rotate(0)"/><use href="#ar" transform="translate(1373.0,984.9) rotate(0)"/><use href="#ar" transform="translate(1415.5,984.9) rotate(0)"/><use href="#ar" transform="translate(1457.9,984.9) rotate(0)"/><use href="#ar" transform="translate(1160.7,1048.6) rotate(0)"/><use href="#ar" transform="translate(1203.1,1048.6) rotate(0)"/><use href="#ar" transform="translate(1245.6,1048.6) rotate(0)"/><use href="#ar" transform="translate(1288.1,1048.6) rotate(0)"/><use href="#ar" transform="translate(1330.5,1048.6) rotate(0)"/><use href="#ar" transform="translate(1373.0,1048.6) rotate(0)"/><use href="#ar" transform="translate(1415.5,1048.6) rotate(0)"/><use href="#ar" transform="translate(1457.9,1048.6) rotate(0)"/><use href="#ar" transform="translate(1160.7,1112.3) rotate(0)"/><use href="#ar" transform="translate(1203.1,1112.3) rotate(0)"/><use href="#ar" transform="translate(1245.6,1112.3) rotate(0)"/><use href="#ar" transform="translate(1288.1,1112.3) rotate(0)"/><use href="#ar" transform="translate(1330.5,1112.3) rotate(0)"/><use href="#ar" transform="translate(1373.0,1112.3) rotate(0)"/><use href="#ar" transform="translate(1415.5,1112.3) rotate(0)"/><use href="#ar" transform="translate(1457.9,1112.3) rotate(0)"/><use href="#ar" transform="translate(1160.7,1176.0) rotate(0)"/><use href="#ar" transform="translate(1203.1,1176.0) rotate(0)"/><use href="#ar" transform="translate(1245.6,1176.0) rotate(0)"/><use href="#ar" transform="translate(1288.1,1176.0) rotate(0)"/><use href="#ar" transform="translate(1330.5,1176.0) rotate(0)"/><use href="#ar" transform="translate(1373.0,1176.0) rotate(0)"/><use href="#ar" transform="translate(1415.5,1176.0) rotate(0)"/><use href="#ar" transform="translate(1457.9,1176.0) rotate(0)"/><use href="#ar" transform="translate(1160.7,1239.7) rotate(0)"/><use href="#ar" transform="translate(1203.1,1239.7) rotate(0)"/><use href="#ar" transform="translate(1245.6,1239.7) rotate(0)"/><use href="#ar" transform="translate(1288.1,1239.7) rotate(0)"/><use href="#ar" transform="translate(1330.5,1239.7) rotate(0)"/><use href="#ar" transform="translate(1373.0,1239.7) rotate(0)"/><use href="#ar" transform="translate(1415.5,1239.7) rotate(0)"/><use href="#ar" transform="translate(1457.9,1239.7) rotate(0)"/><use href="#ar" transform="translate(1160.7,1303.4) rotate(0)"/><use href="#ar" transform="translate(1203.1,1303.4) rotate(0)"/><use href="#ar" transform="translate(1245.6,1303.4) rotate(0)"/><use href="#ar" transform="translate(1288.1,1303.4) rotate(0)"/><use href="#ar" transform="translate(1330.5,1303.4) rotate(0)"/><use href="#ar" transform="translate(1373.0,1303.4) rotate(0)"/><use href="#ar" transform="translate(1415.5,1303.4) rotate(0)"/><use href="#ar" transform="translate(1457.9,1303.4) rotate(0)"/><use href="#ar" transform="translate(1160.7,1367.1) rotate(0)"/><use href="#ar" transform="translate(1203.1,1367.1) rotate(0)"/><use href="#ar" transform="translate(1245.6,1367.1) rotate(0)"/><use href="#ar" transform="translate(1288.1,1367.1) rotate(0)"/><use href="#ar" transform="translate(1330.5,1367.1) rotate(0)"/><use href="#ar" transform="translate(1373.0,1367.1) rotate(0)"/><use href="#ar" transform="translate(1415.5,1367.1) rotate(0)"/><use href="#ar" transform="translate(1457.9,1367.1) rotate(0)"/><use href="#ar" transform="translate(1160.7,1430.8) rotate(0)"/><use href="#ar" transform="translate(1203.1,1430.8) rotate(0)"/><use href="#ar" transform="translate(1245.6,1430.8) rotate(0)"/><use href="#ar" transform="translate(1288.1,1430.8) rotate(0)"/><use href="#ar" transform="translate(1330.5,1430.8) rotate(0)"/><use href="#ar" transform="translate(1373.0,1430.8) rotate(0)"/><use href="#ar" transform="translate(1415.5,1430.8) rotate(0)"/><use href="#ar" transform="translate(1457.9,1430.8) rotate(0)"/><use href="#ar" transform="translate(1160.7,1494.5) rotate(-6)"/><use href="#ar" transform="translate(1203.1,1494.5) rotate(-8)"/><use href="#ar" transform="translate(1245.6,1494.5) rotate(-5)"/><use href="#ar" transform="translate(1288.1,1494.5) rotate(0)"/><use href="#ar" transform="translate(1330.5,1494.5) rotate(0)"/><use href="#ar" transform="translate(1373.0,1494.5) rotate(6)"/><use href="#ar" transform="translate(1415.5,1494.5) rotate(9)"/><use href="#ar" transform="translate(1457.9,1494.5) rotate(11)"/><use href="#ar" transform="translate(1160.7,1558.2) rotate(9)"/><use href="#ar" transform="translate(1203.1,1558.2) rotate(-6)"/><use href="#ar" transform="translate(1245.6,1558.2) rotate(-5)"/><use href="#ar" transform="translate(1288.1,1558.2) rotate(0)"/><use href="#ar" transform="translate(1330.5,1558.2) rotate(0)"/><use href="#ar" transform="translate(1373.0,1558.2) rotate(5)"/><use href="#ar" transform="translate(1415.5,1558.2) rotate(11)"/><use href="#ar" transform="translate(1457.9,1558.2) rotate(-2)"/><use href="#ar" transform="translate(1160.7,1621.9) rotate(79)"/><use href="#ar" transform="translate(1203.1,1621.9) rotate(28)"/><use href="#ar" transform="translate(1245.6,1621.9) rotate(-1)"/><use href="#ar" transform="translate(1288.1,1621.9) rotate(0)"/><use href="#ar" transform="translate(1330.5,1621.9) rotate(0)"/><use href="#ar" transform="translate(1373.0,1621.9) rotate(0)"/><use href="#ar" transform="translate(1415.5,1621.9) rotate(-8)"/><use href="#ar" transform="translate(1457.9,1621.9) rotate(-80)"/><use href="#ar" transform="translate(1160.7,1685.6) rotate(42)"/><use href="#ar" transform="translate(1203.1,1685.6) rotate(29)"/><use href="#ar" transform="translate(1245.6,1685.6) rotate(3)"/><use href="#ar" transform="translate(1288.1,1685.6) rotate(1)"/><use href="#ar" transform="translate(1330.5,1685.6) rotate(-1)"/><use href="#ar" transform="translate(1373.0,1685.6) rotate(-4)"/><use href="#ar" transform="translate(1415.5,1685.6) rotate(-20)"/><use href="#ar" transform="translate(1457.9,1685.6) rotate(-48)"/><use href="#ar" transform="translate(1160.7,1749.4) rotate(11)"/><use href="#ar" transform="translate(1203.1,1749.4) rotate(13)"/><use href="#ar" transform="translate(1245.6,1749.4) rotate(4)"/><use href="#ar" transform="translate(1288.1,1749.4) rotate(1)"/><use href="#ar" transform="translate(1330.5,1749.4) rotate(-1)"/><use href="#ar" transform="translate(1373.0,1749.4) rotate(-4)"/><use href="#ar" transform="translate(1415.5,1749.4) rotate(-10)"/><use href="#ar" transform="translate(1457.9,1749.4) rotate(-16)"/><use href="#ar" transform="translate(1160.7,1813.1) rotate(5)"/><use href="#ar" transform="translate(1203.1,1813.1) rotate(8)"/><use href="#ar" transform="translate(1245.6,1813.1) rotate(3)"/><use href="#ar" transform="translate(1288.1,1813.1) rotate(1)"/><use href="#ar" transform="translate(1330.5,1813.1) rotate(-1)"/><use href="#ar" transform="translate(1373.0,1813.1) rotate(-3)"/><use href="#ar" transform="translate(1415.5,1813.1) rotate(-7)"/><use href="#ar" transform="translate(1457.9,1813.1) rotate(-8)"/><use href="#ar" transform="translate(1160.7,1876.8) rotate(3)"/><use href="#ar" transform="translate(1203.1,1876.8) rotate(5)"/><use href="#ar" transform="translate(1245.6,1876.8) rotate(2)"/><use href="#ar" transform="translate(1288.1,1876.8) rotate(1)"/><use href="#ar" transform="translate(1330.5,1876.8) rotate(-1)"/><use href="#ar" transform="translate(1373.0,1876.8) rotate(-2)"/><use href="#ar" transform="translate(1415.5,1876.8) rotate(-5)"/><use href="#ar" transform="translate(1457.9,1876.8) rotate(-5)"/><use href="#ar" transform="translate(1160.7,1940.5) rotate(3)"/><use href="#ar" transform="translate(1203.1,1940.5) rotate(5)"/><use href="#ar" transform="translate(1245.6,1940.5) rotate(2)"/><use href="#ar" transform="translate(1288.1,1940.5) rotate(1)"/><use href="#ar" transform="translate(1330.5,1940.5) rotate(-1)"/><use href="#ar" transform="translate(1373.0,1940.5) rotate(-2)"/><use href="#ar" transform="translate(1415.5,1940.5) rotate(-5)"/><use href="#ar" transform="translate(1457.9,1940.5) rotate(-5)"/><use href="#ar" transform="translate(1160.7,2004.2) rotate(3)"/><use href="#ar" transform="translate(1203.1,2004.2) rotate(5)"/><use href="#ar" transform="translate(1245.6,2004.2) rotate(2)"/><use href="#ar" transform="translate(1288.1,2004.2) rotate(1)"/><use href="#ar" transform="translate(1330.5,2004.2) rotate(-1)"/><use href="#ar" transform="translate(1373.0,2004.2) rotate(-2)"/><use href="#ar" transform="translate(1415.5,2004.2) rotate(-5)"/><use href="#ar" transform="translate(1457.9,2004.2) rotate(-5)"/>
<text transform="translate(1151.9,1982.8)" x="-2.7" y="0" font-size="43.3" font-weight="bold" fill="#fff" textLength="50.5" lengthAdjust="spacingAndGlyphs" >(l)</text>
</g>
<path d="M1138.9,1048.6 h-14.6 M1138.9,1260.9 h-14.6 M1138.9,1473.3 h-14.6 M1138.9,1685.6 h-14.6 M1138.9,1898.0 h-14.6 M1143.7,2006.3 v14.6 M1313.5,2006.3 v14.6 M1483.4,2006.3 v14.6 " stroke="#000" stroke-width="3.33" fill="none"/>
<rect x="1138.9" y="940.3" width="349.3" height="1066.0" fill="none" stroke="#000" stroke-width="3.33"/>
<text transform="translate(1154.4,2081.5) rotate(-45.0)" x="-33.7" y="0" font-size="43.3" font-weight="normal" fill="#000" textLength="67.1" lengthAdjust="spacingAndGlyphs" >-40</text>
<text transform="translate(1324.3,2068.5) rotate(-45.0)" x="-12.2" y="0" font-size="43.3" font-weight="normal" fill="#000" textLength="24.4" lengthAdjust="spacingAndGlyphs" >0</text>
<text transform="translate(1494.2,2077.0) rotate(-45.0)" x="-25.2" y="0" font-size="43.3" font-weight="normal" fill="#000" textLength="51.1" lengthAdjust="spacingAndGlyphs" >40</text>
<text transform="translate(1313.6,2174.5)" x="-68.2" y="0" font-size="60.7" font-weight="normal" fill="#000" textLength="136.4" lengthAdjust="spacingAndGlyphs" >[km]</text>
<g clip-path="url(#cp_m)">
<rect x="1646.2" y="940.3" width="349.3" height="1066.0" fill="#e5e5e5" />
<g clip-path="url(#m_c)">
<path d="M1642.5,961.5 L1642.5,1267.3 L1663.7,1267.3 L1663.7,1275.8 L1680.7,1275.8 L1680.7,1280.1 L1689.2,1280.1 L1689.2,1568.9 L1697.7,1568.9 L1697.7,1598.6 L1706.2,1598.6 L1706.2,1632.6 L1714.7,1632.6 L1714.7,1670.8 L1723.2,1670.8 L1723.2,1696.3 L1731.7,1696.3 L1731.7,1700.5 L1740.2,1700.5 L1740.2,1704.8 L1901.5,1704.8 L1901.5,1700.5 L1910.0,1700.5 L1910.0,1696.3 L1918.5,1696.3 L1918.5,1670.8 L1927.0,1670.8 L1927.0,1632.6 L1935.5,1632.6 L1935.5,1598.6 L1944.0,1598.6 L1944.0,1568.9 L1952.5,1568.9 L1952.5,1267.3 L1969.5,1267.3 L1969.5,1263.1 L1978.0,1263.1 L1978.0,1258.8 L1999.2,1258.8 L1999.2,961.5 Z" fill="url(#m_v)" stroke="none" stroke-width="0.00" />
<rect x="1642.5" y="961.5" width="101.9" height="329.1" fill="url(#m_hl)" />
<rect x="1897.3" y="961.5" width="101.9" height="329.1" fill="url(#m_hr)" />
<g filter="url(#b8)">
<rect x="1642.5" y="989.1" width="46.7" height="301.5" fill="url(#m_y)" />
</g>
<g filter="url(#b8)">
<rect x="1952.5" y="989.1" width="46.7" height="301.5" fill="url(#m_y)" />
</g>
<path d="M1687.1,1267.3 L1727.4,1267.3 L1733.8,1377.7 L1744.4,1441.4 L1742.3,1505.2 L1727.4,1532.8 L1687.1,1571.0 L1687.1,1600.7 Z" fill="url(#m_e)" stroke="none" stroke-width="0.00" filter="url(#b8)"/>
<rect x="1697.7" y="1333.1" width="25.5" height="6.4" fill="#f4fbc7" opacity="0.8"/>
<rect x="1697.7" y="1345.9" width="25.5" height="4.2" fill="#f4fbc7" opacity="0.8"/>
<path d="M1954.6,1267.3 L1914.3,1267.3 L1907.9,1377.7 L1897.3,1441.4 L1899.4,1505.2 L1914.3,1532.8 L1954.6,1571.0 L1954.6,1600.7 Z" fill="url(#m_e)" stroke="none" stroke-width="0.00" filter="url(#b8)"/>
<rect x="1918.5" y="1333.1" width="25.5" height="6.4" fill="#f4fbc7" opacity="0.8"/>
<rect x="1918.5" y="1345.9" width="25.5" height="4.2" fill="#f4fbc7" opacity="0.8"/>
</g>
<rect x="1688.6" y="1288.6" width="9.3" height="106.2" fill="#e5e5e5" />
<rect x="1943.8" y="1271.6" width="9.3" height="123.2" fill="#e5e5e5" />
<rect x="1706.2" y="1275.8" width="8.5" height="157.1" fill="#969696" />
<rect x="1697.7" y="1394.7" width="8.5" height="59.5" fill="#969696" />
<rect x="1927.0" y="1267.3" width="8.5" height="165.6" fill="#969696" />
<rect x="1935.5" y="1394.7" width="8.5" height="59.5" fill="#969696" />
<rect x="1646.7" y="1233.3" width="17.0" height="12.7" fill="#969696" />
<rect x="1978.0" y="1220.6" width="17.0" height="3.2" fill="#969696" />
<rect x="1978.0" y="1229.1" width="17.0" height="3.2" fill="#969696" />
<rect x="1642.5" y="938.2" width="356.7" height="23.4" fill="#969696" />
<rect x="1646.2" y="940.3" width="349.3" height="1066.0" fill="url(#gl_m)" />
<path d="M1692.2,962.8 C1692.6,973.0 1694.3,1008.7 1694.7,1024.2 C1695.1,1039.6 1693.7,1046.4 1694.7,1055.6 C1695.8,1064.8 1700.0,1075.2 1701.1,1079.2" fill="none" stroke="#000" stroke-width="8.33" stroke-linejoin="round"/>
<path d="M1713.4,1171.8 C1714.2,1181.2 1716.2,1211.0 1718.1,1228.2 C1719.9,1245.5 1723.4,1267.4 1724.4,1275.2" fill="none" stroke="#000" stroke-width="8.33" stroke-linejoin="round"/>
<path d="M1947.8,962.8 L1942.7,1024.2 L1940.6,1074.5" fill="none" stroke="#000" stroke-width="8.33" stroke-linejoin="round"/>
<path d="M1932.5,1168.6 L1925.3,1228.2 L1917.7,1262.2 L1927.0,1267.3" fill="none" stroke="#000" stroke-width="8.33" stroke-linejoin="round"/>
<path d="M1725.3,963.7 C1725.4,979.0 1724.9,1024.6 1726.1,1055.6 C1727.3,1086.6 1731.0,1118.3 1732.5,1149.7 C1734.0,1181.1 1734.0,1220.4 1735.1,1244.0 C1736.1,1267.5 1737.2,1270.0 1738.9,1290.9 C1740.6,1311.8 1743.2,1348.9 1745.3,1369.2 C1747.3,1389.6 1748.9,1392.5 1751.2,1412.8 C1753.5,1433.1 1757.7,1470.8 1759.3,1491.1 C1760.8,1511.5 1762.1,1524.9 1760.5,1534.9 C1759.0,1544.8 1755.9,1544.5 1749.9,1550.8 C1744.0,1557.1 1731.2,1566.7 1724.9,1572.7 C1718.6,1578.7 1715.6,1584.0 1712.1,1586.9 C1708.7,1589.8 1705.4,1589.6 1704.1,1590.1" fill="none" stroke="#000" stroke-width="4.17" stroke-dasharray="15.4,6.7"/>
<path d="M1917.7,965.8 C1917.1,986.0 1915.8,1045.7 1914.3,1086.8 C1912.7,1127.9 1910.2,1181.1 1908.3,1212.5 C1906.5,1243.9 1905.1,1256.8 1903.2,1275.2 C1901.4,1293.5 1899.1,1304.2 1897.3,1322.5 C1895.5,1340.8 1893.8,1369.9 1892.2,1385.0 C1890.6,1400.0 1890.0,1395.1 1888.0,1412.8 C1885.9,1430.5 1881.4,1472.3 1879.9,1491.1 C1878.3,1510.0 1877.3,1516.9 1878.6,1525.7 C1880.0,1534.6 1882.2,1537.1 1888.0,1544.4 C1893.7,1551.7 1906.2,1562.7 1913.0,1569.5 C1919.8,1576.3 1924.3,1581.8 1928.7,1585.2 C1933.2,1588.6 1937.9,1589.3 1939.8,1590.1" fill="none" stroke="#000" stroke-width="4.17" stroke-dasharray="15.4,6.7"/>
<ellipse cx="1657.3" cy="1260.9" rx="5.5" ry="6.5" fill="#000"/>
<ellipse cx="1700.2" cy="1279.0" rx="5.5" ry="6.5" fill="#000"/>
<ellipse cx="1721.0" cy="1279.0" rx="5.5" ry="6.5" fill="#000"/>
<ellipse cx="1964.0" cy="1231.9" rx="5.5" ry="6.5" fill="#000"/>
<path d="M1716.4,1290.7 L1726.6,1286.4 L1728.3,1303.4 L1721.5,1305.5 Z" fill="#000" stroke="#000" stroke-width="3.00" />
<path d="M1724.9,1297.0 C1725.6,1301.2 1727.3,1310.1 1729.1,1322.1 C1730.9,1334.1 1733.9,1358.3 1735.5,1369.2 C1737.0,1380.2 1738.0,1384.6 1738.5,1387.7" fill="none" stroke="#000" stroke-width="8.33" stroke-linejoin="round"/>
<path d="M1914.3,1277.9 L1923.6,1293.9 L1915.6,1292.8 L1907.9,1296.0 Z" fill="#000" stroke="#000" stroke-width="3.00" />
<path d="M1912.6,1290.7 C1912.1,1295.9 1911.1,1309.0 1909.6,1322.1 C1908.1,1335.2 1904.9,1358.0 1903.7,1369.2 C1902.4,1380.5 1902.3,1386.1 1902.0,1389.4" fill="none" stroke="#000" stroke-width="8.33" stroke-linejoin="round"/>
<path d="M1748.2,1480.1 C1747.9,1484.0 1748.9,1496.1 1746.5,1503.7 C1744.2,1511.3 1739.4,1518.4 1734.2,1525.7 C1729.0,1533.1 1720.3,1541.4 1715.1,1547.6 C1709.9,1553.9 1704.8,1560.7 1702.8,1563.3" fill="none" stroke="#000" stroke-width="8.33" stroke-linejoin="round"/>
<path d="M1702.8,1563.3 L1694.7,1557.2" fill="none" stroke="#000" stroke-width="8.33" stroke-linejoin="round"/>
<path d="M1890.9,1481.8 C1891.5,1486.0 1891.1,1499.0 1894.3,1506.8 C1897.5,1514.7 1904.3,1521.4 1910.0,1528.7 C1915.8,1536.0 1923.6,1544.8 1928.7,1550.8 C1933.9,1556.8 1939.0,1562.5 1941.0,1564.8" fill="none" stroke="#000" stroke-width="8.33" stroke-linejoin="round"/>
<path d="M1941.0,1564.8 L1948.3,1557.0" fill="none" stroke="#000" stroke-width="8.33" stroke-linejoin="round"/>
<path d="M1800.0,1475.4 C1797.4,1477.3 1788.3,1481.2 1784.3,1486.5 C1780.4,1491.7 1778.0,1497.2 1776.3,1506.8 C1774.6,1516.5 1775.2,1534.5 1774.1,1544.4 C1773.1,1554.4 1773.9,1559.2 1769.9,1566.5 C1765.9,1573.8 1759.6,1580.3 1749.9,1588.4 C1740.3,1596.5 1718.4,1610.7 1712.1,1615.1" fill="none" stroke="#000" stroke-width="8.33" stroke-linejoin="round"/>
<path d="M1865.9,1517.9 C1865.6,1524.9 1861.6,1550.5 1864.2,1560.1 C1866.8,1569.8 1874.5,1570.1 1881.6,1575.9 C1888.7,1581.6 1898.3,1588.2 1906.6,1594.8 C1915.0,1601.3 1927.5,1611.8 1931.7,1615.1" fill="none" stroke="#000" stroke-width="8.33" stroke-linejoin="round"/>
<path d="M1723.2,1632.6 C1727.6,1629.7 1741.9,1620.5 1749.9,1615.1 C1758.0,1609.8 1764.8,1605.2 1771.6,1600.7 C1778.4,1596.2 1787.1,1595.7 1790.7,1588.4 C1794.3,1581.1 1791.4,1564.8 1793.2,1557.0 C1795.1,1549.1 1797.5,1544.8 1801.7,1541.3 C1806.0,1537.7 1812.8,1535.6 1818.7,1535.7 C1824.7,1535.8 1832.5,1538.1 1837.4,1541.9 C1842.4,1545.7 1845.8,1550.9 1848.5,1558.7 C1851.1,1566.4 1848.5,1580.6 1853.6,1588.4 C1858.6,1596.2 1866.9,1598.0 1878.6,1605.6 C1890.4,1613.2 1916.5,1629.1 1924.1,1633.8" fill="none" stroke="#000" stroke-width="4.17" stroke-dasharray="15.4,6.7"/>
<path d="M1796.6,1616.0 C1792.0,1617.7 1777.0,1622.4 1768.6,1626.2 C1760.3,1630.0 1754.7,1633.8 1746.5,1638.7 C1738.4,1643.7 1724.2,1653.1 1719.8,1655.9" fill="none" stroke="#000" stroke-width="8.33" stroke-linejoin="round"/>
<path d="M1845.5,1616.0 C1850.4,1617.7 1866.1,1622.4 1875.2,1626.2 C1884.3,1630.0 1892.1,1633.8 1900.3,1638.7 C1908.4,1643.7 1920.1,1653.1 1924.1,1655.9" fill="none" stroke="#000" stroke-width="8.33" stroke-linejoin="round"/>
<path d="M1703.2,1318.9 L1703.2,1341.0" fill="none" stroke="#000" stroke-width="4.17" stroke-dasharray="15.4,6.7"/>
<path d="M1694.3,1396.9 L1694.3,1413.8" fill="none" stroke="#000" stroke-width="4.17" stroke-dasharray="15.4,6.7"/>
<path d="M1694.3,1447.8 L1694.3,1460.6" fill="none" stroke="#000" stroke-width="4.17" stroke-dasharray="15.4,6.7"/>
<path d="M1938.5,1318.9 L1938.5,1341.0" fill="none" stroke="#000" stroke-width="4.17" stroke-dasharray="15.4,6.7"/>
<path d="M1947.4,1396.9 L1947.4,1413.8" fill="none" stroke="#000" stroke-width="4.17" stroke-dasharray="15.4,6.7"/>
<path d="M1947.4,1447.8 L1947.4,1460.6" fill="none" stroke="#000" stroke-width="4.17" stroke-dasharray="15.4,6.7"/>
<text transform="translate(1701.0,1126.8) rotate(80.0)" x="-42.3" y="0" font-size="39.0" font-weight="normal" fill="#000" textLength="84.3" lengthAdjust="spacingAndGlyphs" >-100</text>
<text transform="translate(1946.8,1119.8) rotate(-85.0)" x="-42.3" y="0" font-size="39.0" font-weight="normal" fill="#000" textLength="84.3" lengthAdjust="spacingAndGlyphs" >-100</text>
<text transform="translate(1734.1,1436.8) rotate(80.0)" x="-42.3" y="0" font-size="39.0" font-weight="normal" fill="#000" textLength="84.3" lengthAdjust="spacingAndGlyphs" >-100</text>
<text transform="translate(1909.7,1430.9) rotate(-80.0)" x="-42.3" y="0" font-size="39.0" font-weight="normal" fill="#000" textLength="84.3" lengthAdjust="spacingAndGlyphs" >-100</text>
<text transform="translate(1842.9,1488.9) rotate(35.0)" x="-42.3" y="0" font-size="39.0" font-weight="normal" fill="#000" textLength="84.3" lengthAdjust="spacingAndGlyphs" >-200</text>
<text transform="translate(1821.9,1589.9)" x="-42.3" y="0" font-size="39.0" font-weight="normal" fill="#000" textLength="84.3" lengthAdjust="spacingAndGlyphs" >-300</text>
<text transform="translate(1659.2,1982.8)" x="-2.5" y="0" font-size="43.3" font-weight="bold" fill="#000" textLength="79.4" lengthAdjust="spacingAndGlyphs" >(m)</text>
</g>
<path d="M1646.2,1048.6 h-14.6 M1646.2,1260.9 h-14.6 M1646.2,1473.3 h-14.6 M1646.2,1685.6 h-14.6 M1646.2,1898.0 h-14.6 M1651.0,2006.3 v14.6 M1820.8,2006.3 v14.6 M1990.7,2006.3 v14.6 " stroke="#000" stroke-width="3.33" fill="none"/>
<rect x="1646.2" y="940.3" width="349.3" height="1066.0" fill="none" stroke="#000" stroke-width="3.33"/>
<text transform="translate(1661.7,2081.5) rotate(-45.0)" x="-33.7" y="0" font-size="43.3" font-weight="normal" fill="#000" textLength="67.1" lengthAdjust="spacingAndGlyphs" >-40</text>
<text transform="translate(1831.6,2068.5) rotate(-45.0)" x="-12.2" y="0" font-size="43.3" font-weight="normal" fill="#000" textLength="24.4" lengthAdjust="spacingAndGlyphs" >0</text>
<text transform="translate(2001.5,2077.0) rotate(-45.0)" x="-25.2" y="0" font-size="43.3" font-weight="normal" fill="#000" textLength="51.1" lengthAdjust="spacingAndGlyphs" >40</text>
<text transform="translate(1820.8,2174.5)" x="-68.2" y="0" font-size="60.7" font-weight="normal" fill="#000" textLength="136.4" lengthAdjust="spacingAndGlyphs" >[km]</text>
<g clip-path="url(#cp_n)">
<rect x="2039.3" y="940.3" width="349.3" height="1066.0" fill="#e8e8e8" />
<rect x="2039.3" y="940.3" width="349.3" height="1066.0" fill="url(#gd_n)" />
<g clip-path="url(#n_c)">
<path d="M2035.6,961.5 L2035.6,1267.3 L2056.8,1267.3 L2056.8,1275.8 L2073.8,1275.8 L2073.8,1280.1 L2082.3,1280.1 L2082.3,1568.9 L2090.8,1568.9 L2090.8,1598.6 L2099.3,1598.6 L2099.3,1632.6 L2107.8,1632.6 L2107.8,1670.8 L2116.3,1670.8 L2116.3,1696.3 L2124.8,1696.3 L2124.8,1700.5 L2133.3,1700.5 L2133.3,1704.8 L2294.6,1704.8 L2294.6,1700.5 L2303.1,1700.5 L2303.1,1696.3 L2311.6,1696.3 L2311.6,1670.8 L2320.1,1670.8 L2320.1,1632.6 L2328.6,1632.6 L2328.6,1598.6 L2337.1,1598.6 L2337.1,1568.9 L2345.6,1568.9 L2345.6,1267.3 L2362.6,1267.3 L2362.6,1263.1 L2371.1,1263.1 L2371.1,1258.8 L2392.3,1258.8 L2392.3,961.5 Z" fill="url(#n_n)" stroke="none" stroke-width="0.00" />
<rect x="2078.0" y="1271.6" width="271.8" height="439.6" fill="url(#n_m)" />
<path d="M2116.3,1267.3 L2124.8,1267.3 L2124.8,1345.9 L2132.0,1345.9 L2132.0,1430.8 L2140.5,1430.8 L2140.5,1473.3 L2150.2,1473.3 L2150.2,1515.8 L2160.0,1515.8 L2160.0,1545.5 L2171.5,1545.5 L2171.5,1568.9 L2184.2,1568.9 L2184.2,1592.2 L2194.8,1592.2 L2194.8,1615.6 L2205.5,1615.6 L2205.5,1638.9 L2214.0,1638.9 L2214.0,1653.8 L2222.4,1653.8 L2222.4,1638.9 L2233.1,1638.9 L2233.1,1615.6 L2243.7,1615.6 L2243.7,1592.2 L2256.4,1592.2 L2256.4,1568.9 L2267.9,1568.9 L2267.9,1545.5 L2277.7,1545.5 L2277.7,1515.8 L2287.4,1515.8 L2287.4,1473.3 L2295.9,1473.3 L2295.9,1430.8 L2303.1,1430.8 L2303.1,1345.9 L2311.6,1345.9 L2311.6,1267.3 Z" fill="url(#n_i)" stroke="none" stroke-width="0.00" />
<rect x="2116.3" y="1267.3" width="38.2" height="110.4" fill="url(#n_ih)" />
<rect x="2273.4" y="1267.3" width="38.2" height="110.4" fill="url(#n_ihr)" />
<rect x="2039.8" y="1254.6" width="34.0" height="8.5" fill="#4062b8" />
<rect x="2107.8" y="1246.1" width="8.5" height="38.2" fill="#4062b8" />
<rect x="2107.8" y="1284.3" width="8.5" height="29.7" fill="#4050a8" />
<rect x="2116.3" y="1241.8" width="8.5" height="44.6" fill="#40489e" />
<rect x="2090.8" y="1250.3" width="17.0" height="4.2" fill="#4a8fc8" />
<rect x="2073.8" y="1254.6" width="34.0" height="8.5" fill="#4a8fc8" />
<rect x="2090.8" y="1254.6" width="17.0" height="8.5" fill="#5aa2d2" />
<rect x="2073.8" y="1263.1" width="17.0" height="4.2" fill="#4a8fc8" />
<rect x="2099.3" y="1263.1" width="8.5" height="4.2" fill="#4a8fc8" />
<rect x="2090.8" y="1267.3" width="17.0" height="4.2" fill="#4a8fc8" />
<rect x="2090.8" y="1271.6" width="8.5" height="4.2" fill="#4062b8" />
<rect x="2107.8" y="1271.6" width="8.5" height="8.5" fill="#4a8fc8" />
<rect x="2056.8" y="1267.3" width="8.5" height="4.2" fill="#8c2369" />
<rect x="2056.8" y="1271.6" width="25.5" height="4.2" fill="#8c2369" />
<rect x="2073.8" y="1275.8" width="17.0" height="4.2" fill="#8c2369" />
<rect x="2082.3" y="1280.1" width="8.5" height="8.5" fill="#8c2369" />
<rect x="2345.6" y="1246.1" width="42.5" height="4.2" fill="#4050b0" />
<rect x="2311.6" y="1237.6" width="8.5" height="25.5" fill="#4458b8" />
<rect x="2311.6" y="1263.1" width="8.5" height="38.2" fill="#4050a8" />
<rect x="2303.1" y="1233.3" width="8.5" height="34.0" fill="#383878" />
<rect x="2320.1" y="1246.1" width="25.5" height="4.2" fill="#4a8fc8" />
<rect x="2320.1" y="1250.3" width="42.5" height="4.2" fill="#4a8fc8" />
<rect x="2320.1" y="1254.6" width="25.5" height="4.2" fill="#4a8fc8" />
<rect x="2362.6" y="1254.6" width="25.5" height="4.2" fill="#8c2369" />
<rect x="2354.1" y="1258.8" width="17.0" height="4.2" fill="#8c2369" />
<rect x="2337.1" y="1263.1" width="25.5" height="4.2" fill="#8c2369" />
<rect x="2337.1" y="1267.3" width="8.5" height="4.2" fill="#8c2369" />
<rect x="2039.3" y="940.3" width="349.3" height="1066.0" fill="url(#gl_n)" />
</g>
<rect x="2081.7" y="1288.6" width="9.3" height="106.2" fill="#e8e8e8" />
<rect x="2336.9" y="1271.6" width="9.3" height="123.2" fill="#e8e8e8" />
<g opacity="0.55">
<rect x="2082.3" y="1288.6" width="8.5" height="106.2" fill="url(#gd_n)" />
<rect x="2337.1" y="1271.6" width="8.5" height="123.2" fill="url(#gd_n)" />
</g>
<rect x="2099.3" y="1275.8" width="8.5" height="157.1" fill="#969696" />
<rect x="2090.8" y="1394.7" width="8.5" height="59.5" fill="#969696" />
<rect x="2320.1" y="1267.3" width="8.5" height="165.6" fill="#969696" />
<rect x="2328.6" y="1394.7" width="8.5" height="59.5" fill="#969696" />
<rect x="2039.8" y="1233.3" width="17.0" height="12.7" fill="#969696" />
<rect x="2371.1" y="1220.6" width="17.0" height="3.2" fill="#969696" />
<rect x="2371.1" y="1229.1" width="17.0" height="3.2" fill="#969696" />
<rect x="2035.6" y="938.2" width="356.7" height="23.4" fill="#969696" />
<rect x="2035.6" y="938.2" width="356.7" height="23.4" fill="url(#gl_n)" />
<text transform="translate(2052.3,1982.8)" x="-2.6" y="0" font-size="43.3" font-weight="bold" fill="#000" textLength="65.7" lengthAdjust="spacingAndGlyphs" >(n)</text>
<text transform="translate(2376.3,1952.0)" x="-222.6" y="0" font-size="47.7" font-weight="normal" fill="#000" textLength="222.1" lengthAdjust="spacingAndGlyphs" >3.13 m/yr</text>
<text transform="translate(2376.3,1993.8)" x="-261.0" y="0" font-size="47.7" font-weight="normal" fill="#000" textLength="260.5" lengthAdjust="spacingAndGlyphs" >12.18 Gt/yr</text>
</g>
<path d="M2039.3,1048.6 h-14.6 M2039.3,1260.9 h-14.6 M2039.3,1473.3 h-14.6 M2039.3,1685.6 h-14.6 M2039.3,1898.0 h-14.6 M2044.1,2006.3 v14.6 M2214.0,2006.3 v14.6 M2383.8,2006.3 v14.6 " stroke="#000" stroke-width="3.33" fill="none"/>
<rect x="2039.3" y="940.3" width="349.3" height="1066.0" fill="none" stroke="#000" stroke-width="3.33"/>
<text transform="translate(2054.8,2081.5) rotate(-45.0)" x="-33.7" y="0" font-size="43.3" font-weight="normal" fill="#000" textLength="67.1" lengthAdjust="spacingAndGlyphs" >-40</text>
<text transform="translate(2224.7,2068.5) rotate(-45.0)" x="-12.2" y="0" font-size="43.3" font-weight="normal" fill="#000" textLength="24.4" lengthAdjust="spacingAndGlyphs" >0</text>
<text transform="translate(2394.6,2077.0) rotate(-45.0)" x="-25.2" y="0" font-size="43.3" font-weight="normal" fill="#000" textLength="51.1" lengthAdjust="spacingAndGlyphs" >40</text>
<text transform="translate(2214.0,2174.5)" x="-68.2" y="0" font-size="60.7" font-weight="normal" fill="#000" textLength="136.4" lengthAdjust="spacingAndGlyphs" >[km]</text>
<g clip-path="url(#cp_o)">
<rect x="2432.4" y="940.3" width="349.3" height="1066.0" fill="url(#o_sd)" />
<path d="M2505.1,1685.6 L2709.0,1685.6 L2759.9,2065.8 L2454.2,2065.8 Z" fill="url(#o_sw)" stroke="none" stroke-width="0.00" filter="url(#b25)"/>
<path d="M2522.1,1696.3 L2692.0,1696.3 L2709.0,2023.3 L2505.1,2023.3 Z" fill="url(#o_st)" stroke="none" stroke-width="0.00" filter="url(#b14)"/>
<g clip-path="url(#o_c)">
<path d="M2428.7,961.5 L2428.7,1267.3 L2449.9,1267.3 L2449.9,1275.8 L2466.9,1275.8 L2466.9,1280.1 L2475.4,1280.1 L2475.4,1568.9 L2483.9,1568.9 L2483.9,1598.6 L2492.4,1598.6 L2492.4,1632.6 L2500.9,1632.6 L2500.9,1670.8 L2509.4,1670.8 L2509.4,1696.3 L2517.9,1696.3 L2517.9,1700.5 L2526.4,1700.5 L2526.4,1704.8 L2687.7,1704.8 L2687.7,1700.5 L2696.2,1700.5 L2696.2,1696.3 L2704.7,1696.3 L2704.7,1670.8 L2713.2,1670.8 L2713.2,1632.6 L2721.7,1632.6 L2721.7,1598.6 L2730.2,1598.6 L2730.2,1568.9 L2738.7,1568.9 L2738.7,1267.3 L2755.7,1267.3 L2755.7,1263.1 L2764.2,1263.1 L2764.2,1258.8 L2785.4,1258.8 L2785.4,961.5 Z" fill="url(#o_sh)" stroke="none" stroke-width="0.00" />
<path d="M2428.7,1483.9 L2449.9,1483.9 L2449.9,1483.9 L2466.9,1483.9 L2466.9,1483.9 L2475.4,1483.9 L2475.4,1568.9 L2483.9,1568.9 L2483.9,1598.6 L2492.4,1598.6 L2492.4,1632.6 L2500.9,1632.6 L2500.9,1670.8 L2509.4,1670.8 L2509.4,1689.9" fill="none" stroke="#3d9efe" stroke-width="40.00" filter="url(#b8)" stroke-linejoin="round"/>
<path d="M2428.7,1483.9 L2449.9,1483.9 L2449.9,1483.9 L2466.9,1483.9 L2466.9,1483.9 L2475.4,1483.9 L2475.4,1568.9 L2483.9,1568.9 L2483.9,1598.6 L2492.4,1598.6 L2492.4,1632.6 L2500.9,1632.6 L2500.9,1670.8 L2509.4,1670.8 L2509.4,1689.9" fill="none" stroke="#477bf2" stroke-width="16.00" filter="url(#b8)" stroke-linejoin="round"/>
<path d="M2704.7,1689.9 L2704.7,1670.8 L2713.2,1670.8 L2713.2,1632.6 L2721.7,1632.6 L2721.7,1598.6 L2730.2,1598.6 L2730.2,1568.9 L2738.7,1568.9 L2738.7,1483.9 L2755.7,1483.9 L2755.7,1483.9 L2764.2,1483.9 L2764.2,1483.9 L2785.4,1483.9" fill="none" stroke="#3d9efe" stroke-width="40.00" filter="url(#b8)" stroke-linejoin="round"/>
<path d="M2704.7,1689.9 L2704.7,1670.8 L2713.2,1670.8 L2713.2,1632.6 L2721.7,1632.6 L2721.7,1598.6 L2730.2,1598.6 L2730.2,1568.9 L2738.7,1568.9 L2738.7,1483.9 L2755.7,1483.9 L2755.7,1483.9 L2764.2,1483.9 L2764.2,1483.9 L2785.4,1483.9" fill="none" stroke="#477bf2" stroke-width="16.00" filter="url(#b8)" stroke-linejoin="round"/>
</g>
<path d="M2428.7,1267.3H2449.9V1271.6H2428.7ZM2441.4,1267.3H2449.9V1280.1H2441.4ZM2449.9,1275.8H2466.9V1280.1H2449.9ZM2458.4,1275.8H2466.9V1284.3H2458.4ZM2466.9,1280.1H2475.4V1284.3H2466.9ZM2466.9,1280.1H2475.4V1573.1H2466.9ZM2475.4,1568.9H2483.9V1573.1H2475.4ZM2475.4,1568.9H2483.9V1602.8H2475.4ZM2483.9,1598.6H2492.4V1602.8H2483.9ZM2483.9,1598.6H2492.4V1636.8H2483.9ZM2492.4,1632.6H2500.9V1636.8H2492.4ZM2492.4,1632.6H2500.9V1675.0H2492.4ZM2500.9,1670.8H2509.4V1675.0H2500.9ZM2500.9,1670.8H2509.4V1700.5H2500.9ZM2509.4,1696.3H2517.9V1700.5H2509.4ZM2509.4,1696.3H2517.9V1704.8H2509.4ZM2517.9,1700.5H2526.4V1704.8H2517.9ZM2517.9,1700.5H2526.4V1709.0H2517.9ZM2526.4,1704.8H2687.7V1709.0H2526.4ZM2687.7,1700.5H2696.2V1709.0H2687.7ZM2687.7,1700.5H2696.2V1704.8H2687.7ZM2696.2,1696.3H2704.7V1704.8H2696.2ZM2696.2,1696.3H2704.7V1700.5H2696.2ZM2704.7,1670.8H2713.2V1700.5H2704.7ZM2704.7,1670.8H2713.2V1675.0H2704.7ZM2713.2,1632.6H2721.7V1675.0H2713.2ZM2713.2,1632.6H2721.7V1636.8H2713.2ZM2721.7,1598.6H2730.2V1636.8H2721.7ZM2721.7,1598.6H2730.2V1602.8H2721.7ZM2730.2,1568.9H2738.7V1602.8H2730.2ZM2730.2,1568.9H2738.7V1573.1H2730.2ZM2738.7,1267.3H2747.2V1573.1H2738.7ZM2738.7,1267.3H2755.7V1271.6H2738.7ZM2755.7,1263.1H2764.2V1271.6H2755.7ZM2755.7,1263.1H2764.2V1267.3H2755.7ZM2764.2,1258.8H2772.7V1267.3H2764.2ZM2764.2,1258.8H2785.4V1263.1H2764.2Z" fill="#f3f8f1" stroke="none" stroke-width="0.00" />
<rect x="2428.7" y="938.2" width="356.7" height="23.4" fill="#969696" />
<rect x="2432.4" y="940.3" width="349.3" height="1066.0" fill="url(#gl_o)" />
<g clip-path="url(#o_c)">
<path d="M2428.7,1197.2 L2466.9,1197.2 L2481.8,1235.5 L2481.8,1290.7 L2428.7,1290.7 Z" fill="url(#o_sp)" stroke="none" stroke-width="0.00" filter="url(#b8)"/>
<path d="M2785.4,1197.2 L2747.2,1197.2 L2732.3,1235.5 L2732.3,1290.7 L2785.4,1290.7 Z" fill="url(#o_sp)" stroke="none" stroke-width="0.00" filter="url(#b8)"/>
</g>
<g clip-path="url(#o_c)">
<rect x="2483.9" y="1275.8" width="8.5" height="121.0" fill="url(#o_wst)" />
<rect x="2721.7" y="1267.3" width="8.5" height="129.5" fill="url(#o_wst)" />
</g>
<path d="M2428.7,1267.3H2449.9V1271.6H2428.7ZM2441.4,1267.3H2449.9V1280.1H2441.4ZM2449.9,1275.8H2466.9V1280.1H2449.9ZM2458.4,1275.8H2466.9V1284.3H2458.4ZM2466.9,1280.1H2475.4V1284.3H2466.9ZM2466.9,1280.1H2475.4V1573.1H2466.9ZM2475.4,1568.9H2483.9V1573.1H2475.4ZM2475.4,1568.9H2483.9V1602.8H2475.4ZM2483.9,1598.6H2492.4V1602.8H2483.9ZM2483.9,1598.6H2492.4V1636.8H2483.9ZM2492.4,1632.6H2500.9V1636.8H2492.4ZM2492.4,1632.6H2500.9V1675.0H2492.4ZM2500.9,1670.8H2509.4V1675.0H2500.9ZM2500.9,1670.8H2509.4V1700.5H2500.9ZM2509.4,1696.3H2517.9V1700.5H2509.4ZM2509.4,1696.3H2517.9V1704.8H2509.4ZM2517.9,1700.5H2526.4V1704.8H2517.9ZM2517.9,1700.5H2526.4V1709.0H2517.9ZM2526.4,1704.8H2687.7V1709.0H2526.4ZM2687.7,1700.5H2696.2V1709.0H2687.7ZM2687.7,1700.5H2696.2V1704.8H2687.7ZM2696.2,1696.3H2704.7V1704.8H2696.2ZM2696.2,1696.3H2704.7V1700.5H2696.2ZM2704.7,1670.8H2713.2V1700.5H2704.7ZM2704.7,1670.8H2713.2V1675.0H2704.7ZM2713.2,1632.6H2721.7V1675.0H2713.2ZM2713.2,1632.6H2721.7V1636.8H2713.2ZM2721.7,1598.6H2730.2V1636.8H2721.7ZM2721.7,1598.6H2730.2V1602.8H2721.7ZM2730.2,1568.9H2738.7V1602.8H2730.2ZM2730.2,1568.9H2738.7V1573.1H2730.2ZM2738.7,1267.3H2747.2V1573.1H2738.7ZM2738.7,1267.3H2755.7V1271.6H2738.7ZM2755.7,1263.1H2764.2V1271.6H2755.7ZM2755.7,1263.1H2764.2V1267.3H2755.7ZM2764.2,1258.8H2772.7V1267.3H2764.2ZM2764.2,1258.8H2785.4V1263.1H2764.2Z" fill="#f3f8f1" stroke="none" stroke-width="0.00" />
<rect x="2474.8" y="1288.6" width="9.3" height="106.2" fill="#321543" />
<rect x="2730.0" y="1271.6" width="9.3" height="123.2" fill="#321543" />
<rect x="2475.4" y="1288.6" width="8.5" height="110.4" fill="#f3f8f1" />
<rect x="2730.2" y="1271.6" width="8.5" height="127.4" fill="#f3f8f1" />
<rect x="2492.4" y="1275.8" width="8.5" height="157.1" fill="#969696" />
<rect x="2483.9" y="1394.7" width="8.5" height="59.5" fill="#969696" />
<rect x="2713.2" y="1267.3" width="8.5" height="165.6" fill="#969696" />
<rect x="2721.7" y="1394.7" width="8.5" height="59.5" fill="#969696" />
<rect x="2432.9" y="1233.3" width="17.0" height="12.7" fill="#969696" />
<rect x="2764.2" y="1220.6" width="17.0" height="3.2" fill="#969696" />
<rect x="2764.2" y="1229.1" width="17.0" height="3.2" fill="#969696" />
<rect x="2432.4" y="940.3" width="349.3" height="1066.0" fill="url(#gl_o)" />
<use href="#ar" transform="translate(2454.2,984.9) rotate(0)"/><use href="#ar" transform="translate(2496.6,984.9) rotate(0)"/><use href="#ar" transform="translate(2539.1,984.9) rotate(0)"/><use href="#ar" transform="translate(2581.6,984.9) rotate(0)"/><use href="#ar" transform="translate(2624.0,984.9) rotate(0)"/><use href="#ar" transform="translate(2666.5,984.9) rotate(0)"/><use href="#ar" transform="translate(2709.0,984.9) rotate(0)"/><use href="#ar" transform="translate(2751.4,984.9) rotate(0)"/><use href="#ar" transform="translate(2454.2,1048.6) rotate(0)"/><use href="#ar" transform="translate(2496.6,1048.6) rotate(0)"/><use href="#ar" transform="translate(2539.1,1048.6) rotate(0)"/><use href="#ar" transform="translate(2581.6,1048.6) rotate(0)"/><use href="#ar" transform="translate(2624.0,1048.6) rotate(0)"/><use href="#ar" transform="translate(2666.5,1048.6) rotate(0)"/><use href="#ar" transform="translate(2709.0,1048.6) rotate(0)"/><use href="#ar" transform="translate(2751.4,1048.6) rotate(0)"/><use href="#ar" transform="translate(2454.2,1112.3) rotate(0)"/><use href="#ar" transform="translate(2496.6,1112.3) rotate(0)"/><use href="#ar" transform="translate(2539.1,1112.3) rotate(0)"/><use href="#ar" transform="translate(2581.6,1112.3) rotate(0)"/><use href="#ar" transform="translate(2624.0,1112.3) rotate(0)"/><use href="#ar" transform="translate(2666.5,1112.3) rotate(0)"/><use href="#ar" transform="translate(2709.0,1112.3) rotate(0)"/><use href="#ar" transform="translate(2751.4,1112.3) rotate(0)"/><use href="#ar" transform="translate(2454.2,1176.0) rotate(0)"/><use href="#ar" transform="translate(2496.6,1176.0) rotate(0)"/><use href="#ar" transform="translate(2539.1,1176.0) rotate(0)"/><use href="#ar" transform="translate(2581.6,1176.0) rotate(0)"/><use href="#ar" transform="translate(2624.0,1176.0) rotate(0)"/><use href="#ar" transform="translate(2666.5,1176.0) rotate(0)"/><use href="#ar" transform="translate(2709.0,1176.0) rotate(0)"/><use href="#ar" transform="translate(2751.4,1176.0) rotate(0)"/><use href="#ar" transform="translate(2454.2,1239.7) rotate(4)"/><use href="#ar" transform="translate(2496.6,1239.7) rotate(0)"/><use href="#ar" transform="translate(2539.1,1239.7) rotate(0)"/><use href="#ar" transform="translate(2581.6,1239.7) rotate(0)"/><use href="#ar" transform="translate(2624.0,1239.7) rotate(0)"/><use href="#ar" transform="translate(2666.5,1239.7) rotate(0)"/><use href="#ar" transform="translate(2709.0,1239.7) rotate(0)"/><use href="#ar" transform="translate(2751.4,1239.7) rotate(-2)"/><use href="#ar" transform="translate(2454.2,1303.4) rotate(85)"/><use href="#ar" transform="translate(2539.1,1303.4) rotate(0)"/><use href="#ar" transform="translate(2581.6,1303.4) rotate(0)"/><use href="#ar" transform="translate(2624.0,1303.4) rotate(0)"/><use href="#ar" transform="translate(2666.5,1303.4) rotate(0)"/><use href="#ar" transform="translate(2709.0,1303.4) rotate(-7)"/><use href="#ar" transform="translate(2751.4,1303.4) rotate(-90)"/><use href="#ar" transform="translate(2454.2,1367.1) rotate(90)"/><use href="#ar" transform="translate(2539.1,1367.1) rotate(0)"/><use href="#ar" transform="translate(2581.6,1367.1) rotate(0)"/><use href="#ar" transform="translate(2624.0,1367.1) rotate(0)"/><use href="#ar" transform="translate(2666.5,1367.1) rotate(0)"/><use href="#ar" transform="translate(2709.0,1367.1) rotate(-2)"/><use href="#ar" transform="translate(2751.4,1367.1) rotate(-90)"/><use href="#ar" transform="translate(2454.2,1430.8) rotate(90)"/><use href="#ar" transform="translate(2539.1,1430.8) rotate(0)"/><use href="#ar" transform="translate(2581.6,1430.8) rotate(0)"/><use href="#ar" transform="translate(2624.0,1430.8) rotate(0)"/><use href="#ar" transform="translate(2666.5,1430.8) rotate(0)"/><use href="#ar" transform="translate(2709.0,1430.8) rotate(-5)"/><use href="#ar" transform="translate(2751.4,1430.8) rotate(-90)"/><use href="#ar" transform="translate(2454.2,1494.5) rotate(90)"/><use href="#ar" transform="translate(2496.6,1494.5) rotate(-4)"/><use href="#ar" transform="translate(2539.1,1494.5) rotate(0)"/><use href="#ar" transform="translate(2581.6,1494.5) rotate(0)"/><use href="#ar" transform="translate(2624.0,1494.5) rotate(0)"/><use href="#ar" transform="translate(2666.5,1494.5) rotate(0)"/><use href="#ar" transform="translate(2709.0,1494.5) rotate(-5)"/><use href="#ar" transform="translate(2751.4,1494.5) rotate(-86)"/><use href="#ar" transform="translate(2454.2,1558.2) rotate(81)"/><use href="#ar" transform="translate(2496.6,1558.2) rotate(-6)"/><use href="#ar" transform="translate(2539.1,1558.2) rotate(-6)"/><use href="#ar" transform="translate(2581.6,1558.2) rotate(-2)"/><use href="#ar" transform="translate(2624.0,1558.2) rotate(2)"/><use href="#ar" transform="translate(2666.5,1558.2) rotate(6)"/><use href="#ar" transform="translate(2709.0,1558.2) rotate(6)"/><use href="#ar" transform="translate(2751.4,1558.2) rotate(-77)"/><use href="#ar" transform="translate(2454.2,1621.9) rotate(78)"/><use href="#ar" transform="translate(2496.6,1621.9) rotate(4)"/><use href="#ar" transform="translate(2539.1,1621.9) rotate(-6)"/><use href="#ar" transform="translate(2581.6,1621.9) rotate(-1)"/><use href="#ar" transform="translate(2624.0,1621.9) rotate(1)"/><use href="#ar" transform="translate(2666.5,1621.9) rotate(6)"/><use href="#ar" transform="translate(2709.0,1621.9) rotate(-4)"/><use href="#ar" transform="translate(2751.4,1621.9) rotate(-78)"/><use href="#ar" transform="translate(2454.2,1685.6) rotate(66)"/><use href="#ar" transform="translate(2496.6,1685.6) rotate(44)"/><use href="#ar" transform="translate(2539.1,1685.6) rotate(-1)"/><use href="#ar" transform="translate(2581.6,1685.6) rotate(0)"/><use href="#ar" transform="translate(2624.0,1685.6) rotate(0)"/><use href="#ar" transform="translate(2666.5,1685.6) rotate(1)"/><use href="#ar" transform="translate(2709.0,1685.6) rotate(-13)"/><use href="#ar" transform="translate(2751.4,1685.6) rotate(-68)"/><use href="#ar" transform="translate(2454.2,1749.4) rotate(20)"/><use href="#ar" transform="translate(2496.6,1749.4) rotate(17)"/><use href="#ar" transform="translate(2539.1,1749.4) rotate(5)"/><use href="#ar" transform="translate(2581.6,1749.4) rotate(2)"/><use href="#ar" transform="translate(2624.0,1749.4) rotate(-2)"/><use href="#ar" transform="translate(2666.5,1749.4) rotate(-7)"/><use href="#ar" transform="translate(2709.0,1749.4) rotate(-15)"/><use href="#ar" transform="translate(2751.4,1749.4) rotate(-24)"/><use href="#ar" transform="translate(2454.2,1813.1) rotate(8)"/><use href="#ar" transform="translate(2496.6,1813.1) rotate(10)"/><use href="#ar" transform="translate(2539.1,1813.1) rotate(4)"/><use href="#ar" transform="translate(2581.6,1813.1) rotate(1)"/><use href="#ar" transform="translate(2624.0,1813.1) rotate(-1)"/><use href="#ar" transform="translate(2666.5,1813.1) rotate(-4)"/><use href="#ar" transform="translate(2709.0,1813.1) rotate(-9)"/><use href="#ar" transform="translate(2751.4,1813.1) rotate(-11)"/><use href="#ar" transform="translate(2454.2,1876.8) rotate(4)"/><use href="#ar" transform="translate(2496.6,1876.8) rotate(6)"/><use href="#ar" transform="translate(2539.1,1876.8) rotate(3)"/><use href="#ar" transform="translate(2581.6,1876.8) rotate(1)"/><use href="#ar" transform="translate(2624.0,1876.8) rotate(-1)"/><use href="#ar" transform="translate(2666.5,1876.8) rotate(-3)"/><use href="#ar" transform="translate(2709.0,1876.8) rotate(-6)"/><use href="#ar" transform="translate(2751.4,1876.8) rotate(-6)"/><use href="#ar" transform="translate(2454.2,1940.5) rotate(4)"/><use href="#ar" transform="translate(2496.6,1940.5) rotate(6)"/><use href="#ar" transform="translate(2539.1,1940.5) rotate(3)"/><use href="#ar" transform="translate(2581.6,1940.5) rotate(1)"/><use href="#ar" transform="translate(2624.0,1940.5) rotate(-1)"/><use href="#ar" transform="translate(2666.5,1940.5) rotate(-3)"/><use href="#ar" transform="translate(2709.0,1940.5) rotate(-6)"/><use href="#ar" transform="translate(2751.4,1940.5) rotate(-6)"/><use href="#ar" transform="translate(2454.2,2004.2) rotate(4)"/><use href="#ar" transform="translate(2496.6,2004.2) rotate(6)"/><use href="#ar" transform="translate(2539.1,2004.2) rotate(3)"/><use href="#ar" transform="translate(2581.6,2004.2) rotate(1)"/><use href="#ar" transform="translate(2624.0,2004.2) rotate(-1)"/><use href="#ar" transform="translate(2666.5,2004.2) rotate(-3)"/><use href="#ar" transform="translate(2709.0,2004.2) rotate(-6)"/><use href="#ar" transform="translate(2751.4,2004.2) rotate(-6)"/>
<text transform="translate(2445.4,1982.8)" x="-2.5" y="0" font-size="43.3" font-weight="bold" fill="#fff" textLength="64.6" lengthAdjust="spacingAndGlyphs" >(o)</text>
</g>
<path d="M2432.4,1048.6 h-14.6 M2432.4,1260.9 h-14.6 M2432.4,1473.3 h-14.6 M2432.4,1685.6 h-14.6 M2432.4,1898.0 h-14.6 M2437.2,2006.3 v14.6 M2607.1,2006.3 v14.6 M2776.9,2006.3 v14.6 " stroke="#000" stroke-width="3.33" fill="none"/>
<rect x="2432.4" y="940.3" width="349.3" height="1066.0" fill="none" stroke="#000" stroke-width="3.33"/>
<text transform="translate(2447.9,2081.5) rotate(-45.0)" x="-33.7" y="0" font-size="43.3" font-weight="normal" fill="#000" textLength="67.1" lengthAdjust="spacingAndGlyphs" >-40</text>
<text transform="translate(2617.8,2068.5) rotate(-45.0)" x="-12.2" y="0" font-size="43.3" font-weight="normal" fill="#000" textLength="24.4" lengthAdjust="spacingAndGlyphs" >0</text>
<text transform="translate(2787.7,2077.0) rotate(-45.0)" x="-25.2" y="0" font-size="43.3" font-weight="normal" fill="#000" textLength="51.1" lengthAdjust="spacingAndGlyphs" >40</text>
<text transform="translate(2607.1,2174.5)" x="-68.2" y="0" font-size="60.7" font-weight="normal" fill="#000" textLength="136.4" lengthAdjust="spacingAndGlyphs" >[km]</text>
<g clip-path="url(#cp_p)">
<rect x="2939.0" y="940.3" width="349.3" height="1066.0" fill="#e5e5e5" />
<g clip-path="url(#p_c)">
<path d="M2935.3,961.5 L2935.3,1241.8 L2999.0,1241.8 L2999.0,1318.3 L3007.5,1318.3 L3007.5,1543.4 L3016.0,1543.4 L3016.0,1568.9 L3024.5,1568.9 L3024.5,1573.1 L3041.5,1573.1 L3041.5,1577.3 L3113.7,1577.3 L3113.7,1577.3 L3185.8,1577.3 L3185.8,1573.1 L3202.8,1573.1 L3202.8,1568.9 L3211.3,1568.9 L3211.3,1543.4 L3219.8,1543.4 L3219.8,1318.3 L3228.3,1318.3 L3228.3,1241.8 L3292.0,1241.8 L3292.0,961.5 Z" fill="url(#p_v)" stroke="none" stroke-width="0.00" />
<path d="M2935.3,1048.6 L2948.0,1069.8 L2973.5,1133.5 L2988.4,1176.0 L2996.9,1246.1 L2935.3,1246.1 Z" fill="#9edca7" stroke="none" stroke-width="0.00" filter="url(#b8)"/>
<path d="M2935.3,1165.4 L2956.5,1180.3 L2973.5,1235.5 L2969.3,1246.1 L2935.3,1246.1 Z" fill="#c0e8af" stroke="none" stroke-width="0.00" filter="url(#b8)"/>
<path d="M2996.9,1235.5 L3028.7,1207.9 L3071.2,1188.7 L3071.2,1260.9 L3007.5,1271.6 Z" fill="#79caa5" stroke="none" stroke-width="0.00" filter="url(#b14)" opacity="0.6"/>
<path d="M3292.0,1048.6 L3279.3,1069.8 L3253.8,1133.5 L3238.9,1176.0 L3230.4,1246.1 L3292.0,1246.1 Z" fill="#9edca7" stroke="none" stroke-width="0.00" filter="url(#b8)"/>
<path d="M3292.0,1165.4 L3270.8,1180.3 L3253.8,1235.5 L3258.0,1246.1 L3292.0,1246.1 Z" fill="#c0e8af" stroke="none" stroke-width="0.00" filter="url(#b8)"/>
<path d="M3230.4,1235.5 L3198.6,1207.9 L3156.1,1188.7 L3156.1,1260.9 L3219.8,1271.6 Z" fill="#79caa5" stroke="none" stroke-width="0.00" filter="url(#b14)" opacity="0.6"/>
</g>
<rect x="2999.0" y="1356.5" width="8.5" height="17.0" fill="#5aaea2" />
<rect x="3219.8" y="1356.5" width="8.5" height="17.0" fill="#5aaea2" />
<rect x="2982.0" y="1178.1" width="8.5" height="65.8" fill="#e5e5e5" />
<rect x="3236.8" y="1178.1" width="8.5" height="65.8" fill="#e5e5e5" />
<rect x="2935.3" y="938.2" width="356.7" height="23.4" fill="#969696" />
<rect x="2939.0" y="940.3" width="349.3" height="1066.0" fill="url(#gl_p)" />
<path d="M2943.8,1078.3 C2945.5,1078.8 2950.6,1075.2 2954.4,1080.9 C2958.1,1086.5 2962.0,1100.7 2966.3,1112.3 C2970.6,1123.9 2976.8,1140.1 2980.3,1150.5 C2983.8,1160.9 2986.3,1170.7 2987.5,1174.7" fill="none" stroke="#000" stroke-width="4.17" stroke-dasharray="15.4,6.7"/>
<path d="M3283.5,1078.3 C3281.7,1079.2 3277.1,1076.2 3272.5,1083.4 C3267.9,1090.7 3260.7,1109.8 3255.9,1121.9 C3251.1,1133.9 3246.7,1146.4 3243.6,1155.6 C3240.6,1164.8 3238.7,1173.5 3237.7,1177.1" fill="none" stroke="#000" stroke-width="4.17" stroke-dasharray="15.4,6.7"/>
<path d="M2944.6,1179.6 C2946.6,1180.4 2952.5,1179.7 2956.5,1184.5 C2960.5,1189.3 2965.6,1200.0 2968.4,1208.3 C2971.2,1216.6 2974.3,1229.4 2973.5,1234.4 C2972.7,1239.4 2968.5,1237.7 2963.7,1238.2 C2958.9,1238.8 2947.8,1237.7 2944.6,1237.6" fill="none" stroke="#000" stroke-width="8.33" stroke-linejoin="round"/>
<path d="M3282.3,1179.6 C3280.3,1180.4 3274.4,1179.7 3270.4,1184.5 C3266.3,1189.3 3260.6,1200.0 3258.0,1208.3 C3255.5,1216.6 3253.9,1229.4 3255.1,1234.4 C3256.3,1239.4 3260.5,1237.6 3265.3,1238.2 C3270.0,1238.9 3280.5,1238.2 3283.5,1238.2" fill="none" stroke="#000" stroke-width="8.33" stroke-linejoin="round"/>
<path d="M3002.0,1239.7 C3006.8,1235.3 3019.6,1221.4 3030.8,1213.2 C3042.0,1204.9 3062.7,1194.1 3069.1,1190.2" fill="none" stroke="#000" stroke-width="8.33" stroke-linejoin="round"/>
<path d="M3157.8,1190.2 C3163.8,1194.1 3182.1,1204.9 3193.5,1213.2 C3204.9,1221.4 3220.7,1235.3 3226.2,1239.7" fill="none" stroke="#000" stroke-width="8.33" stroke-linejoin="round"/>
<path d="M3009.2,1316.8 C3008.7,1313.2 3006.2,1302.5 3006.6,1294.9 C3007.1,1287.3 3008.9,1276.9 3011.7,1271.1 C3014.6,1265.4 3017.2,1262.9 3023.6,1260.5 C3030.0,1258.1 3035.2,1257.1 3049.9,1256.7 C3064.7,1256.3 3090.4,1258.4 3112.0,1258.2 C3133.5,1258.0 3163.1,1255.1 3179.1,1255.6 C3195.1,1256.2 3201.4,1258.0 3207.9,1261.4 C3214.5,1264.7 3216.1,1266.6 3218.6,1275.8 C3221.0,1285.1 3221.7,1310.0 3222.4,1316.8" fill="none" stroke="#000" stroke-width="4.17" stroke-dasharray="15.4,6.7"/>
<path d="M3006.2,1356.5 L3007.5,1373.5" fill="none" stroke="#000" stroke-width="4.17" stroke-dasharray="15.4,6.7"/>
<path d="M3221.1,1356.5 L3219.8,1373.5" fill="none" stroke="#000" stroke-width="4.17" stroke-dasharray="15.4,6.7"/>
<path d="M3011.7,1531.1 C3014.9,1529.2 3022.1,1522.7 3030.8,1520.0 C3039.6,1517.3 3058.8,1515.6 3064.4,1514.7" fill="none" stroke="#000" stroke-width="8.33" stroke-linejoin="round"/>
<path d="M3162.5,1514.7 C3168.1,1515.6 3187.1,1517.3 3196.0,1520.0 C3205.0,1522.7 3213.0,1529.2 3216.4,1531.1" fill="none" stroke="#000" stroke-width="8.33" stroke-linejoin="round"/>
<text transform="translate(3113.7,1187.3)" x="-42.3" y="0" font-size="39.0" font-weight="normal" fill="#000" textLength="84.3" lengthAdjust="spacingAndGlyphs" >-200</text>
<text transform="translate(3113.7,1527.3)" x="-42.3" y="0" font-size="39.0" font-weight="normal" fill="#000" textLength="84.3" lengthAdjust="spacingAndGlyphs" >-300</text>
<text transform="translate(2952.0,1982.8)" x="-2.6" y="0" font-size="43.3" font-weight="bold" fill="#000" textLength="65.9" lengthAdjust="spacingAndGlyphs" >(p)</text>
</g>
<path d="M2939.0,1048.6 h-14.6 M2939.0,1260.9 h-14.6 M2939.0,1473.3 h-14.6 M2939.0,1685.6 h-14.6 M2939.0,1898.0 h-14.6 M2943.8,2006.3 v14.6 M3113.7,2006.3 v14.6 M3283.5,2006.3 v14.6 " stroke="#000" stroke-width="3.33" fill="none"/>
<rect x="2939.0" y="940.3" width="349.3" height="1066.0" fill="none" stroke="#000" stroke-width="3.33"/>
<text transform="translate(2954.5,2081.5) rotate(-45.0)" x="-33.7" y="0" font-size="43.3" font-weight="normal" fill="#000" textLength="67.1" lengthAdjust="spacingAndGlyphs" >-40</text>
<text transform="translate(3124.4,2068.5) rotate(-45.0)" x="-12.2" y="0" font-size="43.3" font-weight="normal" fill="#000" textLength="24.4" lengthAdjust="spacingAndGlyphs" >0</text>
<text transform="translate(3294.3,2077.0) rotate(-45.0)" x="-25.2" y="0" font-size="43.3" font-weight="normal" fill="#000" textLength="51.1" lengthAdjust="spacingAndGlyphs" >40</text>
<text transform="translate(3113.7,2174.5)" x="-68.2" y="0" font-size="60.7" font-weight="normal" fill="#000" textLength="136.4" lengthAdjust="spacingAndGlyphs" >[km]</text>
<g clip-path="url(#cp_q)">
<rect x="3332.1" y="940.3" width="349.3" height="1066.0" fill="#e8e8e8" />
<rect x="3332.1" y="940.3" width="349.3" height="1066.0" fill="url(#gd_q)" />
<g clip-path="url(#q_c)">
<path d="M3328.4,961.5 L3328.4,1241.8 L3392.1,1241.8 L3392.1,1318.3 L3400.6,1318.3 L3400.6,1543.4 L3409.1,1543.4 L3409.1,1568.9 L3417.6,1568.9 L3417.6,1573.1 L3434.6,1573.1 L3434.6,1577.3 L3506.8,1577.3 L3506.8,1577.3 L3578.9,1577.3 L3578.9,1573.1 L3595.9,1573.1 L3595.9,1568.9 L3604.4,1568.9 L3604.4,1543.4 L3612.9,1543.4 L3612.9,1318.3 L3621.4,1318.3 L3621.4,1241.8 L3685.1,1241.8 L3685.1,961.5 Z" fill="url(#q_v)" stroke="none" stroke-width="0.00" />
<rect x="3328.4" y="1171.8" width="55.2" height="72.2" fill="#04050b" opacity="0.8" filter="url(#b8)"/>
<rect x="3629.9" y="1171.8" width="55.2" height="72.2" fill="#04050b" opacity="0.8" filter="url(#b8)"/>
<rect x="3332.1" y="940.3" width="349.3" height="1066.0" fill="url(#gl_q)" />
</g>
<rect x="3392.1" y="1356.5" width="8.5" height="17.0" fill="#5f136e" />
<rect x="3612.9" y="1356.5" width="8.5" height="17.0" fill="#5f136e" />
<rect x="3392.1" y="1309.8" width="8.5" height="8.5" fill="#5f136e" />
<rect x="3612.9" y="1309.8" width="8.5" height="8.5" fill="#5f136e" />
<rect x="3375.1" y="1178.1" width="8.5" height="65.8" fill="#e8e8e8" />
<rect x="3629.9" y="1178.1" width="8.5" height="65.8" fill="#e8e8e8" />
<rect x="3328.4" y="938.2" width="356.7" height="23.4" fill="#969696" />
<rect x="3328.4" y="938.2" width="356.7" height="23.4" fill="url(#gl_q)" />
<text transform="translate(3345.1,1982.8)" x="-2.6" y="0" font-size="43.3" font-weight="bold" fill="#000" textLength="65.9" lengthAdjust="spacingAndGlyphs" >(q)</text>
<text transform="translate(3669.1,1952.0)" x="-252.2" y="0" font-size="47.7" font-weight="normal" fill="#000" textLength="251.7" lengthAdjust="spacingAndGlyphs" >10.99 m/yr</text>
<text transform="translate(3669.1,1993.8)" x="-261.0" y="0" font-size="47.7" font-weight="normal" fill="#000" textLength="260.5" lengthAdjust="spacingAndGlyphs" >15.78 Gt/yr</text>
</g>
<path d="M3332.1,1048.6 h-14.6 M3332.1,1260.9 h-14.6 M3332.1,1473.3 h-14.6 M3332.1,1685.6 h-14.6 M3332.1,1898.0 h-14.6 M3336.9,2006.3 v14.6 M3506.8,2006.3 v14.6 M3676.6,2006.3 v14.6 " stroke="#000" stroke-width="3.33" fill="none"/>
<rect x="3332.1" y="940.3" width="349.3" height="1066.0" fill="none" stroke="#000" stroke-width="3.33"/>
<text transform="translate(3347.6,2081.5) rotate(-45.0)" x="-33.7" y="0" font-size="43.3" font-weight="normal" fill="#000" textLength="67.1" lengthAdjust="spacingAndGlyphs" >-40</text>
<text transform="translate(3517.5,2068.5) rotate(-45.0)" x="-12.2" y="0" font-size="43.3" font-weight="normal" fill="#000" textLength="24.4" lengthAdjust="spacingAndGlyphs" >0</text>
<text transform="translate(3687.4,2077.0) rotate(-45.0)" x="-25.2" y="0" font-size="43.3" font-weight="normal" fill="#000" textLength="51.1" lengthAdjust="spacingAndGlyphs" >40</text>
<text transform="translate(3506.8,2174.5)" x="-68.2" y="0" font-size="60.7" font-weight="normal" fill="#000" textLength="136.4" lengthAdjust="spacingAndGlyphs" >[km]</text>
<g clip-path="url(#cp_r)">
<rect x="3725.2" y="940.3" width="349.3" height="1066.0" fill="url(#r_sd)" />
<path d="M3810.7,1568.9 L3989.0,1568.9 L4044.2,2065.8 L3755.5,2065.8 Z" fill="url(#r_sw)" stroke="none" stroke-width="0.00" filter="url(#b25)"/>
<path d="M3831.9,1566.7 L3967.8,1566.7 L3993.3,2023.3 L3806.4,2023.3 Z" fill="url(#r_st)" stroke="none" stroke-width="0.00" filter="url(#b14)"/>
<g clip-path="url(#r_c)">
<path d="M3721.5,961.5 L3721.5,1241.8 L3785.2,1241.8 L3785.2,1318.3 L3793.7,1318.3 L3793.7,1543.4 L3802.2,1543.4 L3802.2,1568.9 L3810.7,1568.9 L3810.7,1573.1 L3827.7,1573.1 L3827.7,1577.3 L3899.8,1577.3 L3899.8,1577.3 L3972.0,1577.3 L3972.0,1573.1 L3989.0,1573.1 L3989.0,1568.9 L3997.5,1568.9 L3997.5,1543.4 L4006.0,1543.4 L4006.0,1318.3 L4014.5,1318.3 L4014.5,1241.8 L4078.2,1241.8 L4078.2,961.5 Z" fill="url(#r_sh)" stroke="none" stroke-width="0.00" />
<path d="M3721.5,1498.8 L3785.2,1498.8 L3785.2,1498.8 L3793.7,1498.8 L3793.7,1537.0" fill="none" stroke="#392a73" stroke-width="26.00" filter="url(#b8)" stroke-linejoin="round"/>
<path d="M3721.5,1498.8 L3785.2,1498.8 L3785.2,1498.8 L3793.7,1498.8 L3793.7,1537.0" fill="none" stroke="#36215f" stroke-width="10.00" filter="url(#b8)" stroke-linejoin="round"/>
<path d="M4006.0,1537.0 L4006.0,1498.8 L4014.5,1498.8 L4014.5,1498.8 L4078.2,1498.8" fill="none" stroke="#392a73" stroke-width="26.00" filter="url(#b8)" stroke-linejoin="round"/>
<path d="M4006.0,1537.0 L4006.0,1498.8 L4014.5,1498.8 L4014.5,1498.8 L4078.2,1498.8" fill="none" stroke="#36215f" stroke-width="10.00" filter="url(#b8)" stroke-linejoin="round"/>
</g>
<path d="M3721.5,1241.8H3785.2V1246.1H3721.5ZM3776.7,1241.8H3785.2V1322.5H3776.7ZM3785.2,1318.3H3793.7V1322.5H3785.2ZM3785.2,1318.3H3793.7V1547.6H3785.2ZM3793.7,1543.4H3802.2V1547.6H3793.7ZM3793.7,1543.4H3802.2V1573.1H3793.7ZM3802.2,1568.9H3810.7V1573.1H3802.2ZM3802.2,1568.9H3810.7V1577.3H3802.2ZM3810.7,1573.1H3827.7V1577.3H3810.7ZM3819.2,1573.1H3827.7V1581.6H3819.2ZM3827.7,1577.3H3899.8V1581.6H3827.7ZM3899.8,1577.3H3972.0V1581.6H3899.8ZM3972.0,1573.1H3980.5V1581.6H3972.0ZM3972.0,1573.1H3989.0V1577.3H3972.0ZM3989.0,1568.9H3997.5V1577.3H3989.0ZM3989.0,1568.9H3997.5V1573.1H3989.0ZM3997.5,1543.4H4006.0V1573.1H3997.5ZM3997.5,1543.4H4006.0V1547.6H3997.5ZM4006.0,1318.3H4014.5V1547.6H4006.0ZM4006.0,1318.3H4014.5V1322.5H4006.0ZM4014.5,1241.8H4023.0V1322.5H4014.5ZM4014.5,1241.8H4078.2V1246.1H4014.5Z" fill="#f3f8f1" stroke="none" stroke-width="0.00" />
<rect x="3721.5" y="938.2" width="356.7" height="23.4" fill="#969696" />
<rect x="3725.2" y="940.3" width="349.3" height="1066.0" fill="url(#gl_r)" />
<g clip-path="url(#r_c)">
<ellipse cx="3899.8" cy="1583.7" rx="89.2" ry="106.2" fill="#477bf2" filter="url(#b25)" opacity="0.9"/>
<ellipse cx="3899.8" cy="1583.7" rx="72.2" ry="51.0" fill="#38a5fb" filter="url(#b14)"/>
<ellipse cx="3899.8" cy="1581.6" rx="59.5" ry="19.1" fill="#20c7df" filter="url(#b8)"/>
</g>
<g clip-path="url(#r_c)">
<path d="M3721.5,1101.7 L3747.0,1101.7 L3772.4,1176.0 L3780.9,1246.1 L3721.5,1246.1 Z" fill="url(#r_sp)" stroke="none" stroke-width="0.00" filter="url(#b14)"/>
<path d="M4078.2,1101.7 L4052.7,1101.7 L4027.3,1176.0 L4018.8,1246.1 L4078.2,1246.1 Z" fill="url(#r_sp)" stroke="none" stroke-width="0.00" filter="url(#b14)"/>
</g>
<path d="M3721.5,1241.8H3785.2V1246.1H3721.5ZM3776.7,1241.8H3785.2V1322.5H3776.7ZM3785.2,1318.3H3793.7V1322.5H3785.2ZM3785.2,1318.3H3793.7V1547.6H3785.2ZM3793.7,1543.4H3802.2V1547.6H3793.7ZM3793.7,1543.4H3802.2V1573.1H3793.7ZM3802.2,1568.9H3810.7V1573.1H3802.2ZM3802.2,1568.9H3810.7V1577.3H3802.2ZM3810.7,1573.1H3827.7V1577.3H3810.7ZM3819.2,1573.1H3827.7V1581.6H3819.2ZM3827.7,1577.3H3899.8V1581.6H3827.7ZM3899.8,1577.3H3972.0V1581.6H3899.8ZM3972.0,1573.1H3980.5V1581.6H3972.0ZM3972.0,1573.1H3989.0V1577.3H3972.0ZM3989.0,1568.9H3997.5V1577.3H3989.0ZM3989.0,1568.9H3997.5V1573.1H3989.0ZM3997.5,1543.4H4006.0V1573.1H3997.5ZM3997.5,1543.4H4006.0V1547.6H3997.5ZM4006.0,1318.3H4014.5V1547.6H4006.0ZM4006.0,1318.3H4014.5V1322.5H4006.0ZM4014.5,1241.8H4023.0V1322.5H4014.5ZM4014.5,1241.8H4078.2V1246.1H4014.5Z" fill="#f3f8f1" stroke="none" stroke-width="0.00" />
<rect x="3768.2" y="1178.1" width="8.5" height="65.8" fill="#f3f8f1" />
<rect x="4023.0" y="1178.1" width="8.5" height="65.8" fill="#f3f8f1" />
<rect x="3725.2" y="940.3" width="349.3" height="1066.0" fill="url(#gl_r)" />
<use href="#ar" transform="translate(3747.0,984.9) rotate(0)"/><use href="#ar" transform="translate(3789.4,984.9) rotate(0)"/><use href="#ar" transform="translate(3831.9,984.9) rotate(0)"/><use href="#ar" transform="translate(3874.4,984.9) rotate(0)"/><use href="#ar" transform="translate(3916.8,984.9) rotate(0)"/><use href="#ar" transform="translate(3959.3,984.9) rotate(0)"/><use href="#ar" transform="translate(4001.8,984.9) rotate(0)"/><use href="#ar" transform="translate(4044.2,984.9) rotate(0)"/><use href="#ar" transform="translate(3747.0,1048.6) rotate(0)"/><use href="#ar" transform="translate(3789.4,1048.6) rotate(0)"/><use href="#ar" transform="translate(3831.9,1048.6) rotate(0)"/><use href="#ar" transform="translate(3874.4,1048.6) rotate(0)"/><use href="#ar" transform="translate(3916.8,1048.6) rotate(0)"/><use href="#ar" transform="translate(3959.3,1048.6) rotate(0)"/><use href="#ar" transform="translate(4001.8,1048.6) rotate(0)"/><use href="#ar" transform="translate(4044.2,1048.6) rotate(0)"/><use href="#ar" transform="translate(3747.0,1112.3) rotate(0)"/><use href="#ar" transform="translate(3789.4,1112.3) rotate(0)"/><use href="#ar" transform="translate(3831.9,1112.3) rotate(0)"/><use href="#ar" transform="translate(3874.4,1112.3) rotate(0)"/><use href="#ar" transform="translate(3916.8,1112.3) rotate(0)"/><use href="#ar" transform="translate(3959.3,1112.3) rotate(0)"/><use href="#ar" transform="translate(4001.8,1112.3) rotate(0)"/><use href="#ar" transform="translate(4044.2,1112.3) rotate(0)"/><use href="#ar" transform="translate(3747.0,1176.0) rotate(-4)"/><use href="#ar" transform="translate(3789.4,1176.0) rotate(-5)"/><use href="#ar" transform="translate(3831.9,1176.0) rotate(-3)"/><use href="#ar" transform="translate(3874.4,1176.0) rotate(0)"/><use href="#ar" transform="translate(3916.8,1176.0) rotate(0)"/><use href="#ar" transform="translate(3959.3,1176.0) rotate(3)"/><use href="#ar" transform="translate(4001.8,1176.0) rotate(5)"/><use href="#ar" transform="translate(4044.2,1176.0) rotate(6)"/><use href="#ar" transform="translate(3747.0,1239.7) rotate(-11)"/><use href="#ar" transform="translate(3789.4,1239.7) rotate(-10)"/><use href="#ar" transform="translate(3831.9,1239.7) rotate(-5)"/><use href="#ar" transform="translate(3874.4,1239.7) rotate(0)"/><use href="#ar" transform="translate(3916.8,1239.7) rotate(0)"/><use href="#ar" transform="translate(3959.3,1239.7) rotate(5)"/><use href="#ar" transform="translate(4001.8,1239.7) rotate(8)"/><use href="#ar" transform="translate(4044.2,1239.7) rotate(17)"/><use href="#ar" transform="translate(3747.0,1303.4) rotate(87)"/><use href="#ar" transform="translate(3789.4,1303.4) rotate(37)"/><use href="#ar" transform="translate(3831.9,1303.4) rotate(6)"/><use href="#ar" transform="translate(3874.4,1303.4) rotate(2)"/><use href="#ar" transform="translate(3916.8,1303.4) rotate(-2)"/><use href="#ar" transform="translate(3959.3,1303.4) rotate(-6)"/><use href="#ar" transform="translate(4001.8,1303.4) rotate(-20)"/><use href="#ar" transform="translate(4044.2,1303.4) rotate(-89)"/><use href="#ar" transform="translate(3747.0,1367.1) rotate(90)"/><use href="#ar" transform="translate(3789.4,1367.1) rotate(48)"/><use href="#ar" transform="translate(3831.9,1367.1) rotate(6)"/><use href="#ar" transform="translate(3874.4,1367.1) rotate(1)"/><use href="#ar" transform="translate(3916.8,1367.1) rotate(-1)"/><use href="#ar" transform="translate(3959.3,1367.1) rotate(-6)"/><use href="#ar" transform="translate(4001.8,1367.1) rotate(-28)"/><use href="#ar" transform="translate(4044.2,1367.1) rotate(-90)"/><use href="#ar" transform="translate(3747.0,1430.8) rotate(90)"/><use href="#ar" transform="translate(3789.4,1430.8) rotate(60)"/><use href="#ar" transform="translate(3831.9,1430.8) rotate(4)"/><use href="#ar" transform="translate(3874.4,1430.8) rotate(1)"/><use href="#ar" transform="translate(3916.8,1430.8) rotate(-1)"/><use href="#ar" transform="translate(3959.3,1430.8) rotate(-5)"/><use href="#ar" transform="translate(4001.8,1430.8) rotate(-36)"/><use href="#ar" transform="translate(4044.2,1430.8) rotate(-90)"/><use href="#ar" transform="translate(3747.0,1494.5) rotate(90)"/><use href="#ar" transform="translate(3789.4,1494.5) rotate(47)"/><use href="#ar" transform="translate(3831.9,1494.5) rotate(-3)"/><use href="#ar" transform="translate(3874.4,1494.5) rotate(0)"/><use href="#ar" transform="translate(3916.8,1494.5) rotate(0)"/><use href="#ar" transform="translate(3959.3,1494.5) rotate(-1)"/><use href="#ar" transform="translate(4001.8,1494.5) rotate(-16)"/><use href="#ar" transform="translate(4044.2,1494.5) rotate(-90)"/><use href="#ar" transform="translate(3747.0,1558.2) rotate(61)"/><use href="#ar" transform="translate(3789.4,1558.2) rotate(42)"/><use href="#ar" transform="translate(3831.9,1558.2) rotate(0)"/><use href="#ar" transform="translate(3874.4,1558.2) rotate(0)"/><use href="#ar" transform="translate(3916.8,1558.2) rotate(0)"/><use href="#ar" transform="translate(3959.3,1558.2) rotate(0)"/><use href="#ar" transform="translate(4001.8,1558.2) rotate(-18)"/><use href="#ar" transform="translate(4044.2,1558.2) rotate(-66)"/><use href="#ar" transform="translate(3747.0,1621.9) rotate(16)"/><use href="#ar" transform="translate(3789.4,1621.9) rotate(17)"/><use href="#ar" transform="translate(3831.9,1621.9) rotate(6)"/><use href="#ar" transform="translate(3874.4,1621.9) rotate(2)"/><use href="#ar" transform="translate(3916.8,1621.9) rotate(-2)"/><use href="#ar" transform="translate(3959.3,1621.9) rotate(-6)"/><use href="#ar" transform="translate(4001.8,1621.9) rotate(-14)"/><use href="#ar" transform="translate(4044.2,1621.9) rotate(-19)"/><use href="#ar" transform="translate(3747.0,1685.6) rotate(6)"/><use href="#ar" transform="translate(3789.4,1685.6) rotate(9)"/><use href="#ar" transform="translate(3831.9,1685.6) rotate(4)"/><use href="#ar" transform="translate(3874.4,1685.6) rotate(1)"/><use href="#ar" transform="translate(3916.8,1685.6) rotate(-1)"/><use href="#ar" transform="translate(3959.3,1685.6) rotate(-4)"/><use href="#ar" transform="translate(4001.8,1685.6) rotate(-8)"/><use href="#ar" transform="translate(4044.2,1685.6) rotate(-9)"/><use href="#ar" transform="translate(3747.0,1749.4) rotate(3)"/><use href="#ar" transform="translate(3789.4,1749.4) rotate(5)"/><use href="#ar" transform="translate(3831.9,1749.4) rotate(2)"/><use href="#ar" transform="translate(3874.4,1749.4) rotate(1)"/><use href="#ar" transform="translate(3916.8,1749.4) rotate(-1)"/><use href="#ar" transform="translate(3959.3,1749.4) rotate(-2)"/><use href="#ar" transform="translate(4001.8,1749.4) rotate(-4)"/><use href="#ar" transform="translate(4044.2,1749.4) rotate(-5)"/><use href="#ar" transform="translate(3747.0,1813.1) rotate(3)"/><use href="#ar" transform="translate(3789.4,1813.1) rotate(5)"/><use href="#ar" transform="translate(3831.9,1813.1) rotate(2)"/><use href="#ar" transform="translate(3874.4,1813.1) rotate(1)"/><use href="#ar" transform="translate(3916.8,1813.1) rotate(-1)"/><use href="#ar" transform="translate(3959.3,1813.1) rotate(-2)"/><use href="#ar" transform="translate(4001.8,1813.1) rotate(-4)"/><use href="#ar" transform="translate(4044.2,1813.1) rotate(-5)"/><use href="#ar" transform="translate(3747.0,1876.8) rotate(3)"/><use href="#ar" transform="translate(3789.4,1876.8) rotate(5)"/><use href="#ar" transform="translate(3831.9,1876.8) rotate(2)"/><use href="#ar" transform="translate(3874.4,1876.8) rotate(1)"/><use href="#ar" transform="translate(3916.8,1876.8) rotate(-1)"/><use href="#ar" transform="translate(3959.3,1876.8) rotate(-2)"/><use href="#ar" transform="translate(4001.8,1876.8) rotate(-4)"/><use href="#ar" transform="translate(4044.2,1876.8) rotate(-5)"/><use href="#ar" transform="translate(3747.0,1940.5) rotate(3)"/><use href="#ar" transform="translate(3789.4,1940.5) rotate(5)"/><use href="#ar" transform="translate(3831.9,1940.5) rotate(2)"/><use href="#ar" transform="translate(3874.4,1940.5) rotate(1)"/><use href="#ar" transform="translate(3916.8,1940.5) rotate(-1)"/><use href="#ar" transform="translate(3959.3,1940.5) rotate(-2)"/><use href="#ar" transform="translate(4001.8,1940.5) rotate(-4)"/><use href="#ar" transform="translate(4044.2,1940.5) rotate(-5)"/><use href="#ar" transform="translate(3747.0,2004.2) rotate(3)"/><use href="#ar" transform="translate(3789.4,2004.2) rotate(5)"/><use href="#ar" transform="translate(3831.9,2004.2) rotate(2)"/><use href="#ar" transform="translate(3874.4,2004.2) rotate(1)"/><use href="#ar" transform="translate(3916.8,2004.2) rotate(-1)"/><use href="#ar" transform="translate(3959.3,2004.2) rotate(-2)"/><use href="#ar" transform="translate(4001.8,2004.2) rotate(-4)"/><use href="#ar" transform="translate(4044.2,2004.2) rotate(-5)"/>
<text transform="translate(3738.2,1982.8)" x="-2.7" y="0" font-size="43.3" font-weight="bold" fill="#fff" textLength="56.8" lengthAdjust="spacingAndGlyphs" >(r)</text>
</g>
<path d="M3725.2,1048.6 h-14.6 M3725.2,1260.9 h-14.6 M3725.2,1473.3 h-14.6 M3725.2,1685.6 h-14.6 M3725.2,1898.0 h-14.6 M3730.0,2006.3 v14.6 M3899.8,2006.3 v14.6 M4069.7,2006.3 v14.6 " stroke="#000" stroke-width="3.33" fill="none"/>
<rect x="3725.2" y="940.3" width="349.3" height="1066.0" fill="none" stroke="#000" stroke-width="3.33"/>
<text transform="translate(3740.7,2081.5) rotate(-45.0)" x="-33.7" y="0" font-size="43.3" font-weight="normal" fill="#000" textLength="67.1" lengthAdjust="spacingAndGlyphs" >-40</text>
<text transform="translate(3910.6,2068.5) rotate(-45.0)" x="-12.2" y="0" font-size="43.3" font-weight="normal" fill="#000" textLength="24.4" lengthAdjust="spacingAndGlyphs" >0</text>
<text transform="translate(4080.5,2077.0) rotate(-45.0)" x="-25.2" y="0" font-size="43.3" font-weight="normal" fill="#000" textLength="51.1" lengthAdjust="spacingAndGlyphs" >40</text>
<text transform="translate(3899.8,2174.5)" x="-68.2" y="0" font-size="60.7" font-weight="normal" fill="#000" textLength="136.4" lengthAdjust="spacingAndGlyphs" >[km]</text>
<text transform="translate(182.5,466.7) rotate(-90.0)" x="-68.2" y="0" font-size="60.7" font-weight="normal" fill="#000" textLength="136.4" lengthAdjust="spacingAndGlyphs" >[km]</text>
<text transform="translate(182.5,1473.4) rotate(-90.0)" x="-68.2" y="0" font-size="60.7" font-weight="normal" fill="#000" textLength="136.4" lengthAdjust="spacingAndGlyphs" >[km]</text>
<text transform="translate(64.3,411.3) rotate(-90.0)" x="-227.4" y="0" font-size="60.7" font-weight="normal" fill="#000" textLength="452.0" lengthAdjust="spacingAndGlyphs" >Model year 200</text>
<text transform="translate(64.3,1398.0) rotate(-90.0)" x="-246.0" y="0" font-size="60.7" font-weight="normal" fill="#000" textLength="489.2" lengthAdjust="spacingAndGlyphs" >Model year 1000</text>
<text transform="translate(920.5,68.5)" x="-103.5" y="0" font-size="69.3" font-weight="bold" fill="#17becf" textLength="208.8" lengthAdjust="spacingAndGlyphs" >QU_M</text>
<text transform="translate(2213.9,68.5)" x="-85.4" y="0" font-size="69.3" font-weight="bold" fill="#bcbd22" textLength="170.9" lengthAdjust="spacingAndGlyphs" >PI_M</text>
<text transform="translate(3506.8,68.5)" x="-94.1" y="0" font-size="69.3" font-weight="bold" fill="#969696" textLength="188.2" lengthAdjust="spacingAndGlyphs" >PL_M</text>
<path d="M407.0,2262.3 L1487.8,2262.3 L1487.8,2319.6 L407.0,2319.6 L352.8,2290.9 Z" fill="url(#cb1)" stroke="#000" stroke-width="3" stroke-linejoin="miter"/>
<path d="M407.5,2263.8 L354.5,2290.9 L407.5,2318.1 Z" fill="#281a2c"/>
<path d="M715.8,2319.6 v14.6" stroke="#000" stroke-width="3.33"/>
<text transform="translate(715.8,2392.8)" x="-65.7" y="0" font-size="60.7" font-weight="normal" fill="#000" textLength="131.1" lengthAdjust="spacingAndGlyphs" >-500</text>
<path d="M1101.8,2319.6 v14.6" stroke="#000" stroke-width="3.33"/>
<text transform="translate(1101.8,2392.8)" x="-65.7" y="0" font-size="60.7" font-weight="normal" fill="#000" textLength="131.1" lengthAdjust="spacingAndGlyphs" >-250</text>
<path d="M1487.8,2319.6 v14.6" stroke="#000" stroke-width="3.33"/>
<text transform="translate(1487.8,2392.8)" x="-17.1" y="0" font-size="60.7" font-weight="normal" fill="#000" textLength="34.2" lengthAdjust="spacingAndGlyphs" >0</text>
<text transform="translate(947.4,2466.4)" x="-182.9" y="0" font-size="60.7" font-weight="normal" fill="#000" textLength="364.3" lengthAdjust="spacingAndGlyphs" >Ice draft [m]</text>
<path d="M1697.6,2262.3 L2728.8,2262.3 L2781.0,2290.9 L2728.8,2319.6 L1697.6,2319.6 L1645.2,2290.9 Z" fill="url(#cb2)" stroke="#000" stroke-width="3"/>
<path d="M1698.1,2263.8 L1647.5,2290.9 L1698.1,2318.1 Z" fill="#eafdfd"/>
<path d="M2728.3,2263.8 L2778.5,2290.9 L2728.3,2318.1 Z" fill="#fcffa4"/>
<path d="M1697.6,2319.6 v14.6" stroke="#000" stroke-width="3.33"/>
<text transform="translate(1697.6,2392.8)" x="-47.2" y="0" font-size="60.7" font-weight="normal" fill="#000" textLength="94.0" lengthAdjust="spacingAndGlyphs" >-10</text>
<path d="M1921.9,2319.6 v14.6" stroke="#000" stroke-width="3.33"/>
<text transform="translate(1921.9,2392.8)" x="-27.7" y="0" font-size="60.7" font-weight="normal" fill="#000" textLength="55.8" lengthAdjust="spacingAndGlyphs" >-1</text>
<path d="M2100.8,2319.6 v14.6" stroke="#000" stroke-width="3.33"/>
<text transform="translate(2100.8,2392.8)" x="-17.1" y="0" font-size="60.7" font-weight="normal" fill="#000" textLength="34.2" lengthAdjust="spacingAndGlyphs" >0</text>
<path d="M2280.7,2319.6 v14.6" stroke="#000" stroke-width="3.33"/>
<text transform="translate(2280.7,2392.8)" x="-17.1" y="0" font-size="60.7" font-weight="normal" fill="#000" textLength="32.7" lengthAdjust="spacingAndGlyphs" >1</text>
<path d="M2504.5,2319.6 v14.6" stroke="#000" stroke-width="3.33"/>
<text transform="translate(2504.5,2392.8)" x="-36.9" y="0" font-size="60.7" font-weight="normal" fill="#000" textLength="71.3" lengthAdjust="spacingAndGlyphs" >10</text>
<path d="M2728.8,2319.6 v14.6" stroke="#000" stroke-width="3.33"/>
<text transform="translate(2728.8,2392.8)" x="-55.5" y="0" font-size="60.7" font-weight="normal" fill="#000" textLength="108.6" lengthAdjust="spacingAndGlyphs" >100</text>
<path d="M2080.2,2319.6 v8" stroke="#000" stroke-width="2.5"/>
<path d="M2121.4,2319.6 v8" stroke="#000" stroke-width="2.5"/>
<text transform="translate(2213.2,2466.4)" x="-309.4" y="0" font-size="60.7" font-weight="normal" fill="#000" textLength="620.4" lengthAdjust="spacingAndGlyphs" >Sub-shelf melt [m/yr]</text>
<path d="M2938.9,2262.3 L4019.1,2262.3 L4074.3,2290.9 L4019.1,2319.6 L2938.9,2319.6 Z" fill="url(#cb3)" stroke="#000" stroke-width="3"/>
<path d="M4018.6,2263.8 L4071.8,2290.9 L4018.6,2318.1 Z" fill="#7a0403"/>
<path d="M2938.9,2319.6 v14.6" stroke="#000" stroke-width="3.33"/>
<text transform="translate(2938.9,2392.8)" x="-17.1" y="0" font-size="60.7" font-weight="normal" fill="#000" textLength="34.2" lengthAdjust="spacingAndGlyphs" >0</text>
<path d="M3479.0,2319.6 v14.6" stroke="#000" stroke-width="3.33"/>
<text transform="translate(3479.0,2392.8)" x="-74.1" y="0" font-size="60.7" font-weight="normal" fill="#000" textLength="145.7" lengthAdjust="spacingAndGlyphs" >1000</text>
<path d="M4019.1,2319.6 v14.6" stroke="#000" stroke-width="3.33"/>
<text transform="translate(4019.1,2392.8)" x="-73.5" y="0" font-size="60.7" font-weight="normal" fill="#000" textLength="146.2" lengthAdjust="spacingAndGlyphs" >2000</text>
<text transform="translate(3479.0,2466.4)" x="-266.3" y="0" font-size="60.7" font-weight="normal" fill="#000" textLength="531.2" lengthAdjust="spacingAndGlyphs" >Ice velocity [m/yr]</text>
</svg>
</body></html>
